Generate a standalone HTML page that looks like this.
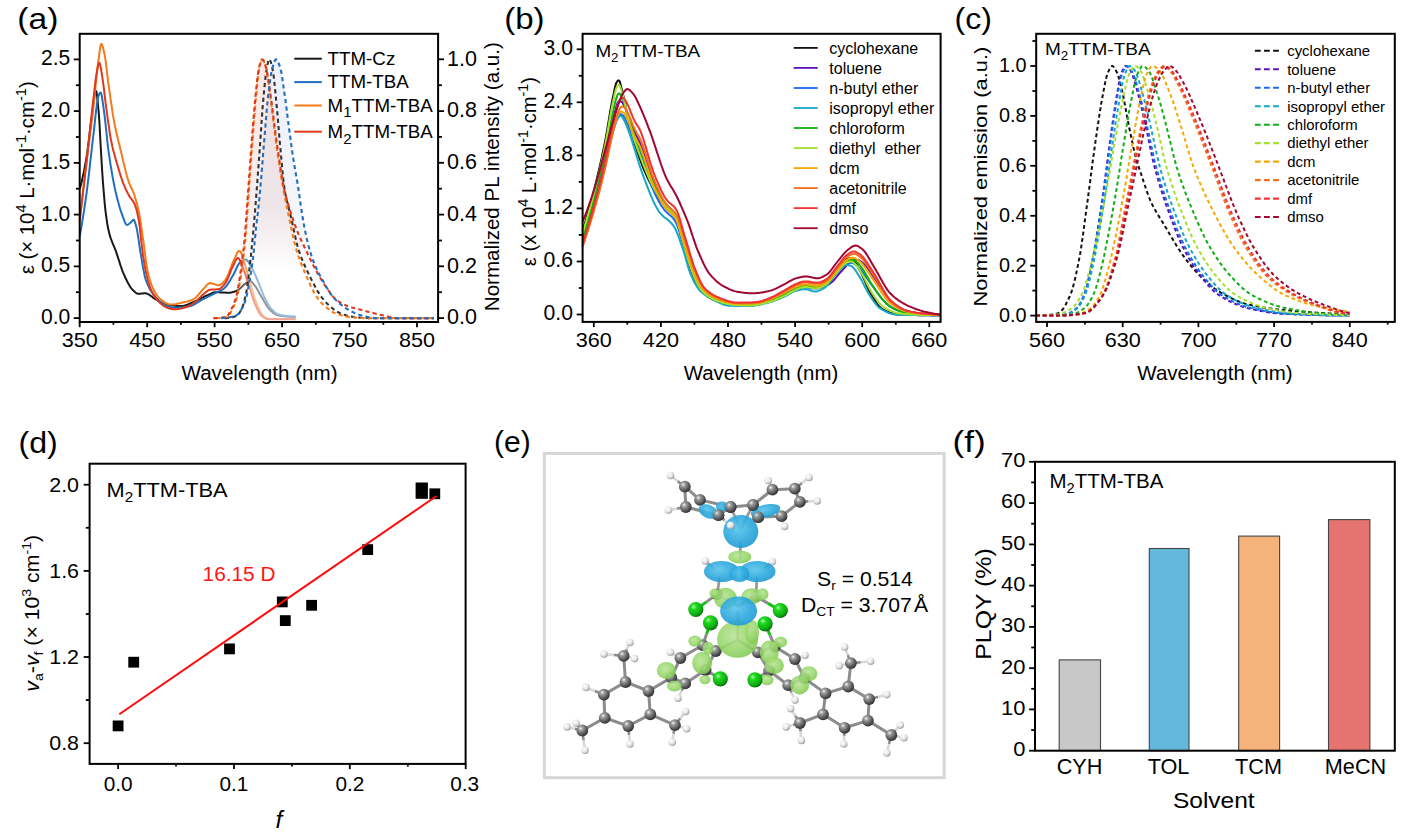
<!DOCTYPE html>
<html><head><meta charset="utf-8"><title>figure</title>
<style>
html,body{margin:0;padding:0;background:#fff;}
body{width:1414px;height:835px;overflow:hidden;font-family:"Liberation Sans",sans-serif;}
svg{display:block;font-family:"Liberation Sans",sans-serif;}
</style></head><body>
<svg width="1414" height="835" viewBox="0 0 1414 835">
<rect x="0" y="0" width="1414" height="835" fill="#fff"/>
<g id="panel_a">
<defs><linearGradient id="ga1" x1="0" y1="0" x2="0" y2="1"><stop offset="0" stop-color="#f0a090" stop-opacity="0.22"/><stop offset="0.55" stop-color="#e0b8b8" stop-opacity="0.26"/><stop offset="0.8" stop-color="#ffffff" stop-opacity="0.3"/><stop offset="1" stop-color="#ffffff" stop-opacity="0.32"/></linearGradient><linearGradient id="ga2" x1="0" y1="0" x2="0" y2="1"><stop offset="0" stop-color="#a8bce8" stop-opacity="0.22"/><stop offset="0.55" stop-color="#c8cce0" stop-opacity="0.2"/><stop offset="0.8" stop-color="#ffffff" stop-opacity="0.3"/><stop offset="1" stop-color="#ffffff" stop-opacity="0.32"/></linearGradient></defs>
<path d="M79.7 188.7L80.5 186.1L81.4 183L82.2 179.6L83 175.8L83.9 171.8L84.7 167.4L85.5 162.9L86.4 158.1L87.2 152.9L88 146.7L88.9 140L89.7 133.1L90.5 126.2L91.4 119.7L92.2 113.6L93 106.7L93.9 99.8L94.7 94.1L95.5 90.8L96.4 91.4L97.2 96.9L98 105.2L98.9 114.4L99.7 127.3L100.5 143L101.4 158.6L102.2 171.5L103 183.1L103.9 193.9L104.7 203.5L105.5 211.1L106.4 217.6L107.2 223.3L108 228.1L108.9 231.8L109.7 234.9L110.5 237.6L111.4 240L112.2 242.1L113 244.2L113.9 246.1L114.7 248.1L115.5 250.2L116.4 252.6L117.2 255.1L118 257.6L118.9 260.3L119.7 262.9L120.5 265.5L121.4 267.9L122.2 270.3L123 272.4L123.9 274.3L124.7 276.2L125.5 278L126.4 279.8L127.2 281.5L128 283.1L128.9 284.6L129.7 286L130.5 287.3L131.4 288.4L132.2 289.3L133 290.2L133.9 291L134.7 291.8L135.5 292.5L136.4 293.1L137.2 293.5L138 293.8L138.9 293.8L139.7 293.7L140.5 293.7L141.4 293.6L142.2 293.5L143 293.4L143.9 293.3L144.7 293.3L145.5 293.3L146.4 293.4L147.2 293.7L148 294.1L148.9 294.5L149.7 295.1L150.5 295.7L151.4 296.3L152.2 296.9L153 297.6L153.9 298.2L154.7 298.8L155.5 299.3L156.4 299.7L157.2 300.2L158 300.6L158.9 301.1L159.7 301.6L160.5 302.1L161.4 302.6L162.2 303L163 303.4L163.9 303.8L164.7 304.1L165.5 304.4L166.4 304.6L167.2 304.7L168 304.9L168.9 305L169.7 305.1L170.5 305.3L171.4 305.4L172.2 305.5L173.1 305.6L173.9 305.7L174.7 305.8L175.6 305.8L176.4 305.9L177.2 306L178.1 306L178.9 306.1L179.7 306.1L180.6 306.1L181.4 306.1L182.2 306L183.1 305.9L183.9 305.7L184.7 305.5L185.6 305.3L186.4 305L187.2 304.7L188.1 304.3L188.9 304L189.7 303.6L190.6 303.2L191.4 302.8L192.2 302.5L193.1 302.1L193.9 301.7L194.7 301.4L195.6 301L196.4 300.7L197.2 300.3L198.1 299.9L198.9 299.4L199.7 299L200.6 298.6L201.4 298.1L202.2 297.7L203.1 297.3L203.9 296.8L204.7 296.4L205.6 296L206.4 295.7L207.2 295.3L208.1 295L208.9 294.6L209.7 294.2L210.6 293.8L211.4 293.4L212.2 293.1L213.1 292.8L213.9 292.5L214.7 292.3L215.6 292.2L216.4 292.2L217.2 292.2L218.1 292.3L218.9 292.3L219.7 292.3L220.6 292.4L221.4 292.4L222.2 292.5L223.1 292.5L223.9 292.6L224.7 292.6L225.6 292.7L226.4 292.7L227.2 292.7L228.1 292.7L228.9 292.7L229.7 292.7L230.6 292.6L231.4 292.5L232.2 292.3L233.1 292L233.9 291.8L234.7 291.5L235.6 291.2L236.4 290.9L237.2 290.5L238.1 290.1L238.9 289.5L239.7 288.8L240.6 288L241.4 287.2L242.2 286.4L243.1 285.6L243.9 284.8L244.7 284.1L245.6 283.5L246.4 282.8L247.2 282.1L248.1 281.4L248.9 281L249.7 280.8L250.6 281.1L251.4 281.6L252.2 282.4L253.1 283.4L253.9 284.5L254.7 285.6L255.6 286.6L256.4 287.8L257.2 289.2L258.1 290.6L258.9 292.2L259.7 293.7L260.6 295.2L261.4 296.7L262.2 298L263.1 299.4L263.9 300.9L264.7 302.3L265.6 303.8L266.4 305.2L267.2 306.5L268.1 307.7L268.9 308.7L269.7 309.6L270.6 310.4L271.4 311.1L272.2 311.9L273.1 312.6L273.9 313.2L274.7 313.8L275.6 314.3L276.4 314.8L277.2 315.1L278.1 315.4L278.9 315.5L279.7 315.7L280.6 315.8L281.4 315.9L282.2 316L283.1 316.1L283.9 316.2L284.7 316.3L285.6 316.4L286.4 316.4L287.2 316.5L288.1 316.6L288.9 316.6L289.7 316.7L290.6 316.7L291.4 316.8L292.2 316.8L293.1 316.8L293.9 316.8L294.7 316.9L295.6 316.9" fill="none" stroke="#1a1a1a" stroke-width="2.0" stroke-linejoin="round" />
<path d="M79.7 236.3L80.5 231.9L81.4 227.1L82.2 222.2L83 217L83.9 211.7L84.7 206.1L85.5 200.4L86.4 194.5L87.2 188.2L88 181.5L88.9 174.5L89.7 167.2L90.5 159.8L91.4 152.4L92.2 145.2L93 138.2L93.9 131.2L94.7 123.5L95.5 115.6L96.4 108.3L97.2 102L98 97.4L98.9 94.9L99.7 93.3L100.5 92.5L101.4 94L102.2 98.3L103 104.2L103.9 110.3L104.7 116.5L105.5 123.9L106.4 131.9L107.2 139.9L108 147.4L108.9 153.6L109.7 159.2L110.5 164.6L111.4 169.7L112.2 174.6L113 179.1L113.9 183.5L114.7 187.6L115.5 191.4L116.4 194.9L117.2 198.3L118 201.5L118.9 204.5L119.7 207.4L120.5 210.1L121.4 212.6L122.2 214.9L123 217.1L123.9 219.4L124.7 221.6L125.5 223.5L126.4 224.7L127.2 224.9L128 224.6L128.9 224L129.7 223.3L130.5 222.7L131.4 221.8L132.2 220.8L133 220L133.9 219.8L134.7 221.3L135.5 224L136.4 227.1L137.2 230.9L138 236.1L138.9 241.8L139.7 247.5L140.5 252.6L141.4 257.5L142.2 262.5L143 267.4L143.9 271.9L144.7 275.9L145.5 279L146.4 281.3L147.2 283.4L148 285.3L148.9 287.1L149.7 288.7L150.5 290.2L151.4 291.5L152.2 292.8L153 294L153.9 295L154.7 296L155.5 297L156.4 297.9L157.2 298.7L158 299.6L158.9 300.4L159.7 301.1L160.5 301.8L161.4 302.5L162.2 303.1L163 303.7L163.9 304.2L164.7 304.7L165.5 305.2L166.4 305.5L167.2 305.9L168 306.2L168.9 306.5L169.7 306.8L170.5 307.1L171.4 307.4L172.2 307.6L173.1 307.7L173.9 307.7L174.7 307.7L175.6 307.7L176.4 307.7L177.2 307.7L178.1 307.6L178.9 307.6L179.7 307.5L180.6 307.4L181.4 307.4L182.2 307.3L183.1 307.2L183.9 307.1L184.7 307L185.6 306.8L186.4 306.7L187.2 306.6L188.1 306.5L188.9 306.3L189.7 306.2L190.6 306L191.4 305.7L192.2 305.4L193.1 305.1L193.9 304.6L194.7 304.2L195.6 303.7L196.4 303.2L197.2 302.7L198.1 302.1L198.9 301.6L199.7 301.1L200.6 300.5L201.4 300.1L202.2 299.6L203.1 299.2L203.9 298.8L204.7 298.3L205.6 297.9L206.4 297.5L207.2 297.1L208.1 296.7L208.9 296.3L209.7 295.9L210.6 295.5L211.4 295.1L212.2 294.6L213.1 294.2L213.9 293.8L214.7 293.4L215.6 293L216.4 292.5L217.2 292.1L218.1 291.7L218.9 291.4L219.7 291L220.6 290.6L221.4 290.1L222.2 289.7L223.1 289.1L223.9 288.5L224.7 287.8L225.6 287L226.4 285.9L227.2 284.8L228.1 283.6L228.9 282.2L229.7 280.9L230.6 279.5L231.4 278.1L232.2 276.7L233.1 275.3L233.9 273.8L234.7 272L235.6 270.3L236.4 268.4L237.2 266.7L238.1 265.1L238.9 263.7L239.7 262.7L240.6 262L241.4 261.4L242.2 260.8L243.1 260.4L243.9 260L244.7 259.7L245.6 259.6L246.4 259.8L247.2 260.5L248.1 261.5L248.9 262.8L249.7 264.2L250.6 265.6L251.4 266.9L252.2 268.4L253.1 270L253.9 271.8L254.7 273.7L255.6 275.6L256.4 277.6L257.2 279.5L258.1 281.5L258.9 283.5L259.7 285.6L260.6 287.8L261.4 290L262.2 292.1L263.1 294.1L263.9 296.1L264.7 297.8L265.6 299.4L266.4 301.1L267.2 302.7L268.1 304.2L268.9 305.6L269.7 306.8L270.6 308L271.4 308.9L272.2 309.8L273.1 310.6L273.9 311.4L274.7 312.2L275.6 312.9L276.4 313.4L277.2 313.9L278.1 314.3L278.9 314.5L279.7 314.7L280.6 314.9L281.4 315.1L282.2 315.2L283.1 315.4L283.9 315.5L284.7 315.7L285.6 315.8L286.4 315.9L287.2 316L288.1 316.1L288.9 316.2L289.7 316.3L290.6 316.4L291.4 316.4L292.2 316.5L293.1 316.5L293.9 316.5L294.7 316.5L295.6 316.5" fill="none" stroke="#1f6fc0" stroke-width="2.0" stroke-linejoin="round" />
<path d="M79.7 221.8L80.5 213.8L81.4 206L82.2 198.4L83 191L83.9 183.8L84.7 176.9L85.5 170.2L86.4 163.5L87.2 156.8L88 150.2L88.9 143.7L89.7 137.3L90.5 130.7L91.4 124.1L92.2 117.3L93 110.4L93.9 103L94.7 94.9L95.5 86.6L96.4 78.3L97.2 70.5L98 63.4L98.9 57.3L99.7 50.9L100.5 45.7L101.4 43.8L102.2 45L103 47.7L103.9 51.2L104.7 55L105.5 60.2L106.4 66.7L107.2 73.8L108 80.7L108.9 86.7L109.7 92.7L110.5 98.7L111.4 104.5L112.2 110.1L113 115.4L113.9 120.2L114.7 124.6L115.5 128.6L116.4 132.4L117.2 136L118 139.5L118.9 142.9L119.7 146.3L120.5 149.7L121.4 153.2L122.2 156.8L123 160.4L123.9 163.9L124.7 167.4L125.5 170.8L126.4 174L127.2 177L128 179.7L128.9 182.2L129.7 184.3L130.5 186.2L131.4 188L132.2 189.8L133 191.6L133.9 193.7L134.7 196.1L135.5 198.7L136.4 201.6L137.2 204.8L138 208.2L138.9 212L139.7 216.4L140.5 221.6L141.4 227.3L142.2 233.2L143 239.1L143.9 245L144.7 251.4L145.5 257.9L146.4 264L147.2 269.1L148 273L148.9 276.4L149.7 279.4L150.5 282.2L151.4 284.6L152.2 286.7L153 288.5L153.9 290.2L154.7 291.7L155.5 293.2L156.4 294.5L157.2 295.7L158 296.9L158.9 297.8L159.7 298.7L160.5 299.4L161.4 300L162.2 300.6L163 301.2L163.9 301.8L164.7 302.3L165.5 302.8L166.4 303.2L167.2 303.6L168 304L168.9 304.3L169.7 304.5L170.5 304.6L171.4 304.6L172.2 304.6L173.1 304.6L173.9 304.5L174.7 304.3L175.6 304.2L176.4 304L177.2 303.8L178.1 303.6L178.9 303.4L179.7 303.2L180.6 303L181.4 302.8L182.2 302.6L183.1 302.4L183.9 302.2L184.7 302L185.6 301.8L186.4 301.6L187.2 301.4L188.1 301.2L188.9 301L189.7 300.7L190.6 300.4L191.4 300.1L192.2 299.8L193.1 299.5L193.9 299L194.7 298.4L195.6 297.7L196.4 296.9L197.2 296L198.1 295.1L198.9 294.1L199.7 293.1L200.6 292.1L201.4 291.1L202.2 290.2L203.1 289.3L203.9 288.4L204.7 287.6L205.6 286.6L206.4 285.6L207.2 284.7L208.1 283.9L208.9 283.4L209.7 283.1L210.6 283.2L211.4 283.3L212.2 283.5L213.1 283.7L213.9 284L214.7 284.3L215.6 284.6L216.4 284.8L217.2 285L218.1 285.2L218.9 285.2L219.7 285L220.6 284.6L221.4 284L222.2 283.3L223.1 282.5L223.9 281.6L224.7 280.6L225.6 279.6L226.4 278.4L227.2 276.8L228.1 274.9L228.9 272.9L229.7 270.7L230.6 268.4L231.4 266.2L232.2 264L233.1 262L233.9 260.3L234.7 258.4L235.6 256.5L236.4 254.6L237.2 252.9L238.1 251.6L238.9 250.9L239.7 251L240.6 251.8L241.4 253.4L242.2 255.5L243.1 258L243.9 260.8L244.7 263.7L245.6 266.7L246.4 269.6L247.2 272.3L248.1 275.1L248.9 278.2L249.7 281.4L250.6 284.5L251.4 287.4L252.2 290.2L253.1 293L253.9 295.7L254.7 298.3L255.6 300.8L256.4 303.1L257.2 305.2L258.1 307.1L258.9 309L259.7 310.8L260.6 312.4L261.4 313.9L262.2 315.1L263.1 315.9L263.9 316.5L264.7 317.1L265.6 317.7L266.4 318.1L267.2 318.5L268.1 318.8L268.9 319L269.7 319.1L270.6 319.1L271.4 319.1L272.2 319.1L273.1 319.1L273.9 319.1L274.7 319.1L275.6 319.1L276.4 319.1L277.2 319.1L278.1 319.1L278.9 319.1L279.7 319.1L280.6 319.1L281.4 319.1L282.2 319.1L283.1 319.1L283.9 319.1L284.7 319.1L285.6 319.1L286.4 319.1L287.2 319.1L288.1 319.1L288.9 319.1L289.7 319.1L290.6 319.1L291.4 319.1L292.2 319.1L293.1 319.1L293.9 319.1L294.7 319.1L295.6 319.1" fill="none" stroke="#f57a1a" stroke-width="2.0" stroke-linejoin="round" />
<path d="M79.7 219.8L80.5 213L81.4 206.2L82.2 199.3L83 192.3L83.9 185.2L84.7 178.1L85.5 170.8L86.4 163.5L87.2 156.1L88 148.3L88.9 140.4L89.7 132.5L90.5 124.6L91.4 116.8L92.2 109.3L93 102.1L93.9 95L94.7 87.7L95.5 80.8L96.4 74.7L97.2 69.9L98 65.8L98.9 62.9L99.7 63L100.5 66.4L101.4 71.3L102.2 76.3L103 81.9L103.9 88.4L104.7 95.3L105.5 102.3L106.4 108.8L107.2 114.8L108 120.8L108.9 126.7L109.7 132.3L110.5 137.5L111.4 142L112.2 145.9L113 149.4L113.9 152.6L114.7 155.6L115.5 158.5L116.4 161.4L117.2 164.2L118 167.1L118.9 169.9L119.7 172.7L120.5 175.4L121.4 178L122.2 180.4L123 182.7L123.9 184.9L124.7 186.8L125.5 188.7L126.4 190.5L127.2 192.1L128 193.7L128.9 195.2L129.7 196.7L130.5 197.9L131.4 199L132.2 200.1L133 201.2L133.9 202.6L134.7 204.3L135.5 206.5L136.4 209.3L137.2 212.6L138 216.4L138.9 220.8L139.7 226.5L140.5 234.4L141.4 242.5L142.2 249L143 255L143.9 260.7L144.7 265.8L145.5 270.3L146.4 274.1L147.2 277.5L148 280.8L148.9 283.7L149.7 286.3L150.5 288.6L151.4 290.5L152.2 292.2L153 293.8L153.9 295.3L154.7 296.6L155.5 297.9L156.4 299L157.2 300L158 300.9L158.9 301.8L159.7 302.6L160.5 303.3L161.4 304.1L162.2 304.7L163 305.4L163.9 306L164.7 306.5L165.5 306.9L166.4 307.4L167.2 307.7L168 308L168.9 308.2L169.7 308.5L170.5 308.8L171.4 309L172.2 309.1L173.1 309.2L173.9 309.3L174.7 309.3L175.6 309.3L176.4 309.2L177.2 309.1L178.1 309L178.9 308.9L179.7 308.7L180.6 308.6L181.4 308.4L182.2 308.2L183.1 308L183.9 307.8L184.7 307.6L185.6 307.4L186.4 307.1L187.2 306.7L188.1 306.3L188.9 305.9L189.7 305.5L190.6 305L191.4 304.5L192.2 304L193.1 303.4L193.9 302.9L194.7 302.3L195.6 301.7L196.4 301L197.2 300.3L198.1 299.4L198.9 298.6L199.7 297.7L200.6 296.9L201.4 296L202.2 295.2L203.1 294.5L203.9 293.7L204.7 293.1L205.6 292.4L206.4 291.7L207.2 291.1L208.1 290.5L208.9 290L209.7 289.8L210.6 289.7L211.4 289.6L212.2 289.5L213.1 289.5L213.9 289.4L214.7 289.4L215.6 289.4L216.4 289.3L217.2 289.3L218.1 289.2L218.9 289.1L219.7 288.8L220.6 288.3L221.4 287.6L222.2 286.8L223.1 285.9L223.9 284.9L224.7 283.8L225.6 282.7L226.4 281.4L227.2 279.7L228.1 277.8L228.9 275.8L229.7 273.6L230.6 271.5L231.4 269.4L232.2 267.6L233.1 265.9L233.9 264.2L234.7 262.4L235.6 260.6L236.4 259.2L237.2 258.3L238.1 258.1L238.9 258.6L239.7 259.8L240.6 261.5L241.4 263.6L242.2 265.8L243.1 268.2L243.9 270.5L244.7 272.6L245.6 275L246.4 277.5L247.2 280.2L248.1 282.9L248.9 285.6L249.7 288.2L250.6 290.7L251.4 293.4L252.2 296.1L253.1 298.7L253.9 301.1L254.7 303.4L255.6 305.4L256.4 307.2L257.2 309L258.1 310.6L258.9 312.2L259.7 313.6L260.6 314.7L261.4 315.7L262.2 316.3L263.1 316.9L263.9 317.4L264.7 317.9L265.6 318.4L266.4 318.7L267.2 319L268.1 319.1L268.9 319.1L269.7 319.2L270.6 319.2L271.4 319.2L272.2 319.2L273.1 319.2L273.9 319.2L274.7 319.2L275.6 319.2L276.4 319.3L277.2 319.3L278.1 319.3L278.9 319.3L279.7 319.3L280.6 319.3L281.4 319.3L282.2 319.3L283.1 319.3L283.9 319.3L284.7 319.3L285.6 319.3L286.4 319.3L287.2 319.3L288.1 319.3L288.9 319.3L289.7 319.3L290.6 319.3L291.4 319.3L292.2 319.3L293.1 319.3L293.9 319.3L294.7 319.3L295.6 319.3" fill="none" stroke="#e0381c" stroke-width="2.0" stroke-linejoin="round" />
<path d="M238.2 313.8L239 312.9L239.7 312L240.4 310.9L241.1 309.8L241.9 308.6L242.6 307.3L243.3 305.8L244.1 304L244.8 302.1L245.5 299.9L246.2 297.5L247 294.5L247.7 291L248.4 287.2L249.2 283.1L249.9 279.1L250.6 274.8L251.4 270.2L252.1 265.3L252.8 259.8L253.5 253.4L254.3 246L255 238.4L255.7 231.1L256.5 224.4L257.2 218L257.9 211.7L258.6 205.3L259.4 198.4L260.1 190.9L260.8 182.6L261.6 173.6L262.3 164.4L263 155.2L263.7 146.2L264.5 137.4L265.2 128.4L265.9 119.4L266.7 110.9L267.4 103.1L268.1 96.4L268.8 90.1L269.6 84.2L270.3 78.8L271 74.1L271.8 70.5L272.5 67.7L273.2 65L273.9 62.7L274.7 60.8L275.4 59.6L276.1 59.3L276.9 59.8L277.6 60.8L278.3 62.4L279 64.2L279.8 66.3L280.5 68.6L281.2 71.9L282 76.1L282.7 80.8L283.4 86L284.1 91.2L284.9 96.2L285.6 101.4L286.3 106.9L287.1 112.7L287.8 118.5L288.5 124.3L289.2 129.9L290 135.3L290.7 140.6L291.4 145.8L292.2 151L292.9 156L293.6 160.7L294.4 165.2L295.1 169.4L295.8 173.5L296.5 177.6L297.3 181.8L298 186.2L298.7 191L299.5 196.1L300.2 201.3L300.9 206.5L301.6 211.4L302.4 215.9L303.1 220.1L303.8 224.1L304.6 228L305.3 231.8L306 235.3L306.7 238.7L307.5 241.8L308.2 244.7L308.9 247.4L309.7 250L310.4 252.4L311.1 254.8L311.8 257L312.6 259.1L313.3 261.1L314 263L314.8 264.8L315.5 266.5L316.2 268.1L316.9 269.6L317.7 271.1L318.4 272.5L319.1 273.9L319.9 275.3L320.6 276.6L321.3 277.9L322 279.2L322.8 280.5L323.5 281.8L324.2 283.1L325 284.4L325.7 285.7L326.4 287L327.1 288.3L327.9 289.5L328.6 290.7L329.3 291.8L330.1 292.9L330.8 294L331.5 295L332.3 295.9L333 296.8L333.7 297.6L334.4 298.4L335.2 299.2L335.9 300L336.6 300.7L337.4 301.4L338.1 302.1L338.8 302.8L339.5 303.4L340.3 304L341 304.6L341.7 305.2L342.5 305.7L343.2 306.3L343.9 306.8L344.6 307.3L345.4 307.8L346.1 308.3L346.8 308.8L347.6 309.2L348.3 309.7L349 310.1L349.7 310.5L350.5 310.9L351.2 311.3L351.9 311.7L352.7 312L353.4 312.4L354.1 312.7L354.8 313.1L355.6 313.4L356.3 313.7L357 314L357.8 314.3L358.5 314.5L359.2 314.8L359.9 315L360.7 315.2L361.4 315.4L362.1 315.6L362.9 315.8L363.6 316L364.3 316.2L365 316.3L365.8 316.5L366.5 316.7L367.2 316.9L368 317L368.7 317.2L369.4 317.3L370.2 317.5L370.9 317.6L371.6 317.7L372.3 317.8L373.1 317.9L373.8 318L374.5 318L375.3 318.1L376 318.1L376.7 318.1L377.4 318.1L378.2 318.1L378.9 318.1L379.6 318.1L380.4 318.1L381.1 318.1L381.8 318.1L382.5 318.1L383.3 318.1L383.3 321.7L238.2 321.7Z" fill="url(#ga2)" stroke="none"/>
<path d="M224.7 317.1L225.5 317L226.3 316.8L227.1 316.4L227.9 315.5L228.7 314.2L229.5 312.8L230.3 311.2L231.1 309.6L231.9 308.1L232.7 306.5L233.5 304.7L234.3 302.7L235.1 300.5L235.9 298L236.7 295L237.5 291.1L238.3 286.8L239.1 282.1L239.9 276.9L240.7 271.2L241.5 265.3L242.3 259.5L243.1 253.5L243.9 246.7L244.7 238.8L245.5 229.1L246.2 218.1L247 206.6L247.8 195.3L248.6 184.4L249.4 173.3L250.2 162.2L251 151.3L251.8 140.8L252.6 130.4L253.4 119.9L254.2 109.9L255 100.7L255.8 92.6L256.6 85.2L257.4 78.1L258.2 72.1L259 67.7L259.8 64.6L260.6 62L261.4 60L262.2 59.3L263 59.8L263.8 61.2L264.6 63.1L265.4 65.5L266.2 68L267 71.5L267.8 76L268.6 81.1L269.4 86.7L270.1 92.3L270.9 97.8L271.7 103.7L272.5 109.8L273.3 116.2L274.1 122.5L274.9 128.7L275.7 134.6L276.5 140.4L277.3 146.1L278.1 151.7L278.9 157.1L279.7 162.4L280.5 167.7L281.3 172.9L282.1 177.9L282.9 182.4L283.7 186.4L284.5 190.1L285.3 193.4L286.1 196.6L286.9 199.6L287.7 202.5L288.5 205.2L289.3 207.9L290.1 210.5L290.9 213L291.7 215.5L292.5 217.9L293.2 220.3L294 222.5L294.8 224.7L295.6 226.9L296.4 228.9L297.2 231L298 232.9L298.8 234.8L299.6 236.7L300.4 238.5L301.2 240.3L302 242L302.8 243.7L303.6 245.4L304.4 247L305.2 248.7L306 250.3L306.8 252L307.6 253.7L308.4 255.3L309.2 257L310 258.6L310.8 260.3L311.6 261.9L312.4 263.5L313.2 265L314 266.6L314.8 268L315.6 269.5L316.4 271L317.1 272.4L317.9 273.8L318.7 275.2L319.5 276.6L320.3 278L321.1 279.3L321.9 280.6L322.7 281.9L323.5 283.1L324.3 284.3L325.1 285.5L325.9 286.7L326.7 287.9L327.5 289.1L328.3 290.3L329.1 291.4L329.9 292.5L330.7 293.6L331.5 294.7L332.3 295.7L333.1 296.6L333.9 297.5L334.7 298.3L335.5 299L336.3 299.7L337.1 300.3L337.9 300.8L338.7 301.4L339.5 301.9L340.3 302.4L341 302.9L341.8 303.4L342.6 303.8L343.4 304.2L344.2 304.6L345 304.9L345.8 305.3L346.6 305.6L347.4 305.9L348.2 306.2L349 306.5L349.8 306.7L350.6 307L351.4 307.3L352.2 307.5L353 307.7L353.8 307.9L354.6 308.2L355.4 308.4L356.2 308.6L357 308.8L357.8 309L358.6 309.2L359.4 309.4L360.2 309.6L361 309.9L361.8 310.1L362.6 310.3L363.4 310.5L364.2 310.7L364.9 310.9L365.7 311.1L366.5 311.3L367.3 311.6L368.1 311.8L368.9 312L369.7 312.2L370.5 312.4L371.3 312.6L372.1 312.8L372.9 313L373.7 313.1L374.5 313.3L375.3 313.5L376.1 313.7L376.9 313.9L377.7 314.1L378.5 314.3L379.3 314.5L380.1 314.7L380.9 314.9L381.7 315.1L382.5 315.3L383.3 315.4L383.3 321.7L224.7 321.7Z" fill="url(#ga1)" stroke="none"/>
<path d="M224.7 318.1L225.5 318.1L226.4 318.1L227.2 318L228 317.9L228.8 317.8L229.6 317.7L230.4 317.6L231.2 317.4L232 317.2L232.8 317.1L233.6 316.8L234.4 316.6L235.2 316.4L236 316.1L236.9 315.7L237.7 315.1L238.5 314.2L239.3 313.1L240.1 311.8L240.9 310.4L241.7 308.9L242.5 307L243.3 304.7L244.1 301.9L244.9 298.7L245.7 295.1L246.5 291.1L247.3 286L248.2 279.9L249 273L249.8 265.8L250.6 258.6L251.4 251L252.2 242.8L253 234.3L253.8 225.5L254.6 216.3L255.4 206.6L256.2 196.6L257 186.1L257.8 175.1L258.7 163.7L259.5 152.3L260.3 141L261.1 129.1L261.9 117.4L262.7 106.6L263.5 97.3L264.3 88.6L265.1 80.6L265.9 73.8L266.7 68.8L267.5 64.5L268.3 61L269.1 59.3L270 59.9L270.8 62L271.6 65L272.4 68.5L273.2 72.7L274 78.8L274.8 86.3L275.6 94.7L276.4 103.1L277.2 111.6L278 120.8L278.8 130.5L279.6 140.2L280.5 149.5L281.3 158.2L282.1 167L282.9 175.6L283.7 183.1L284.5 189L285.3 193.6L286.1 197.6L286.9 201.1L287.7 204.3L288.5 207.3L289.3 210.3L290.1 213.5L290.9 216.8L291.8 220.4L292.6 224.2L293.4 228L294.2 231.9L295 235.6L295.8 239.3L296.6 242.7L297.4 245.8L298.2 248.6L299 251.1L299.8 253.4L300.6 255.7L301.4 257.8L302.3 259.9L303.1 261.8L303.9 263.7L304.7 265.5L305.5 267.3L306.3 269L307.1 270.7L307.9 272.4L308.7 274L309.5 275.7L310.3 277.3L311.1 278.9L311.9 280.6L312.7 282.2L313.6 283.7L314.4 285.3L315.2 286.8L316 288.3L316.8 289.7L317.6 291.1L318.4 292.4L319.2 293.7L320 294.9L320.8 296L321.6 297.1L322.4 298.1L323.2 299.1L324.1 300.1L324.9 301.1L325.7 302L326.5 302.9L327.3 303.7L328.1 304.5L328.9 305.2L329.7 306L330.5 306.6L331.3 307.3L332.1 308L332.9 308.6L333.7 309.3L334.6 309.9L335.4 310.4L336.2 311L337 311.5L337.8 312L338.6 312.4L339.4 312.9L340.2 313.2L341 313.5L341.8 313.8L342.6 314.1L343.4 314.4L344.2 314.7L345 314.9L345.9 315.2L346.7 315.4L347.5 315.7L348.3 315.9L349.1 316.1L349.9 316.3L350.7 316.5L351.5 316.6L352.3 316.8L353.1 316.9L353.9 317L354.7 317.2L355.5 317.3L356.4 317.3L357.2 317.4L358 317.5L358.8 317.5L359.6 317.6L360.4 317.7L361.2 317.7L362 317.8L362.8 317.8L363.6 317.9L364.4 317.9L365.2 318L366 318L366.8 318L367.7 318L368.5 318.1L369.3 318.1L370.1 318.1L370.9 318.1L371.7 318.1L372.5 318.1L373.3 318.1L374.1 318.1L374.9 318.1L375.7 318.1L376.5 318.1L377.3 318.1L378.2 318.1L379 318.1L379.8 318.1L380.6 318.1L381.4 318.1L382.2 318.1L383 318.1L383.8 318.1L384.6 318.1L385.4 318.1L386.2 318.1L387 318.1L387.8 318.1L388.6 318.1L389.5 318.1L390.3 318.1L391.1 318.1L391.9 318.1L392.7 318.1L393.5 318.1L394.3 318.1L395.1 318.1L395.9 318.1L396.7 318.1L397.5 318.1L398.3 318.1L399.1 318.1L400 318.1L400.8 318.1L401.6 318.1L402.4 318.1L403.2 318.1L404 318.1L404.8 318.1L405.6 318.1L406.4 318.1L407.2 318.1L408 318.1L408.8 318.1L409.6 318.1L410.4 318.1L411.3 318.1L412.1 318.1L412.9 318.1L413.7 318.1L414.5 318.1L415.3 318.1L416.1 318.1L416.9 318.1L417.7 318.1L418.5 318.1L419.3 318.1L420.1 318.1L420.9 318.1L421.8 318.1L422.6 318.1L423.4 318.1L424.2 318.1L425 318.1L425.8 318.1L426.6 318.1L427.4 318.1L428.2 318.1L429 318.1L429.8 318.1L430.6 318.1L431.4 318.1L432.3 318.1L433.1 318.1L433.9 318.1" fill="none" stroke="#333" stroke-width="2.1" stroke-dasharray="4.2 3.2" stroke-linejoin="round" />
<path d="M216 318.1L216.8 318.1L217.7 318.1L218.5 318L219.3 318L220.2 317.9L221 317.9L221.9 317.8L222.7 317.7L223.5 317.6L224.4 317.4L225.2 317.3L226.1 317.1L226.9 316.9L227.7 316.7L228.6 316L229.4 314.8L230.3 313.3L231.1 311.6L232 310L232.8 308.3L233.6 306.6L234.5 304.6L235.3 302.5L236.2 300L237 297.2L237.8 293.7L238.7 289.4L239.5 284.7L240.4 279.5L241.2 273.5L242 267.1L242.9 260.6L243.7 253.9L244.6 246.5L245.4 237.8L246.3 227.2L247.1 215.5L247.9 203.4L248.8 191.7L249.6 180.1L250.5 168.4L251.3 156.8L252.1 145.5L253 134.3L253.8 122.9L254.7 111.8L255.5 101.5L256.4 92.5L257.2 84.2L258 76.5L258.9 70.2L259.7 66.1L260.6 62.9L261.4 60.5L262.2 59.3L263.1 59.7L263.9 61.3L264.8 63.5L265.6 66.1L266.4 69.2L267.3 73.7L268.1 79.3L269 85.6L269.8 92.1L270.7 98.4L271.5 104.9L272.3 111.9L273.2 119.1L274 126.3L274.9 133.3L275.7 139.7L276.5 145.9L277.4 151.9L278.2 157.7L279.1 163.3L279.9 168.8L280.7 174.1L281.6 179.2L282.4 184L283.3 188.7L284.1 193.2L285 197.5L285.8 201.8L286.6 205.9L287.5 210L288.3 214L289.2 218L290 222L290.8 226.1L291.7 230.1L292.5 234.1L293.4 237.9L294.2 241.5L295.1 244.9L295.9 248L296.7 250.8L297.6 253.5L298.4 256L299.3 258.4L300.1 260.8L300.9 263L301.8 265.2L302.6 267.3L303.5 269.3L304.3 271.3L305.1 273.3L306 275.2L306.8 277.1L307.7 279.1L308.5 281L309.4 282.9L310.2 284.8L311 286.7L311.9 288.4L312.7 290.1L313.6 291.8L314.4 293.3L315.2 294.7L316.1 296L316.9 297.2L317.8 298.4L318.6 299.5L319.4 300.5L320.3 301.6L321.1 302.5L322 303.4L322.8 304.3L323.7 305.1L324.5 305.9L325.3 306.6L326.2 307.3L327 308L327.9 308.7L328.7 309.3L329.5 310L330.4 310.6L331.2 311.1L332.1 311.7L332.9 312.1L333.8 312.6L334.6 313L335.4 313.3L336.3 313.6L337.1 313.9L338 314.2L338.8 314.5L339.6 314.8L340.5 315L341.3 315.3L342.2 315.5L343 315.7L343.8 316L344.7 316.2L345.5 316.4L346.4 316.5L347.2 316.7L348.1 316.8L348.9 317L349.7 317.1L350.6 317.2L351.4 317.3L352.3 317.4L353.1 317.4L353.9 317.5L354.8 317.6L355.6 317.6L356.5 317.7L357.3 317.8L358.1 317.8L359 317.9L359.8 317.9L360.7 318L361.5 318L362.4 318L363.2 318.1L364 318.1L364.9 318.1L365.7 318.1L366.6 318.1L367.4 318.1L368.2 318.1L369.1 318.1L369.9 318.1L370.8 318.1L371.6 318.1L372.5 318.1L373.3 318.1L374.1 318.1L375 318.1L375.8 318.1L376.7 318.1L377.5 318.1L378.3 318.1L379.2 318.1L380 318.1L380.9 318.1L381.7 318.1L382.5 318.1L383.4 318.1L384.2 318.1L385.1 318.1L385.9 318.1L386.8 318.1L387.6 318.1L388.4 318.1L389.3 318.1L390.1 318.1L391 318.1L391.8 318.1L392.6 318.1L393.5 318.1L394.3 318.1L395.2 318.1L396 318.1L396.8 318.1L397.7 318.1L398.5 318.1L399.4 318.1L400.2 318.1L401.1 318.1L401.9 318.1L402.7 318.1L403.6 318.1L404.4 318.1L405.3 318.1L406.1 318.1L406.9 318.1L407.8 318.1L408.6 318.1L409.5 318.1L410.3 318.1L411.1 318.1L412 318.1L412.8 318.1L413.7 318.1L414.5 318.1L415.4 318.1L416.2 318.1L417 318.1L417.9 318.1L418.7 318.1L419.6 318.1L420.4 318.1L421.2 318.1L422.1 318.1L422.9 318.1L423.8 318.1L424.6 318.1L425.5 318.1L426.3 318.1L427.1 318.1L428 318.1L428.8 318.1L429.7 318.1L430.5 318.1L431.3 318.1L432.2 318.1L433 318.1L433.9 318.1" fill="none" stroke="#f57a1a" stroke-width="2.1" stroke-dasharray="4.2 3.2" stroke-linejoin="round" />
<path d="M213.3 318.1L214.1 318.1L215 318.1L215.8 318.1L216.7 318L217.5 318L218.4 317.9L219.2 317.9L220.1 317.8L220.9 317.7L221.8 317.6L222.6 317.5L223.5 317.3L224.3 317.2L225.2 317L226 316.9L226.9 316.6L227.7 315.7L228.6 314.4L229.5 312.9L230.3 311.2L231.2 309.5L232 307.9L232.9 306.1L233.7 304.2L234.6 302L235.4 299.6L236.3 296.7L237.1 293L238 288.5L238.8 283.6L239.7 278.3L240.5 272.3L241.4 266L242.2 259.8L243.1 253.3L243.9 246.1L244.8 237.3L245.6 226.6L246.5 214.6L247.3 202.3L248.2 190.5L249 178.8L249.9 166.9L250.7 155.1L251.6 143.7L252.4 132.6L253.3 121.5L254.2 110.7L255 100.7L255.9 92.1L256.7 84.2L257.6 76.8L258.4 70.7L259.3 66.6L260.1 63.5L261 60.9L261.8 59.5L262.7 59.5L263.5 60.7L264.4 62.6L265.2 65L266.1 67.7L266.9 71.3L267.8 76.1L268.6 81.7L269.5 87.6L270.3 93.6L271.2 99.6L272 105.9L272.9 112.7L273.7 119.5L274.6 126.2L275.4 132.6L276.3 138.8L277.1 144.9L278 150.9L278.9 156.7L279.7 162.4L280.6 168L281.4 173.6L282.3 178.8L283.1 183.6L284 187.7L284.8 191.5L285.7 195L286.5 198.3L287.4 201.4L288.2 204.4L289.1 207.2L289.9 210L290.8 212.8L291.6 215.4L292.5 218L293.3 220.5L294.2 222.9L295 225.2L295.9 227.5L296.7 229.7L297.6 231.9L298.4 233.9L299.3 235.9L300.1 237.9L301 239.8L301.8 241.6L302.7 243.5L303.6 245.3L304.4 247L305.3 248.8L306.1 250.6L307 252.3L307.8 254.1L308.7 255.9L309.5 257.7L310.4 259.4L311.2 261.2L312.1 262.9L312.9 264.6L313.8 266.2L314.6 267.8L315.5 269.4L316.3 270.9L317.2 272.5L318 274L318.9 275.5L319.7 276.9L320.6 278.4L321.4 279.8L322.3 281.2L323.1 282.5L324 283.8L324.8 285.1L325.7 286.4L326.5 287.7L327.4 288.9L328.3 290.2L329.1 291.4L330 292.6L330.8 293.8L331.7 294.9L332.5 296L333.4 296.9L334.2 297.8L335.1 298.7L335.9 299.4L336.8 300L337.6 300.7L338.5 301.3L339.3 301.8L340.2 302.4L341 302.9L341.9 303.4L342.7 303.8L343.6 304.3L344.4 304.7L345.3 305L346.1 305.4L347 305.7L347.8 306.1L348.7 306.4L349.5 306.7L350.4 306.9L351.2 307.2L352.1 307.5L353 307.7L353.8 307.9L354.7 308.2L355.5 308.4L356.4 308.6L357.2 308.9L358.1 309.1L358.9 309.3L359.8 309.5L360.6 309.8L361.5 310L362.3 310.2L363.2 310.5L364 310.7L364.9 310.9L365.7 311.1L366.6 311.4L367.4 311.6L368.3 311.8L369.1 312L370 312.2L370.8 312.4L371.7 312.7L372.5 312.9L373.4 313.1L374.2 313.3L375.1 313.5L375.9 313.7L376.8 313.9L377.7 314.1L378.5 314.3L379.4 314.5L380.2 314.7L381.1 314.9L381.9 315.1L382.8 315.3L383.6 315.5L384.5 315.7L385.3 315.9L386.2 316.1L387 316.3L387.9 316.5L388.7 316.7L389.6 316.9L390.4 317.1L391.3 317.4L392.1 317.6L393 317.7L393.8 317.9L394.7 318L395.5 318.1L396.4 318.1L397.2 318.1L398.1 318.1L398.9 318.1L399.8 318.1L400.6 318.1L401.5 318.1L402.4 318.1L403.2 318.1L404.1 318.1L404.9 318.1L405.8 318.1L406.6 318.1L407.5 318.1L408.3 318.1L409.2 318.1L410 318.1L410.9 318.1L411.7 318.1L412.6 318.1L413.4 318.1L414.3 318.1L415.1 318.1L416 318.1L416.8 318.1L417.7 318.1L418.5 318.1L419.4 318.1L420.2 318.1L421.1 318.1L421.9 318.1L422.8 318.1L423.6 318.1L424.5 318.1L425.3 318.1L426.2 318.1L427.1 318.1L427.9 318.1L428.8 318.1L429.6 318.1L430.5 318.1L431.3 318.1L432.2 318.1L433 318.1L433.9 318.1" fill="none" stroke="#e0381c" stroke-width="2.1" stroke-dasharray="4.2 3.2" stroke-linejoin="round" />
<path d="M221.4 318.1L222.2 318.1L223 318L223.8 318L224.6 317.9L225.5 317.8L226.3 317.7L227.1 317.6L227.9 317.5L228.8 317.4L229.6 317.3L230.4 317.1L231.2 317L232 316.8L232.9 316.6L233.7 316.3L234.5 316.1L235.3 315.8L236.1 315.5L237 315L237.8 314.3L238.6 313.4L239.4 312.4L240.2 311.2L241.1 310L241.9 308.6L242.7 307.2L243.5 305.4L244.3 303.3L245.2 301L246 298.4L246.8 295.3L247.6 291.5L248.4 287.1L249.3 282.6L250.1 278L250.9 273.1L251.7 267.7L252.5 261.9L253.4 255L254.2 246.9L255 238.3L255.8 230.1L256.6 222.7L257.5 215.6L258.3 208.4L259.1 200.9L259.9 192.7L260.7 183.5L261.6 173.5L262.4 163.1L263.2 152.7L264 142.8L264.9 132.7L265.7 122.5L266.5 112.7L267.3 103.8L268.1 96.2L269 89.2L269.8 82.6L270.6 76.8L271.4 72L272.2 68.6L273.1 65.6L273.9 62.9L274.7 60.8L275.5 59.5L276.3 59.4L277.2 60.2L278 61.6L278.8 63.6L279.6 65.8L280.4 68.3L281.3 72L282.1 76.8L282.9 82.3L283.7 88.1L284.5 93.9L285.4 99.6L286.2 105.8L287 112.2L287.8 118.8L288.6 125.3L289.5 131.5L290.3 137.5L291.1 143.5L291.9 149.3L292.7 155L293.6 160.3L294.4 165.4L295.2 170.1L296 174.7L296.8 179.4L297.7 184.2L298.5 189.5L299.3 195.1L300.1 201L301 206.7L301.8 212.2L302.6 217.2L303.4 221.8L304.2 226.3L305.1 230.6L305.9 234.7L306.7 238.5L307.5 242L308.3 245.2L309.2 248.2L310 251.1L310.8 253.8L311.6 256.3L312.4 258.7L313.3 261L314.1 263.1L314.9 265.1L315.7 267L316.5 268.8L317.4 270.5L318.2 272.1L319 273.7L319.8 275.2L320.6 276.7L321.5 278.2L322.3 279.6L323.1 281.1L323.9 282.6L324.7 284L325.6 285.5L326.4 287L327.2 288.4L328 289.7L328.8 291.1L329.7 292.4L330.5 293.6L331.3 294.7L332.1 295.7L332.9 296.7L333.8 297.7L334.6 298.6L335.4 299.5L336.2 300.3L337.1 301.1L337.9 301.9L338.7 302.7L339.5 303.4L340.3 304.1L341.2 304.7L342 305.4L342.8 306L343.6 306.6L344.4 307.2L345.3 307.8L346.1 308.3L346.9 308.8L347.7 309.3L348.5 309.8L349.4 310.3L350.2 310.8L351 311.2L351.8 311.6L352.6 312L353.5 312.4L354.3 312.8L355.1 313.2L355.9 313.5L356.7 313.9L357.6 314.2L358.4 314.5L359.2 314.8L360 315L360.8 315.3L361.7 315.5L362.5 315.7L363.3 315.9L364.1 316.1L364.9 316.3L365.8 316.5L366.6 316.7L367.4 316.9L368.2 317.1L369 317.3L369.9 317.4L370.7 317.6L371.5 317.7L372.3 317.8L373.2 317.9L374 318L374.8 318L375.6 318.1L376.4 318.1L377.3 318.1L378.1 318.1L378.9 318.1L379.7 318.1L380.5 318.1L381.4 318.1L382.2 318.1L383 318.1L383.8 318.1L384.6 318.1L385.5 318.1L386.3 318.1L387.1 318.1L387.9 318.1L388.7 318.1L389.6 318.1L390.4 318.1L391.2 318.1L392 318.1L392.8 318.1L393.7 318.1L394.5 318.1L395.3 318.1L396.1 318.1L396.9 318.1L397.8 318.1L398.6 318.1L399.4 318.1L400.2 318.1L401 318.1L401.9 318.1L402.7 318.1L403.5 318.1L404.3 318.1L405.1 318.1L406 318.1L406.8 318.1L407.6 318.1L408.4 318.1L409.3 318.1L410.1 318.1L410.9 318.1L411.7 318.1L412.5 318.1L413.4 318.1L414.2 318.1L415 318.1L415.8 318.1L416.6 318.1L417.5 318.1L418.3 318.1L419.1 318.1L419.9 318.1L420.7 318.1L421.6 318.1L422.4 318.1L423.2 318.1L424 318.1L424.8 318.1L425.7 318.1L426.5 318.1L427.3 318.1L428.1 318.1L428.9 318.1L429.8 318.1L430.6 318.1L431.4 318.1L432.2 318.1L433 318.1L433.9 318.1" fill="none" stroke="#1f6fc0" stroke-width="2.1" stroke-dasharray="4.2 3.2" stroke-linejoin="round" />
<rect x="79.7" y="33.8" width="358.4" height="288.2" fill="none" stroke="#000" stroke-width="2"/>
<line x1="73.8" y1="318.1" x2="79.7" y2="318.1" stroke="#000" stroke-width="1.8" />
<line x1="75.9" y1="292.2" x2="79.7" y2="292.2" stroke="#000" stroke-width="1.8" />
<line x1="73.8" y1="266.4" x2="79.7" y2="266.4" stroke="#000" stroke-width="1.8" />
<line x1="75.9" y1="240.5" x2="79.7" y2="240.5" stroke="#000" stroke-width="1.8" />
<line x1="73.8" y1="214.6" x2="79.7" y2="214.6" stroke="#000" stroke-width="1.8" />
<line x1="75.9" y1="188.7" x2="79.7" y2="188.7" stroke="#000" stroke-width="1.8" />
<line x1="73.8" y1="162.9" x2="79.7" y2="162.9" stroke="#000" stroke-width="1.8" />
<line x1="75.9" y1="137" x2="79.7" y2="137" stroke="#000" stroke-width="1.8" />
<line x1="73.8" y1="111.1" x2="79.7" y2="111.1" stroke="#000" stroke-width="1.8" />
<line x1="75.9" y1="85.2" x2="79.7" y2="85.2" stroke="#000" stroke-width="1.8" />
<line x1="73.8" y1="59.4" x2="79.7" y2="59.4" stroke="#000" stroke-width="1.8" />
<text transform="translate(70.3 324.1) scale(0.98 1)" font-size="21.5" text-anchor="end" fill="#000" >0.0</text>
<text transform="translate(70.3 272.35) scale(0.98 1)" font-size="21.5" text-anchor="end" fill="#000" >0.5</text>
<text transform="translate(70.3 220.6) scale(0.98 1)" font-size="21.5" text-anchor="end" fill="#000" >1.0</text>
<text transform="translate(70.3 168.85) scale(0.98 1)" font-size="21.5" text-anchor="end" fill="#000" >1.5</text>
<text transform="translate(70.3 117.1) scale(0.98 1)" font-size="21.5" text-anchor="end" fill="#000" >2.0</text>
<text transform="translate(70.3 65.35) scale(0.98 1)" font-size="21.5" text-anchor="end" fill="#000" >2.5</text>
<line x1="438.1" y1="318.1" x2="444" y2="318.1" stroke="#000" stroke-width="1.8" />
<line x1="438.1" y1="292.2" x2="441.9" y2="292.2" stroke="#000" stroke-width="1.8" />
<line x1="438.1" y1="266.3" x2="444" y2="266.3" stroke="#000" stroke-width="1.8" />
<line x1="438.1" y1="240.5" x2="441.9" y2="240.5" stroke="#000" stroke-width="1.8" />
<line x1="438.1" y1="214.6" x2="444" y2="214.6" stroke="#000" stroke-width="1.8" />
<line x1="438.1" y1="188.7" x2="441.9" y2="188.7" stroke="#000" stroke-width="1.8" />
<line x1="438.1" y1="162.8" x2="444" y2="162.8" stroke="#000" stroke-width="1.8" />
<line x1="438.1" y1="136.9" x2="441.9" y2="136.9" stroke="#000" stroke-width="1.8" />
<line x1="438.1" y1="111.1" x2="444" y2="111.1" stroke="#000" stroke-width="1.8" />
<line x1="438.1" y1="85.2" x2="441.9" y2="85.2" stroke="#000" stroke-width="1.8" />
<line x1="438.1" y1="59.3" x2="444" y2="59.3" stroke="#000" stroke-width="1.8" />
<text transform="translate(447 324.3)" font-size="21.5" text-anchor="start" fill="#000" >0.0</text>
<text transform="translate(447 272.54)" font-size="21.5" text-anchor="start" fill="#000" >0.2</text>
<text transform="translate(447 220.78)" font-size="21.5" text-anchor="start" fill="#000" >0.4</text>
<text transform="translate(447 169.02)" font-size="21.5" text-anchor="start" fill="#000" >0.6</text>
<text transform="translate(447 117.26)" font-size="21.5" text-anchor="start" fill="#000" >0.8</text>
<text transform="translate(447 65.5)" font-size="21.5" text-anchor="start" fill="#000" >1.0</text>
<line x1="79.7" y1="322" x2="79.7" y2="327.2" stroke="#000" stroke-width="1.8" />
<line x1="113.4" y1="322" x2="113.4" y2="324.7" stroke="#000" stroke-width="1.8" />
<line x1="147.2" y1="322" x2="147.2" y2="327.2" stroke="#000" stroke-width="1.8" />
<line x1="180.9" y1="322" x2="180.9" y2="324.7" stroke="#000" stroke-width="1.8" />
<line x1="214.6" y1="322" x2="214.6" y2="327.2" stroke="#000" stroke-width="1.8" />
<line x1="248.4" y1="322" x2="248.4" y2="324.7" stroke="#000" stroke-width="1.8" />
<line x1="282.1" y1="322" x2="282.1" y2="327.2" stroke="#000" stroke-width="1.8" />
<line x1="315.8" y1="322" x2="315.8" y2="324.7" stroke="#000" stroke-width="1.8" />
<line x1="349.5" y1="322" x2="349.5" y2="327.2" stroke="#000" stroke-width="1.8" />
<line x1="383.3" y1="322" x2="383.3" y2="324.7" stroke="#000" stroke-width="1.8" />
<line x1="417" y1="322" x2="417" y2="327.2" stroke="#000" stroke-width="1.8" />
<text transform="translate(79.7 347) scale(1.08 1)" font-size="20" text-anchor="middle" fill="#000" >350</text>
<text transform="translate(147.16 347) scale(1.08 1)" font-size="20" text-anchor="middle" fill="#000" >450</text>
<text transform="translate(214.62 347) scale(1.08 1)" font-size="20" text-anchor="middle" fill="#000" >550</text>
<text transform="translate(282.08 347) scale(1.08 1)" font-size="20" text-anchor="middle" fill="#000" >650</text>
<text transform="translate(349.54 347) scale(1.08 1)" font-size="20" text-anchor="middle" fill="#000" >750</text>
<text transform="translate(417 347) scale(1.08 1)" font-size="20" text-anchor="middle" fill="#000" >850</text>
<text transform="translate(259.5 379.8) scale(1.03 1)" font-size="20" text-anchor="middle" fill="#000" >Wavelength (nm)</text>
<text transform="translate(34.2 177.8) rotate(-90) scale(0.97 1)" font-size="21" text-anchor="middle" fill="#000" >ε (× 10<tspan font-size="15" dy="-8.5">4</tspan><tspan dy="8.5"> L·mol</tspan><tspan font-size="15" dy="-8.5">-1</tspan><tspan dy="8.5">·cm</tspan><tspan font-size="15" dy="-8.5">-1</tspan><tspan dy="8.5">)</tspan></text>
<text transform="translate(498.8 176.7) rotate(-90) scale(0.98 1)" font-size="21" text-anchor="middle" fill="#000" >Normalized PL intensity (a.u.)</text>
<text transform="translate(17.3 28.9) scale(1.12 1)" font-size="30" text-anchor="start" fill="#000" >(a)</text>
<line x1="294.3" y1="58.7" x2="321.8" y2="58.7" stroke="#1a1a1a" stroke-width="2.0" />
<text transform="translate(327.6 65) scale(1.03 1)" font-size="18.2" text-anchor="start" fill="#000" >TTM-Cz</text>
<line x1="294.3" y1="82.1" x2="321.8" y2="82.1" stroke="#1f6fc0" stroke-width="2.0" />
<text transform="translate(327.6 88.4) scale(1.03 1)" font-size="18.2" text-anchor="start" fill="#000" >TTM-TBA</text>
<line x1="294.3" y1="105.5" x2="321.8" y2="105.5" stroke="#f57a1a" stroke-width="2.0" />
<text transform="translate(327.6 111.8) scale(1.03 1)" font-size="18.2" text-anchor="start" fill="#000" >M<tspan font-size="14.5" dy="5.5">1</tspan><tspan dy="-5.5">TTM-TBA</tspan></text>
<line x1="294.3" y1="131.7" x2="321.8" y2="131.7" stroke="#e0381c" stroke-width="2.0" />
<text transform="translate(327.6 138) scale(1.03 1)" font-size="18.2" text-anchor="start" fill="#000" >M<tspan font-size="14.5" dy="5.5">2</tspan><tspan dy="-5.5">TTM-TBA</tspan></text>
</g>
<g id="panel_b">
<path d="M582.6 230.5L583.8 226.7L585 222.7L586.2 218.7L587.4 214.5L588.6 210.3L589.8 205.9L591 201.5L592.2 197L593.4 192.3L594.6 187.7L595.8 182.9L597 178L598.2 173L599.4 168L600.6 162.7L601.8 157.4L602.9 151.8L604.1 146.1L605.3 140.2L606.5 133.7L607.7 126.7L608.9 119.4L610.1 112.2L611.3 105.4L612.5 99.2L613.7 93.4L614.9 87.6L616.1 83.2L617.3 81.3L618.5 80.3L619.7 81.3L620.9 85.7L622.1 90.4L623.3 95.5L624.5 101.2L625.7 107.2L626.9 113.1L628.1 118.5L629.3 123.3L630.5 128L631.7 132.6L632.9 137L634.1 141.3L635.3 145.4L636.5 149.2L637.7 152.9L638.9 156.3L640.1 159.6L641.3 162.8L642.4 165.8L643.6 168.8L644.8 171.6L646 174.3L647.2 177L648.4 179.5L649.6 181.9L650.8 184.2L652 186.5L653.2 188.6L654.4 190.7L655.6 192.7L656.8 194.7L658 196.6L659.2 198.4L660.4 200.2L661.6 201.8L662.8 203.5L664 205L665.2 206.4L666.4 207.8L667.6 208.9L668.8 209.9L670 210.8L671.2 211.8L672.4 213L673.6 214.4L674.8 216.3L676 218.9L677.2 222.2L678.4 226.2L679.6 230.4L680.7 234.9L681.9 239.3L683.1 243.4L684.3 247.5L685.5 251.8L686.7 256.2L687.9 260.5L689.1 264.5L690.3 268.2L691.5 271.4L692.7 274.4L693.9 277.3L695.1 280.1L696.3 282.7L697.5 285.1L698.7 287.2L699.9 289.1L701.1 290.6L702.3 291.8L703.5 293L704.7 294.1L705.9 295.1L707.1 296.1L708.3 296.9L709.5 297.7L710.7 298.4L711.9 299.1L713.1 299.7L714.3 300.2L715.5 300.7L716.7 301.2L717.9 301.7L719.1 302.1L720.2 302.5L721.4 302.9L722.6 303.3L723.8 303.6L725 303.9L726.2 304.2L727.4 304.4L728.6 304.6L729.8 304.7L731 304.8L732.2 304.9L733.4 305L734.6 305.1L735.8 305.2L737 305.3L738.2 305.4L739.4 305.4L740.6 305.5L741.8 305.5L743 305.6L744.2 305.6L745.4 305.6L746.6 305.7L747.8 305.7L749 305.6L750.2 305.6L751.4 305.5L752.6 305.4L753.8 305.2L755 305L756.2 304.8L757.4 304.6L758.6 304.3L759.7 304L760.9 303.7L762.1 303.4L763.3 303.1L764.5 302.8L765.7 302.5L766.9 302.2L768.1 301.9L769.3 301.5L770.5 301.1L771.7 300.6L772.9 300.2L774.1 299.7L775.3 299.2L776.5 298.6L777.7 298.1L778.9 297.5L780.1 296.9L781.3 296.3L782.5 295.8L783.7 295.2L784.9 294.5L786.1 293.9L787.3 293.1L788.5 292.4L789.7 291.6L790.9 290.8L792.1 290.1L793.3 289.4L794.5 288.8L795.7 288.2L796.9 287.7L798.1 287.2L799.2 286.8L800.4 286.3L801.6 285.9L802.8 285.6L804 285.4L805.2 285.3L806.4 285.4L807.6 285.6L808.8 285.9L810 286.2L811.2 286.5L812.4 286.8L813.6 287L814.8 287.1L816 287.1L817.2 286.9L818.4 286.5L819.6 286L820.8 285.5L822 284.8L823.2 284.1L824.4 283.4L825.6 282.5L826.8 281.4L828 280L829.2 278.5L830.4 276.9L831.6 275.2L832.8 273.5L834 272L835.2 270.5L836.4 269.2L837.6 267.7L838.7 266.2L839.9 264.7L841.1 263.3L842.3 262L843.5 260.9L844.7 260.1L845.9 259.4L847.1 258.9L848.3 258.4L849.5 258.2L850.7 258.4L851.9 259.1L853.1 260.2L854.3 261.4L855.5 262.8L856.7 264.6L857.9 266.7L859.1 269L860.3 271.3L861.5 273.6L862.7 276.1L863.9 278.8L865.1 281.6L866.3 284.5L867.5 287.3L868.7 289.9L869.9 292.3L871.1 294.4L872.3 296.3L873.5 298.3L874.7 300.1L875.9 301.9L877 303.6L878.2 305.2L879.4 306.6L880.6 307.7L881.8 308.7L883 309.4L884.2 310L885.4 310.6L886.6 311.2L887.8 311.7L889 312.2L890.2 312.6L891.4 313L892.6 313.4L893.8 313.7L895 314L896.2 314.2L897.4 314.4L898.6 314.5L899.8 314.5L901 314.6L902.2 314.6L903.4 314.7L904.6 314.7L905.8 314.8L907 314.8L908.2 314.9L909.4 314.9L910.6 314.9L911.8 315L913 315L914.2 315L915.4 315.1L916.5 315.1L917.7 315.1L918.9 315.2L920.1 315.2L921.3 315.2L922.5 315.2L923.7 315.3L924.9 315.3L926.1 315.3L927.3 315.3L928.5 315.3L929.7 315.3L930.9 315.3L932.1 315.4L933.3 315.4L934.5 315.4L935.7 315.4L936.9 315.4L938.1 315.4L939.3 315.4L940.5 315.4" fill="none" stroke="#111111" stroke-width="2.0" stroke-linejoin="round" />
<path d="M582.6 242.3L583.8 238.4L585 234.4L586.2 230.2L587.4 226L588.6 221.8L589.8 217.6L591 213.4L592.2 209.2L593.4 204.9L594.6 200.6L595.8 196.2L597 191.6L598.2 187L599.4 182.3L600.6 177.5L601.8 172.6L602.9 167.6L604.1 162.5L605.3 157L606.5 151.2L607.7 145.2L608.9 138.9L610.1 132.9L611.3 127.2L612.5 121.7L613.7 116.4L614.9 111.4L616.1 107.2L617.3 103.3L618.5 101.6L619.7 101.5L620.9 101.5L622.1 102L623.3 103.9L624.5 106.1L625.7 109.1L626.9 112.3L628.1 115.5L629.3 118.7L630.5 122L631.7 125.4L632.9 128.5L634.1 131.3L635.3 133.8L636.5 136.1L637.7 138.3L638.9 140.8L640.1 143.4L641.3 146.2L642.4 149.5L643.6 152.9L644.8 156.4L646 160.1L647.2 163.7L648.4 167.4L649.6 171L650.8 174.4L652 177.6L653.2 180.5L654.4 183.2L655.6 185.9L656.8 188.4L658 190.9L659.2 193.4L660.4 195.7L661.6 197.9L662.8 199.9L664 201.8L665.2 203.5L666.4 205L667.6 206.2L668.8 207.3L670 208.3L671.2 209.3L672.4 210.4L673.6 211.6L674.8 213.2L676 215.4L677.2 218.1L678.4 221.5L679.6 225.4L680.7 229.4L681.9 233.6L683.1 237.6L684.3 241.6L685.5 245.5L686.7 249.5L687.9 253.5L689.1 257.4L690.3 261.2L691.5 264.8L692.7 268.2L693.9 271.4L695.1 274.3L696.3 277L697.5 279.6L698.7 282.2L699.9 284.4L701.1 286.4L702.3 288.2L703.5 289.6L704.7 290.8L705.9 291.9L707.1 292.9L708.3 293.8L709.5 294.7L710.7 295.4L711.9 296.2L713.1 296.8L714.3 297.4L715.5 298L716.7 298.5L717.9 299L719.1 299.4L720.2 299.8L721.4 300.3L722.6 300.7L723.8 301.1L725 301.4L726.2 301.8L727.4 302.1L728.6 302.4L729.8 302.7L731 302.9L732.2 303.1L733.4 303.3L734.6 303.5L735.8 303.6L737 303.7L738.2 303.8L739.4 303.8L740.6 303.9L741.8 303.9L743 303.9L744.2 303.9L745.4 303.9L746.6 303.9L747.8 303.9L749 303.9L750.2 303.9L751.4 303.9L752.6 303.9L753.8 303.9L755 303.8L756.2 303.8L757.4 303.7L758.6 303.6L759.7 303.5L760.9 303.4L762.1 303.2L763.3 302.9L764.5 302.7L765.7 302.4L766.9 302.1L768.1 301.8L769.3 301.5L770.5 301.1L771.7 300.8L772.9 300.5L774.1 300.1L775.3 299.8L776.5 299.4L777.7 298.9L778.9 298.3L780.1 297.8L781.3 297.2L782.5 296.6L783.7 296L784.9 295.4L786.1 294.9L787.3 294.3L788.5 293.7L789.7 293.1L790.9 292.4L792.1 291.8L793.3 291.1L794.5 290.5L795.7 289.8L796.9 289.3L798.1 288.7L799.2 288.3L800.4 287.8L801.6 287.4L802.8 286.9L804 286.5L805.2 286.2L806.4 285.8L807.6 285.7L808.8 285.6L810 285.6L811.2 285.7L812.4 285.8L813.6 286L814.8 286.2L816 286.4L817.2 286.6L818.4 286.7L819.6 286.8L820.8 286.8L822 286.7L823.2 286.5L824.4 286.2L825.6 285.7L826.8 285.2L828 284.6L829.2 284L830.4 283.2L831.6 282.3L832.8 281.3L834 280L835.2 278.6L836.4 277.2L837.6 275.7L838.7 274.3L839.9 272.9L841.1 271.5L842.3 270.2L843.5 268.9L844.7 267.5L845.9 266.2L847.1 264.9L848.3 263.7L849.5 262.7L850.7 261.9L851.9 261.2L853.1 260.5L854.3 260L855.5 259.9L856.7 259.9L857.9 259.9L859.1 260.3L860.3 261.1L861.5 261.9L862.7 263L863.9 264.1L865.1 265.2L866.3 266.5L867.5 268L868.7 269.7L869.9 271.5L871.1 273.3L872.3 275.2L873.5 277L874.7 278.8L875.9 280.5L877 282.2L878.2 283.9L879.4 285.6L880.6 287.3L881.8 289L883 290.8L884.2 292.6L885.4 294.3L886.6 295.9L887.8 297.5L889 299L890.2 300.5L891.4 301.8L892.6 303L893.8 304L895 304.9L896.2 305.7L897.4 306.4L898.6 307.2L899.8 307.8L901 308.5L902.2 309L903.4 309.6L904.6 310.1L905.8 310.5L907 311L908.2 311.3L909.4 311.7L910.6 312L911.8 312.2L913 312.4L914.2 312.6L915.4 312.8L916.5 312.9L917.7 313.1L918.9 313.2L920.1 313.4L921.3 313.5L922.5 313.6L923.7 313.7L924.9 313.8L926.1 313.9L927.3 314L928.5 314.1L929.7 314.1L930.9 314.2L932.1 314.3L933.3 314.3L934.5 314.4L935.7 314.5L936.9 314.5L938.1 314.6L939.3 314.7L940.5 314.7" fill="none" stroke="#5a12b8" stroke-width="2.0" stroke-linejoin="round" />
<path d="M582.6 246.4L583.8 242.5L585 238.6L586.2 234.5L587.4 230.3L588.6 226.3L589.8 222.3L591 218.4L592.2 214.5L593.4 210.5L594.6 206.3L595.8 202.1L597 197.8L598.2 193.4L599.4 188.9L600.6 184.3L601.8 179.7L602.9 175L604.1 170.2L605.3 165.1L606.5 159.8L607.7 154.3L608.9 148.7L610.1 143.4L611.3 138.3L612.5 133.5L613.7 128.9L614.9 124.7L616.1 120.9L617.3 117.5L618.5 115.6L619.7 114.5L620.9 114.1L622.1 114.6L623.3 115.8L624.5 117.4L625.7 119.8L626.9 122.4L628.1 125.1L629.3 128L630.5 131.1L631.7 134.3L632.9 137.2L634.1 140L635.3 142.6L636.5 145L637.7 147.5L638.9 150.2L640.1 153L641.3 156L642.4 159.2L643.6 162.6L644.8 166.2L646 169.8L647.2 173.4L648.4 177L649.6 180.5L650.8 183.8L652 186.9L653.2 189.8L654.4 192.5L655.6 195L656.8 197.5L658 199.8L659.2 202L660.4 204.1L661.6 206L662.8 207.7L664 209.3L665.2 210.8L666.4 212L667.6 213.1L668.8 214.2L670 215.2L671.2 216.2L672.4 217.4L673.6 218.8L674.8 220.6L676 222.8L677.2 225.4L678.4 228.7L679.6 232.2L680.7 235.9L681.9 239.7L683.1 243.5L684.3 247.3L685.5 251.2L686.7 255.1L687.9 259L689.1 262.7L690.3 266.1L691.5 269.4L692.7 272.5L693.9 275.3L695.1 277.9L696.3 280.3L697.5 282.7L698.7 284.8L699.9 286.7L701.1 288.5L702.3 290L703.5 291.2L704.7 292.3L705.9 293.3L707.1 294.2L708.3 295L709.5 295.8L710.7 296.5L711.9 297.2L713.1 297.8L714.3 298.4L715.5 298.9L716.7 299.5L717.9 300L719.1 300.4L720.2 300.9L721.4 301.4L722.6 301.8L723.8 302.2L725 302.6L726.2 302.9L727.4 303.2L728.6 303.4L729.8 303.7L731 303.9L732.2 304L733.4 304.2L734.6 304.3L735.8 304.4L737 304.4L738.2 304.5L739.4 304.5L740.6 304.5L741.8 304.5L743 304.5L744.2 304.5L745.4 304.5L746.6 304.5L747.8 304.5L749 304.5L750.2 304.4L751.4 304.4L752.6 304.3L753.8 304.2L755 304.2L756.2 304L757.4 303.9L758.6 303.7L759.7 303.4L760.9 303.1L762.1 302.8L763.3 302.5L764.5 302.2L765.7 301.8L766.9 301.5L768.1 301.1L769.3 300.7L770.5 300.4L771.7 299.9L772.9 299.5L774.1 299L775.3 298.4L776.5 297.9L777.7 297.3L778.9 296.8L780.1 296.2L781.3 295.7L782.5 295.1L783.7 294.5L784.9 293.9L786.1 293.3L787.3 292.7L788.5 292L789.7 291.4L790.9 290.8L792.1 290.3L793.3 289.8L794.5 289.3L795.7 288.9L796.9 288.6L798.1 288.2L799.2 287.8L800.4 287.5L801.6 287.3L802.8 287.2L804 287.2L805.2 287.2L806.4 287.3L807.6 287.5L808.8 287.7L810 288L811.2 288.2L812.4 288.4L813.6 288.5L814.8 288.5L816 288.5L817.2 288.5L818.4 288.2L819.6 287.8L820.8 287.3L822 286.7L823.2 286.1L824.4 285.5L825.6 284.7L826.8 283.7L828 282.6L829.2 281.3L830.4 279.8L831.6 278.4L832.8 276.9L834 275.5L835.2 274.2L836.4 272.8L837.6 271.6L838.7 270.3L839.9 269L841.1 267.8L842.3 266.6L843.5 265.5L844.7 264.7L845.9 264.1L847.1 263.6L848.3 263.1L849.5 262.8L850.7 262.8L851.9 262.9L853.1 263.1L854.3 263.8L855.5 264.8L856.7 265.7L857.9 266.8L859.1 267.9L860.3 269.2L861.5 270.5L862.7 272.1L863.9 273.8L865.1 275.5L866.3 277.3L867.5 279L868.7 280.7L869.9 282.4L871.1 284.1L872.3 285.7L873.5 287.3L874.7 288.9L875.9 290.5L877 292.1L878.2 293.7L879.4 295.3L880.6 296.8L881.8 298.3L883 299.7L884.2 301.1L885.4 302.4L886.6 303.6L887.8 304.7L889 305.6L890.2 306.4L891.4 307.1L892.6 307.7L893.8 308.3L895 308.9L896.2 309.4L897.4 309.9L898.6 310.4L899.8 310.8L901 311.2L902.2 311.6L903.4 311.9L904.6 312.2L905.8 312.4L907 312.6L908.2 312.8L909.4 313L910.6 313.1L911.8 313.3L913 313.4L914.2 313.5L915.4 313.6L916.5 313.8L917.7 313.9L918.9 313.9L920.1 314L921.3 314.1L922.5 314.2L923.7 314.2L924.9 314.3L926.1 314.4L927.3 314.4L928.5 314.5L929.7 314.5L930.9 314.6L932.1 314.6L933.3 314.7L934.5 314.7L935.7 314.7L936.9 314.7L938.1 314.8L939.3 314.8L940.5 314.8" fill="none" stroke="#1a6af0" stroke-width="2.0" stroke-linejoin="round" />
<path d="M582.6 242L583.8 238.8L585 235.5L586.2 232.2L587.4 228.7L588.6 225.1L589.8 221.4L591 217.6L592.2 213.7L593.4 209.8L594.6 205.7L595.8 201.5L597 197.2L598.2 192.7L599.4 188.1L600.6 183.5L601.8 178.8L602.9 174L604.1 169.3L605.3 164.5L606.5 159.4L607.7 154.1L608.9 148.7L610.1 143.4L611.3 138.3L612.5 133.6L613.7 129.5L614.9 125.7L616.1 122.1L617.3 119.1L618.5 117.2L619.7 116L620.9 115.7L622.1 116.8L623.3 118.8L624.5 120.9L625.7 123.5L626.9 126.5L628.1 129.7L629.3 132.9L630.5 136.3L631.7 139.9L632.9 143.7L634.1 147.6L635.3 151.5L636.5 155.5L637.7 159.4L638.9 163.2L640.1 166.9L641.3 170.4L642.4 173.7L643.6 176.8L644.8 180L646 183.2L647.2 186.3L648.4 189.4L649.6 192.4L650.8 195.3L652 198.2L653.2 200.9L654.4 203.4L655.6 205.8L656.8 208L658 210L659.2 211.8L660.4 213.3L661.6 214.7L662.8 215.8L664 216.9L665.2 217.9L666.4 218.8L667.6 219.7L668.8 220.7L670 221.8L671.2 223L672.4 224.4L673.6 226L674.8 228L676 230.3L677.2 233.1L678.4 236.1L679.6 239.4L680.7 242.8L681.9 246.2L683.1 249.6L684.3 253.3L685.5 257.5L686.7 261.8L687.9 266.1L689.1 270L690.3 273.4L691.5 276.1L692.7 278.7L693.9 281.2L695.1 283.5L696.3 285.6L697.5 287.5L698.7 289.1L699.9 290.5L701.1 291.7L702.3 292.7L703.5 293.7L704.7 294.7L705.9 295.5L707.1 296.3L708.3 297L709.5 297.7L710.7 298.4L711.9 299L713.1 299.6L714.3 300.2L715.5 300.8L716.7 301.4L717.9 302L719.1 302.6L720.2 303.1L721.4 303.7L722.6 304.2L723.8 304.6L725 305L726.2 305.3L727.4 305.5L728.6 305.7L729.8 305.7L731 305.8L732.2 305.8L733.4 305.8L734.6 305.9L735.8 305.9L737 306L738.2 306L739.4 306L740.6 306L741.8 306.1L743 306.1L744.2 306.1L745.4 306.1L746.6 306.1L747.8 306.1L749 306.1L750.2 306L751.4 306L752.6 305.9L753.8 305.7L755 305.5L756.2 305.4L757.4 305.1L758.6 304.9L759.7 304.7L760.9 304.4L762.1 304.2L763.3 303.9L764.5 303.6L765.7 303.3L766.9 303.1L768.1 302.8L769.3 302.4L770.5 302.1L771.7 301.7L772.9 301.3L774.1 300.9L775.3 300.4L776.5 299.9L777.7 299.5L778.9 299L780.1 298.5L781.3 297.9L782.5 297.4L783.7 296.9L784.9 296.4L786.1 295.8L787.3 295.1L788.5 294.4L789.7 293.7L790.9 293L792.1 292.3L793.3 291.7L794.5 291.2L795.7 290.8L796.9 290.5L798.1 290.2L799.2 289.9L800.4 289.7L801.6 289.4L802.8 289.3L804 289.2L805.2 289.1L806.4 289.2L807.6 289.5L808.8 289.8L810 290.3L811.2 290.7L812.4 291.1L813.6 291.4L814.8 291.5L816 291.5L817.2 291.3L818.4 290.9L819.6 290.4L820.8 289.9L822 289.2L823.2 288.6L824.4 287.9L825.6 286.9L826.8 285.8L828 284.4L829.2 282.9L830.4 281.2L831.6 279.6L832.8 277.9L834 276.4L835.2 274.9L836.4 273.6L837.6 272.3L838.7 270.9L839.9 269.6L841.1 268.4L842.3 267.4L843.5 266.5L844.7 265.7L845.9 265.1L847.1 265L848.3 265.2L849.5 265.4L850.7 265.8L851.9 266.3L853.1 267.4L854.3 268.8L855.5 270.4L856.7 272.3L857.9 274.2L859.1 276L860.3 277.9L861.5 280.1L862.7 282.4L863.9 284.9L865.1 287.3L866.3 289.6L867.5 291.8L868.7 293.8L869.9 295.6L871.1 297.4L872.3 299.3L873.5 301L874.7 302.7L875.9 304.2L877 305.6L878.2 306.9L879.4 307.9L880.6 308.6L881.8 309.4L883 310.1L884.2 310.7L885.4 311.4L886.6 312L887.8 312.5L889 313L890.2 313.4L891.4 313.8L892.6 314.1L893.8 314.3L895 314.5L896.2 314.5L897.4 314.6L898.6 314.6L899.8 314.7L901 314.7L902.2 314.8L903.4 314.8L904.6 314.8L905.8 314.9L907 314.9L908.2 315L909.4 315L910.6 315L911.8 315L913 315.1L914.2 315.1L915.4 315.1L916.5 315.2L917.7 315.2L918.9 315.2L920.1 315.2L921.3 315.2L922.5 315.3L923.7 315.3L924.9 315.3L926.1 315.3L927.3 315.3L928.5 315.3L929.7 315.3L930.9 315.4L932.1 315.4L933.3 315.4L934.5 315.4L935.7 315.4L936.9 315.4L938.1 315.4L939.3 315.4L940.5 315.4" fill="none" stroke="#16a6c8" stroke-width="2.0" stroke-linejoin="round" />
<path d="M582.6 237.7L583.8 234L585 230.2L586.2 226.3L587.4 222.3L588.6 218.3L589.8 214.1L591 209.9L592.2 205.6L593.4 201.2L594.6 196.7L595.8 192.2L597 187.5L598.2 182.8L599.4 178L600.6 173L601.8 168L602.9 162.8L604.1 157.5L605.3 151.9L606.5 145.9L607.7 139.6L608.9 133L610.1 126.4L611.3 120.2L612.5 114.4L613.7 108.8L614.9 103.3L616.1 98.9L617.3 95.6L618.5 93.4L619.7 93.5L620.9 95.1L622.1 97.2L623.3 100.1L624.5 103.5L625.7 107.4L626.9 111.7L628.1 115.7L629.3 119.6L630.5 123.4L631.7 127.3L632.9 131L634.1 134.4L635.3 137.6L636.5 140.6L637.7 143.4L638.9 146.2L640.1 149L641.3 151.9L642.4 154.9L643.6 158.1L644.8 161.4L646 164.6L647.2 167.9L648.4 171.1L649.6 174.3L650.8 177.3L652 180.2L653.2 182.9L654.4 185.4L655.6 187.8L656.8 190.2L658 192.4L659.2 194.7L660.4 196.8L661.6 198.8L662.8 200.7L664 202.5L665.2 204.2L666.4 205.7L667.6 206.9L668.8 208L670 209L671.2 210L672.4 211.1L673.6 212.3L674.8 213.9L676 216.1L677.2 218.9L678.4 222.3L679.6 226.2L680.7 230.3L681.9 234.5L683.1 238.8L684.3 242.8L685.5 246.9L686.7 251L687.9 255.1L689.1 259.1L690.3 262.8L691.5 266.4L692.7 269.7L693.9 272.9L695.1 275.8L696.3 278.5L697.5 281L698.7 283.5L699.9 285.6L701.1 287.5L702.3 289.1L703.5 290.6L704.7 291.8L705.9 292.9L707.1 293.9L708.3 294.8L709.5 295.6L710.7 296.4L711.9 297.1L713.1 297.8L714.3 298.4L715.5 298.9L716.7 299.4L717.9 299.9L719.1 300.3L720.2 300.8L721.4 301.2L722.6 301.6L723.8 302L725 302.3L726.2 302.6L727.4 302.9L728.6 303.2L729.8 303.4L731 303.6L732.2 303.8L733.4 304L734.6 304.1L735.8 304.3L737 304.3L738.2 304.4L739.4 304.5L740.6 304.5L741.8 304.5L743 304.6L744.2 304.6L745.4 304.6L746.6 304.6L747.8 304.6L749 304.6L750.2 304.6L751.4 304.6L752.6 304.5L753.8 304.4L755 304.3L756.2 304.2L757.4 304.1L758.6 303.9L759.7 303.7L760.9 303.5L762.1 303.2L763.3 302.9L764.5 302.6L765.7 302.3L766.9 301.9L768.1 301.6L769.3 301.3L770.5 300.9L771.7 300.5L772.9 300.1L774.1 299.7L775.3 299.2L776.5 298.7L777.7 298.1L778.9 297.5L780.1 297L781.3 296.4L782.5 295.8L783.7 295.2L784.9 294.6L786.1 294L787.3 293.4L788.5 292.7L789.7 292L790.9 291.3L792.1 290.6L793.3 290L794.5 289.4L795.7 288.8L796.9 288.3L798.1 287.9L799.2 287.4L800.4 287L801.6 286.6L802.8 286.2L804 285.9L805.2 285.8L806.4 285.8L807.6 285.8L808.8 285.9L810 286.1L811.2 286.3L812.4 286.6L813.6 286.8L814.8 287L816 287.1L817.2 287.1L818.4 287L819.6 286.8L820.8 286.5L822 286L823.2 285.5L824.4 284.9L825.6 284.2L826.8 283.5L828 282.6L829.2 281.5L830.4 280.2L831.6 278.8L832.8 277.3L834 275.8L835.2 274.3L836.4 272.9L837.6 271.5L838.7 270.1L839.9 268.7L841.1 267.4L842.3 266L843.5 264.7L844.7 263.6L845.9 262.5L847.1 261.7L848.3 261L849.5 260.5L850.7 260.1L851.9 259.8L853.1 260L854.3 260.4L855.5 261L856.7 261.9L857.9 263L859.1 264.4L860.3 265.9L861.5 267.4L862.7 269L863.9 270.8L865.1 272.8L866.3 274.9L867.5 277.1L868.7 279.3L869.9 281.4L871.1 283.4L872.3 285.3L873.5 287.1L874.7 288.9L875.9 290.6L877 292.3L878.2 294L879.4 295.6L880.6 297.2L881.8 298.8L883 300.2L884.2 301.4L885.4 302.6L886.6 303.8L887.8 304.8L889 305.8L890.2 306.7L891.4 307.5L892.6 308.2L893.8 308.8L895 309.4L896.2 309.9L897.4 310.4L898.6 310.8L899.8 311.2L901 311.6L902.2 311.9L903.4 312.2L904.6 312.5L905.8 312.7L907 312.9L908.2 313.1L909.4 313.3L910.6 313.4L911.8 313.5L913 313.6L914.2 313.8L915.4 313.9L916.5 314L917.7 314.1L918.9 314.1L920.1 314.2L921.3 314.3L922.5 314.4L923.7 314.4L924.9 314.5L926.1 314.5L927.3 314.6L928.5 314.6L929.7 314.7L930.9 314.7L932.1 314.8L933.3 314.8L934.5 314.8L935.7 314.9L936.9 314.9L938.1 314.9L939.3 314.9L940.5 315" fill="none" stroke="#10b010" stroke-width="2.0" stroke-linejoin="round" />
<path d="M582.6 232.9L583.8 229.1L585 225.2L586.2 221.2L587.4 217.1L588.6 213L589.8 208.7L591 204.3L592.2 199.9L593.4 195.3L594.6 190.7L595.8 186L597 181.2L598.2 176.3L599.4 171.3L600.6 166.2L601.8 160.9L602.9 155.6L604.1 150L605.3 144.1L606.5 137.7L607.7 131L608.9 124L610.1 116.9L611.3 110.5L612.5 104.3L613.7 98.6L614.9 92.7L616.1 88.4L617.3 86.1L618.5 84.7L619.7 85.4L620.9 88.8L622.1 92.7L623.3 97.1L624.5 102L625.7 107.2L626.9 112.6L628.1 117.5L629.3 122L630.5 126.5L631.7 130.8L632.9 135L634.1 139L635.3 142.8L636.5 146.3L637.7 149.7L638.9 152.9L640.1 156L641.3 159.1L642.4 162.2L643.6 165.2L644.8 168.1L646 171.1L647.2 173.9L648.4 176.7L649.6 179.3L650.8 181.9L652 184.3L653.2 186.7L654.4 188.9L655.6 191.1L656.8 193.2L658 195.2L659.2 197.1L660.4 199L661.6 200.8L662.8 202.5L664 204.1L665.2 205.7L666.4 207.1L667.6 208.2L668.8 209.2L670 210.2L671.2 211.2L672.4 212.4L673.6 213.7L674.8 215.5L676 217.9L677.2 221.2L678.4 224.8L679.6 229L680.7 233.3L681.9 237.6L683.1 241.8L684.3 246L685.5 250.2L686.7 254.4L687.9 258.7L689.1 262.7L690.3 266.3L691.5 269.7L692.7 272.9L693.9 275.8L695.1 278.6L696.3 281.3L697.5 283.7L698.7 286L699.9 287.9L701.1 289.5L702.3 290.9L703.5 292.2L704.7 293.3L705.9 294.4L707.1 295.3L708.3 296.2L709.5 297L710.7 297.8L711.9 298.4L713.1 299L714.3 299.6L715.5 300.1L716.7 300.6L717.9 301.1L719.1 301.5L720.2 301.9L721.4 302.3L722.6 302.7L723.8 303.1L725 303.4L726.2 303.7L727.4 303.9L728.6 304.1L729.8 304.3L731 304.5L732.2 304.6L733.4 304.7L734.6 304.9L735.8 305L737 305.1L738.2 305.1L739.4 305.2L740.6 305.3L741.8 305.3L743 305.4L744.2 305.4L745.4 305.4L746.6 305.5L747.8 305.5L749 305.5L750.2 305.5L751.4 305.4L752.6 305.3L753.8 305.2L755 305.1L756.2 304.9L757.4 304.7L758.6 304.5L759.7 304.3L760.9 304L762.1 303.8L763.3 303.5L764.5 303.2L765.7 302.9L766.9 302.6L768.1 302.3L769.3 302L770.5 301.7L771.7 301.3L772.9 300.9L774.1 300.4L775.3 300L776.5 299.5L777.7 298.9L778.9 298.4L780.1 297.8L781.3 297.3L782.5 296.7L783.7 296.2L784.9 295.6L786.1 295L787.3 294.3L788.5 293.6L789.7 292.9L790.9 292.2L792.1 291.5L793.3 290.9L794.5 290.3L795.7 289.7L796.9 289.2L798.1 288.8L799.2 288.3L800.4 287.9L801.6 287.5L802.8 287.2L804 287L805.2 286.9L806.4 286.9L807.6 286.9L808.8 287.2L810 287.4L811.2 287.7L812.4 288L813.6 288.2L814.8 288.3L816 288.3L817.2 288.2L818.4 288.1L819.6 287.7L820.8 287.3L822 286.7L823.2 286.1L824.4 285.5L825.6 284.7L826.8 283.9L828 282.7L829.2 281.4L830.4 280L831.6 278.5L832.8 277L834 275.5L835.2 274L836.4 272.7L837.6 271.4L838.7 270L839.9 268.6L841.1 267.3L842.3 266L843.5 264.8L844.7 263.9L845.9 263.1L847.1 262.4L848.3 261.9L849.5 261.7L850.7 261.6L851.9 261.6L853.1 262.3L854.3 263.3L855.5 264.4L856.7 265.7L857.9 267.3L859.1 269.1L860.3 271.1L861.5 273L862.7 275L863.9 277.3L865.1 279.7L866.3 282.2L867.5 284.7L868.7 287.1L869.9 289.3L871.1 291.4L872.3 293.3L873.5 295L874.7 296.8L875.9 298.5L877 300.1L878.2 301.7L879.4 303.2L880.6 304.5L881.8 305.6L883 306.6L884.2 307.4L885.4 308.1L886.6 308.9L887.8 309.5L889 310.2L890.2 310.7L891.4 311.2L892.6 311.7L893.8 312.1L895 312.5L896.2 312.8L897.4 313.1L898.6 313.3L899.8 313.5L901 313.6L902.2 313.7L903.4 313.9L904.6 314L905.8 314.1L907 314.2L908.2 314.3L909.4 314.3L910.6 314.4L911.8 314.5L913 314.5L914.2 314.6L915.4 314.7L916.5 314.7L917.7 314.8L918.9 314.8L920.1 314.8L921.3 314.9L922.5 314.9L923.7 314.9L924.9 315L926.1 315L927.3 315L928.5 315.1L929.7 315.1L930.9 315.1L932.1 315.1L933.3 315.1L934.5 315.2L935.7 315.2L936.9 315.2L938.1 315.2L939.3 315.2L940.5 315.2" fill="none" stroke="#a4e02c" stroke-width="2.0" stroke-linejoin="round" />
<path d="M582.6 246.6L583.8 242.9L585 239.1L586.2 235.2L587.4 231.2L588.6 227.2L589.8 223.3L591 219.3L592.2 215.4L593.4 211.3L594.6 207.2L595.8 203L597 198.7L598.2 194.3L599.4 189.8L600.6 185.2L601.8 180.6L602.9 175.9L604.1 171.1L605.3 166L606.5 160.6L607.7 155.2L608.9 149.5L610.1 143.9L611.3 138.7L612.5 133.7L613.7 128.9L614.9 124.3L616.1 120.2L617.3 116.3L618.5 113.8L619.7 112.3L620.9 111.5L622.1 111.7L623.3 112.5L624.5 113.6L625.7 115.8L626.9 118.3L628.1 120.9L629.3 123.6L630.5 126.6L631.7 129.7L632.9 132.6L634.1 135.2L635.3 137.6L636.5 139.7L637.7 141.9L638.9 144.3L640.1 146.9L641.3 149.7L642.4 153L643.6 156.4L644.8 160L646 163.7L647.2 167.5L648.4 171.3L649.6 175L650.8 178.5L652 181.8L653.2 184.8L654.4 187.6L655.6 190.3L656.8 192.9L658 195.4L659.2 197.8L660.4 200.1L661.6 202.2L662.8 204.1L664 205.9L665.2 207.5L666.4 208.9L667.6 210.1L668.8 211.2L670 212.2L671.2 213.2L672.4 214.3L673.6 215.5L674.8 217.1L676 219.1L677.2 221.5L678.4 224.6L679.6 228.2L680.7 231.9L681.9 235.9L683.1 239.8L684.3 243.6L685.5 247.4L686.7 251.3L687.9 255.1L689.1 258.9L690.3 262.6L691.5 266.1L692.7 269.4L693.9 272.4L695.1 275.2L696.3 277.8L697.5 280.3L698.7 282.7L699.9 284.9L701.1 286.8L702.3 288.5L703.5 289.9L704.7 291.1L705.9 292.2L707.1 293.1L708.3 294L709.5 294.8L710.7 295.6L711.9 296.3L713.1 296.9L714.3 297.5L715.5 298.1L716.7 298.6L717.9 299.1L719.1 299.6L720.2 300.1L721.4 300.5L722.6 300.9L723.8 301.4L725 301.7L726.2 302.1L727.4 302.4L728.6 302.7L729.8 303L731 303.2L732.2 303.4L733.4 303.5L734.6 303.7L735.8 303.8L737 303.8L738.2 303.8L739.4 303.8L740.6 303.8L741.8 303.8L743 303.8L744.2 303.8L745.4 303.8L746.6 303.8L747.8 303.7L749 303.7L750.2 303.7L751.4 303.6L752.6 303.5L753.8 303.5L755 303.4L756.2 303.3L757.4 303.2L758.6 303L759.7 302.7L760.9 302.4L762.1 302.1L763.3 301.8L764.5 301.4L765.7 301L766.9 300.6L768.1 300.2L769.3 299.8L770.5 299.3L771.7 298.9L772.9 298.4L774.1 297.9L775.3 297.4L776.5 296.8L777.7 296.2L778.9 295.6L780.1 294.9L781.3 294.3L782.5 293.7L783.7 293.1L784.9 292.5L786.1 291.9L787.3 291.2L788.5 290.5L789.7 289.8L790.9 289.2L792.1 288.5L793.3 288L794.5 287.4L795.7 287L796.9 286.5L798.1 286.1L799.2 285.7L800.4 285.3L801.6 285L802.8 284.7L804 284.6L805.2 284.5L806.4 284.5L807.6 284.6L808.8 284.8L810 285L811.2 285.3L812.4 285.5L813.6 285.7L814.8 285.8L816 285.9L817.2 285.9L818.4 285.8L819.6 285.5L820.8 285.2L822 284.7L823.2 284.1L824.4 283.5L825.6 282.8L826.8 281.9L828 281L829.2 279.9L830.4 278.5L831.6 277L832.8 275.5L834 273.9L835.2 272.4L836.4 271L837.6 269.5L838.7 268.2L839.9 266.8L841.1 265.4L842.3 264L843.5 262.7L844.7 261.5L845.9 260.5L847.1 259.8L848.3 259.1L849.5 258.5L850.7 258L851.9 257.9L853.1 257.8L854.3 257.9L855.5 258.4L856.7 259.2L857.9 260.1L859.1 261L860.3 262.1L861.5 263.2L862.7 264.6L863.9 266.1L865.1 267.7L866.3 269.5L867.5 271.3L868.7 273.1L869.9 274.9L871.1 276.7L872.3 278.5L873.5 280.2L874.7 281.9L875.9 283.6L877 285.4L878.2 287.3L879.4 289.1L880.6 290.9L881.8 292.7L883 294.5L884.2 296.3L885.4 297.9L886.6 299.5L887.8 300.9L889 302.2L890.2 303.3L891.4 304.2L892.6 305L893.8 305.8L895 306.6L896.2 307.3L897.4 307.9L898.6 308.6L899.8 309.1L901 309.7L902.2 310.2L903.4 310.7L904.6 311.1L905.8 311.4L907 311.7L908.2 312L909.4 312.2L910.6 312.4L911.8 312.6L913 312.8L914.2 312.9L915.4 313.1L916.5 313.3L917.7 313.4L918.9 313.5L920.1 313.6L921.3 313.7L922.5 313.8L923.7 313.9L924.9 314L926.1 314.1L927.3 314.2L928.5 314.2L929.7 314.3L930.9 314.4L932.1 314.4L933.3 314.5L934.5 314.5L935.7 314.6L936.9 314.6L938.1 314.6L939.3 314.7L940.5 314.7" fill="none" stroke="#f5a800" stroke-width="2.0" stroke-linejoin="round" />
<path d="M582.6 245.7L583.8 242.4L585 239L586.2 235.6L587.4 232L588.6 228.4L589.8 224.6L591 220.7L592.2 216.7L593.4 212.7L594.6 208.5L595.8 204.2L597 199.9L598.2 195.5L599.4 191L600.6 186.4L601.8 181.8L602.9 177L604.1 172.2L605.3 167.2L606.5 161.9L607.7 156.4L608.9 150.7L610.1 144.9L611.3 139.3L612.5 133.9L613.7 128.8L614.9 123.8L616.1 119.2L617.3 114.9L618.5 111L619.7 108.7L620.9 107.2L622.1 106.5L623.3 106.8L624.5 107.5L625.7 108.7L626.9 111.1L628.1 113.5L629.3 116.1L630.5 118.9L631.7 122L632.9 125.1L634.1 127.8L635.3 130.2L636.5 132.4L637.7 134.4L638.9 136.4L640.1 138.8L641.3 141.4L642.4 144.3L643.6 147.7L644.8 151.2L646 155.1L647.2 159L648.4 162.9L649.6 166.9L650.8 170.6L652 174.3L653.2 177.7L654.4 180.7L655.6 183.6L656.8 186.4L658 189L659.2 191.6L660.4 194.2L661.6 196.5L662.8 198.7L664 200.8L665.2 202.7L666.4 204.4L667.6 205.8L668.8 207L670 208.1L671.2 209L672.4 210L673.6 211.1L674.8 212.4L676 214L677.2 216.1L678.4 218.7L679.6 222L680.7 225.7L681.9 229.7L683.1 233.8L684.3 237.7L685.5 241.6L686.7 245.5L687.9 249.4L689.1 253.3L690.3 257.2L691.5 261L692.7 264.6L693.9 268L695.1 271.1L696.3 273.9L697.5 276.6L698.7 279.3L699.9 281.8L701.1 284L702.3 286.1L703.5 287.8L704.7 289.2L705.9 290.4L707.1 291.5L708.3 292.5L709.5 293.4L710.7 294.2L711.9 295L713.1 295.7L714.3 296.4L715.5 297L716.7 297.5L717.9 298.1L719.1 298.5L720.2 299L721.4 299.5L722.6 299.9L723.8 300.3L725 300.8L726.2 301.2L727.4 301.5L728.6 301.9L729.8 302.2L731 302.4L732.2 302.7L733.4 302.9L734.6 303L735.8 303.2L737 303.2L738.2 303.3L739.4 303.3L740.6 303.3L741.8 303.3L743 303.2L744.2 303.2L745.4 303.2L746.6 303.1L747.8 303.1L749 303.1L750.2 303L751.4 303L752.6 302.9L753.8 302.8L755 302.8L756.2 302.7L757.4 302.6L758.6 302.4L759.7 302.2L760.9 301.9L762.1 301.6L763.3 301.2L764.5 300.8L765.7 300.3L766.9 299.9L768.1 299.4L769.3 299L770.5 298.5L771.7 298L772.9 297.5L774.1 297L775.3 296.4L776.5 295.8L777.7 295.2L778.9 294.5L780.1 293.9L781.3 293.2L782.5 292.6L783.7 291.9L784.9 291.3L786.1 290.6L787.3 289.9L788.5 289.2L789.7 288.5L790.9 287.8L792.1 287.1L793.3 286.5L794.5 285.9L795.7 285.4L796.9 284.9L798.1 284.4L799.2 284L800.4 283.5L801.6 283.1L802.8 282.8L804 282.6L805.2 282.5L806.4 282.5L807.6 282.5L808.8 282.7L810 282.9L811.2 283.1L812.4 283.3L813.6 283.5L814.8 283.7L816 283.8L817.2 283.8L818.4 283.8L819.6 283.6L820.8 283.3L822 282.9L823.2 282.3L824.4 281.7L825.6 281.1L826.8 280.3L828 279.4L829.2 278.4L830.4 277.1L831.6 275.6L832.8 274L834 272.4L835.2 270.8L836.4 269.2L837.6 267.7L838.7 266.2L839.9 264.8L841.1 263.3L842.3 261.8L843.5 260.4L844.7 259L845.9 257.8L847.1 256.8L848.3 256L849.5 255.3L850.7 254.6L851.9 254.2L853.1 253.9L854.3 253.8L855.5 254L856.7 254.6L857.9 255.3L859.1 256.2L860.3 257.1L861.5 258.1L862.7 259.3L863.9 260.7L865.1 262.3L866.3 264L867.5 265.8L868.7 267.6L869.9 269.5L871.1 271.4L872.3 273.3L873.5 275.1L874.7 277L875.9 278.7L877 280.6L878.2 282.6L879.4 284.6L880.6 286.6L881.8 288.7L883 290.7L884.2 292.7L885.4 294.6L886.6 296.4L887.8 298.1L889 299.6L890.2 300.9L891.4 302L892.6 303L893.8 303.9L895 304.8L896.2 305.6L897.4 306.4L898.6 307.2L899.8 307.9L901 308.5L902.2 309.2L903.4 309.7L904.6 310.2L905.8 310.6L907 311L908.2 311.3L909.4 311.6L910.6 311.9L911.8 312.1L913 312.3L914.2 312.5L915.4 312.7L916.5 312.9L917.7 313L918.9 313.2L920.1 313.3L921.3 313.5L922.5 313.6L923.7 313.7L924.9 313.8L926.1 313.9L927.3 313.9L928.5 314L929.7 314.1L930.9 314.2L932.1 314.3L933.3 314.3L934.5 314.4L935.7 314.5L936.9 314.5L938.1 314.5L939.3 314.6L940.5 314.6" fill="none" stroke="#f5701c" stroke-width="2.0" stroke-linejoin="round" />
<path d="M582.6 243.8L583.8 240.1L585 236.4L586.2 232.6L587.4 228.7L588.6 224.8L589.8 220.7L591 216.6L592.2 212.4L593.4 208.1L594.6 203.8L595.8 199.4L597 194.9L598.2 190.3L599.4 185.6L600.6 180.9L601.8 176L602.9 171L604.1 166L605.3 160.8L606.5 155.3L607.7 149.4L608.9 143.4L610.1 137.4L611.3 131.5L612.5 125.9L613.7 120.8L614.9 115.9L616.1 110.8L617.3 106.1L618.5 102.5L619.7 100.3L620.9 99L622.1 98.1L623.3 98L624.5 99.1L625.7 101.1L626.9 103.3L628.1 105.5L629.3 108.2L630.5 111.3L631.7 114.4L632.9 117.4L634.1 120.1L635.3 122.3L636.5 124.2L637.7 126.1L638.9 128L640.1 130.3L641.3 133.1L642.4 136.3L643.6 139.8L644.8 143.7L646 147.7L647.2 151.9L648.4 156L649.6 160.2L650.8 164.2L652 167.9L653.2 171.4L654.4 174.5L655.6 177.5L656.8 180.4L658 183.2L659.2 186L660.4 188.7L661.6 191.2L662.8 193.5L664 195.7L665.2 197.7L666.4 199.5L667.6 200.9L668.8 202.2L670 203.2L671.2 204.2L672.4 205.2L673.6 206.3L674.8 207.6L676 209.3L677.2 211.5L678.4 214.5L679.6 218.1L680.7 222L681.9 226.2L683.1 230.5L684.3 234.7L685.5 238.6L686.7 242.5L687.9 246.5L689.1 250.6L690.3 254.7L691.5 258.6L692.7 262.4L693.9 266L695.1 269.1L696.3 272.1L697.5 275L698.7 277.8L699.9 280.4L701.1 282.8L702.3 285L703.5 286.8L704.7 288.2L705.9 289.4L707.1 290.5L708.3 291.5L709.5 292.4L710.7 293.3L711.9 294.1L713.1 294.8L714.3 295.5L715.5 296.1L716.7 296.7L717.9 297.2L719.1 297.7L720.2 298.2L721.4 298.6L722.6 299.1L723.8 299.5L725 299.9L726.2 300.4L727.4 300.7L728.6 301.1L729.8 301.4L731 301.7L732.2 302L733.4 302.2L734.6 302.4L735.8 302.6L737 302.6L738.2 302.7L739.4 302.7L740.6 302.6L741.8 302.6L743 302.6L744.2 302.6L745.4 302.6L746.6 302.5L747.8 302.5L749 302.4L750.2 302.4L751.4 302.4L752.6 302.3L753.8 302.2L755 302.2L756.2 302.1L757.4 302L758.6 301.8L759.7 301.5L760.9 301.2L762.1 300.9L763.3 300.5L764.5 300L765.7 299.6L766.9 299.1L768.1 298.6L769.3 298.2L770.5 297.7L771.7 297.2L772.9 296.7L774.1 296.1L775.3 295.5L776.5 294.8L777.7 294.1L778.9 293.5L780.1 292.8L781.3 292.1L782.5 291.4L783.7 290.8L784.9 290.1L786.1 289.4L787.3 288.7L788.5 288L789.7 287.2L790.9 286.5L792.1 285.9L793.3 285.3L794.5 284.7L795.7 284.2L796.9 283.7L798.1 283.2L799.2 282.7L800.4 282.3L801.6 281.9L802.8 281.6L804 281.4L805.2 281.4L806.4 281.4L807.6 281.5L808.8 281.6L810 281.8L811.2 282L812.4 282.2L813.6 282.4L814.8 282.5L816 282.6L817.2 282.7L818.4 282.6L819.6 282.4L820.8 282L822 281.5L823.2 281L824.4 280.3L825.6 279.6L826.8 278.9L828 278L829.2 276.8L830.4 275.4L831.6 273.9L832.8 272.3L834 270.6L835.2 269L836.4 267.4L837.6 265.9L838.7 264.5L839.9 263L841.1 261.4L842.3 259.9L843.5 258.4L844.7 257L845.9 255.8L847.1 254.8L848.3 254L849.5 253.2L850.7 252.4L851.9 251.9L853.1 251.5L854.3 251.5L855.5 251.8L856.7 252.3L857.9 253L859.1 253.8L860.3 254.6L861.5 255.6L862.7 256.8L863.9 258.2L865.1 259.8L866.3 261.5L867.5 263.3L868.7 265.2L869.9 267.1L871.1 269L872.3 270.9L873.5 272.8L874.7 274.6L875.9 276.5L877 278.5L878.2 280.6L879.4 282.7L880.6 284.9L881.8 287.1L883 289.3L884.2 291.4L885.4 293.4L886.6 295.3L887.8 297.1L889 298.6L890.2 300L891.4 301.1L892.6 302.1L893.8 303.1L895 304.1L896.2 305L897.4 305.8L898.6 306.7L899.8 307.4L901 308.1L902.2 308.8L903.4 309.4L904.6 309.9L905.8 310.3L907 310.7L908.2 311L909.4 311.3L910.6 311.6L911.8 311.9L913 312.1L914.2 312.3L915.4 312.5L916.5 312.7L917.7 312.9L918.9 313L920.1 313.2L921.3 313.3L922.5 313.4L923.7 313.5L924.9 313.6L926.1 313.7L927.3 313.8L928.5 313.9L929.7 314L930.9 314.1L932.1 314.2L933.3 314.3L934.5 314.3L935.7 314.4L936.9 314.4L938.1 314.5L939.3 314.5L940.5 314.5" fill="none" stroke="#f03434" stroke-width="2.0" stroke-linejoin="round" />
<path d="M582.6 221.7L583.8 218.8L585 215.8L586.2 212.7L587.4 209.5L588.6 206.1L589.8 202.7L591 199.3L592.2 195.7L593.4 192L594.6 188.2L595.8 184.3L597 180.2L598.2 175.9L599.4 171.5L600.6 167.1L601.8 162.7L602.9 158.3L604.1 153.9L605.3 149.6L606.5 145.3L607.7 140.8L608.9 136.3L610.1 131.9L611.3 127.5L612.5 123.1L613.7 119L614.9 115L616.1 111.3L617.3 107.6L618.5 104L619.7 100.4L620.9 97.3L622.1 94.7L623.3 92.9L624.5 91.2L625.7 89.9L626.9 89.1L628.1 89.2L629.3 89.8L630.5 90.9L631.7 92.1L632.9 93.4L634.1 95L635.3 96.9L636.5 99.2L637.7 101.7L638.9 104.3L640.1 107L641.3 109.6L642.4 112.3L643.6 115.1L644.8 118.1L646 121.1L647.2 124.2L648.4 127.3L649.6 130.4L650.8 133.7L652 137L653.2 140.6L654.4 144.2L655.6 147.9L656.8 151.6L658 155.3L659.2 158.9L660.4 162.5L661.6 166L662.8 169.3L664 172.5L665.2 175.5L666.4 178.2L667.6 180.6L668.8 182.8L670 184.9L671.2 186.9L672.4 188.8L673.6 190.8L674.8 192.9L676 195.1L677.2 197.5L678.4 200L679.6 202.5L680.7 205.1L681.9 207.8L683.1 210.5L684.3 213.3L685.5 216.2L686.7 219.2L687.9 222.2L689.1 225.4L690.3 228.9L691.5 232.6L692.7 236.2L693.9 239.9L695.1 243.4L696.3 246.8L697.5 249.8L698.7 252.6L699.9 255.5L701.1 258.2L702.3 260.9L703.5 263.5L704.7 265.9L705.9 268.2L707.1 270.3L708.3 272.1L709.5 273.8L710.7 275.2L711.9 276.6L713.1 277.9L714.3 279.1L715.5 280.3L716.7 281.4L717.9 282.4L719.1 283.3L720.2 284.2L721.4 285L722.6 285.7L723.8 286.4L725 287L726.2 287.6L727.4 288.2L728.6 288.8L729.8 289.3L731 289.8L732.2 290.3L733.4 290.7L734.6 291.1L735.8 291.4L737 291.7L738.2 291.9L739.4 292.1L740.6 292.3L741.8 292.4L743 292.6L744.2 292.7L745.4 292.9L746.6 293L747.8 293.1L749 293.2L750.2 293.2L751.4 293.3L752.6 293.3L753.8 293.3L755 293.2L756.2 293.1L757.4 293L758.6 292.9L759.7 292.7L760.9 292.6L762.1 292.4L763.3 292.2L764.5 291.9L765.7 291.7L766.9 291.4L768.1 291.2L769.3 290.9L770.5 290.6L771.7 290.3L772.9 289.9L774.1 289.4L775.3 288.9L776.5 288.3L777.7 287.7L778.9 287.1L780.1 286.4L781.3 285.8L782.5 285.2L783.7 284.6L784.9 284L786.1 283.3L787.3 282.6L788.5 281.9L789.7 281.2L790.9 280.6L792.1 279.9L793.3 279.3L794.5 278.8L795.7 278.4L796.9 278.1L798.1 277.8L799.2 277.5L800.4 277.2L801.6 276.9L802.8 276.7L804 276.6L805.2 276.5L806.4 276.5L807.6 276.6L808.8 276.8L810 277L811.2 277.3L812.4 277.5L813.6 277.8L814.8 278L816 278.2L817.2 278.3L818.4 278.2L819.6 278L820.8 277.6L822 277.1L823.2 276.5L824.4 275.9L825.6 275.2L826.8 274.5L828 273.6L829.2 272.4L830.4 271L831.6 269.5L832.8 267.8L834 266.2L835.2 264.5L836.4 263L837.6 261.5L838.7 260.1L839.9 258.6L841.1 257.2L842.3 255.7L843.5 254.2L844.7 252.8L845.9 251.6L847.1 250.4L848.3 249.4L849.5 248.6L850.7 247.7L851.9 246.9L853.1 246.2L854.3 245.7L855.5 245.5L856.7 245.7L857.9 246.2L859.1 246.8L860.3 247.7L861.5 248.5L862.7 249.5L863.9 250.7L865.1 252.1L866.3 253.9L867.5 255.7L868.7 257.8L869.9 259.8L871.1 262L872.3 264.1L873.5 266.1L874.7 268L875.9 269.9L877 272L878.2 274.1L879.4 276.2L880.6 278.4L881.8 280.5L883 282.7L884.2 284.7L885.4 286.7L886.6 288.6L887.8 290.3L889 291.9L890.2 293.3L891.4 294.5L892.6 295.6L893.8 296.7L895 297.7L896.2 298.6L897.4 299.5L898.6 300.4L899.8 301.2L901 302L902.2 302.7L903.4 303.4L904.6 304L905.8 304.7L907 305.3L908.2 305.8L909.4 306.4L910.6 306.9L911.8 307.4L913 307.9L914.2 308.3L915.4 308.8L916.5 309.2L917.7 309.6L918.9 310L920.1 310.4L921.3 310.7L922.5 311.1L923.7 311.4L924.9 311.7L926.1 311.9L927.3 312.2L928.5 312.5L929.7 312.7L930.9 313L932.1 313.2L933.3 313.5L934.5 313.7L935.7 313.9L936.9 314.1L938.1 314.2L939.3 314.4L940.5 314.5" fill="none" stroke="#a00832" stroke-width="2.0" stroke-linejoin="round" />
<rect x="582.6" y="33.8" width="358" height="288.1" fill="none" stroke="#000" stroke-width="2"/>
<line x1="576.7" y1="314.5" x2="582.6" y2="314.5" stroke="#000" stroke-width="1.8" />
<line x1="578.8" y1="288" x2="582.6" y2="288" stroke="#000" stroke-width="1.8" />
<line x1="576.7" y1="261.5" x2="582.6" y2="261.5" stroke="#000" stroke-width="1.8" />
<line x1="578.8" y1="234.9" x2="582.6" y2="234.9" stroke="#000" stroke-width="1.8" />
<line x1="576.7" y1="208.4" x2="582.6" y2="208.4" stroke="#000" stroke-width="1.8" />
<line x1="578.8" y1="181.9" x2="582.6" y2="181.9" stroke="#000" stroke-width="1.8" />
<line x1="576.7" y1="155.4" x2="582.6" y2="155.4" stroke="#000" stroke-width="1.8" />
<line x1="578.8" y1="128.9" x2="582.6" y2="128.9" stroke="#000" stroke-width="1.8" />
<line x1="576.7" y1="102.3" x2="582.6" y2="102.3" stroke="#000" stroke-width="1.8" />
<line x1="578.8" y1="75.8" x2="582.6" y2="75.8" stroke="#000" stroke-width="1.8" />
<line x1="576.7" y1="49.3" x2="582.6" y2="49.3" stroke="#000" stroke-width="1.8" />
<text transform="translate(573 320.1) scale(0.985 1)" font-size="21.5" text-anchor="end" fill="#000" >0.0</text>
<text transform="translate(573 267.06) scale(0.985 1)" font-size="21.5" text-anchor="end" fill="#000" >0.6</text>
<text transform="translate(573 214.02) scale(0.985 1)" font-size="21.5" text-anchor="end" fill="#000" >1.2</text>
<text transform="translate(573 160.98) scale(0.985 1)" font-size="21.5" text-anchor="end" fill="#000" >1.8</text>
<text transform="translate(573 107.94) scale(0.985 1)" font-size="21.5" text-anchor="end" fill="#000" >2.4</text>
<text transform="translate(573 54.9) scale(0.985 1)" font-size="21.5" text-anchor="end" fill="#000" >3.0</text>
<line x1="593.8" y1="321.9" x2="593.8" y2="327.1" stroke="#000" stroke-width="1.8" />
<line x1="627.3" y1="321.9" x2="627.3" y2="324.6" stroke="#000" stroke-width="1.8" />
<line x1="660.9" y1="321.9" x2="660.9" y2="327.1" stroke="#000" stroke-width="1.8" />
<line x1="694.4" y1="321.9" x2="694.4" y2="324.6" stroke="#000" stroke-width="1.8" />
<line x1="728" y1="321.9" x2="728" y2="327.1" stroke="#000" stroke-width="1.8" />
<line x1="761.5" y1="321.9" x2="761.5" y2="324.6" stroke="#000" stroke-width="1.8" />
<line x1="795.1" y1="321.9" x2="795.1" y2="327.1" stroke="#000" stroke-width="1.8" />
<line x1="828.6" y1="321.9" x2="828.6" y2="324.6" stroke="#000" stroke-width="1.8" />
<line x1="862.2" y1="321.9" x2="862.2" y2="327.1" stroke="#000" stroke-width="1.8" />
<line x1="895.8" y1="321.9" x2="895.8" y2="324.6" stroke="#000" stroke-width="1.8" />
<line x1="929.3" y1="321.9" x2="929.3" y2="327.1" stroke="#000" stroke-width="1.8" />
<text transform="translate(593.78 347.2) scale(1.03 1)" font-size="21" text-anchor="middle" fill="#000" >360</text>
<text transform="translate(660.89 347.2) scale(1.03 1)" font-size="21" text-anchor="middle" fill="#000" >420</text>
<text transform="translate(727.99 347.2) scale(1.03 1)" font-size="21" text-anchor="middle" fill="#000" >480</text>
<text transform="translate(795.1 347.2) scale(1.03 1)" font-size="21" text-anchor="middle" fill="#000" >540</text>
<text transform="translate(862.2 347.2) scale(1.03 1)" font-size="21" text-anchor="middle" fill="#000" >600</text>
<text transform="translate(929.3 347.2) scale(1.03 1)" font-size="21" text-anchor="middle" fill="#000" >660</text>
<text transform="translate(761 379.8) scale(1.02 1)" font-size="20" text-anchor="middle" fill="#000" >Wavelength (nm)</text>
<text transform="translate(536 171.6) rotate(-90) scale(0.985 1)" font-size="20.5" text-anchor="middle" fill="#000" >ε (x 10<tspan font-size="14.5" dy="-8.5">4</tspan><tspan dy="8.5"> L·mol</tspan><tspan font-size="14.5" dy="-8.5">-1</tspan><tspan dy="8.5">·cm</tspan><tspan font-size="14.5" dy="-8.5">-1</tspan><tspan dy="8.5">)</tspan></text>
<text transform="translate(504.2 29) scale(1.1 1)" font-size="30" text-anchor="start" fill="#000" >(b)</text>
<text transform="translate(595.4 57) scale(1.11 1)" font-size="17" text-anchor="start" fill="#000" >M<tspan font-size="12" dy="4.5">2</tspan><tspan dy="-4.5">TTM-TBA</tspan></text>
<line x1="793.7" y1="47.9" x2="817.7" y2="47.9" stroke="#111111" stroke-width="1.8" />
<text transform="translate(829.3 53.5)" font-size="16" text-anchor="start" fill="#000" >cyclohexane</text>
<line x1="793.7" y1="67.9" x2="817.7" y2="67.9" stroke="#5a12b8" stroke-width="1.8" />
<text transform="translate(829.3 73.53)" font-size="16" text-anchor="start" fill="#000" >toluene</text>
<line x1="793.7" y1="88" x2="817.7" y2="88" stroke="#1a6af0" stroke-width="1.8" />
<text transform="translate(829.3 93.56)" font-size="16" text-anchor="start" fill="#000" >n-butyl ether</text>
<line x1="793.7" y1="108" x2="817.7" y2="108" stroke="#16a6c8" stroke-width="1.8" />
<text transform="translate(829.3 113.59)" font-size="16" text-anchor="start" fill="#000" >isopropyl ether</text>
<line x1="793.7" y1="128" x2="817.7" y2="128" stroke="#10b010" stroke-width="1.8" />
<text transform="translate(829.3 133.62)" font-size="16" text-anchor="start" fill="#000" >chloroform</text>
<line x1="793.7" y1="148.1" x2="817.7" y2="148.1" stroke="#a4e02c" stroke-width="1.8" />
<text transform="translate(829.3 153.65)" font-size="16" text-anchor="start" fill="#000" >diethyl&#160; ether</text>
<line x1="793.7" y1="168.1" x2="817.7" y2="168.1" stroke="#f5a800" stroke-width="1.8" />
<text transform="translate(829.3 173.68)" font-size="16" text-anchor="start" fill="#000" >dcm</text>
<line x1="793.7" y1="188.1" x2="817.7" y2="188.1" stroke="#f5701c" stroke-width="1.8" />
<text transform="translate(829.3 193.71)" font-size="16" text-anchor="start" fill="#000" >acetonitrile</text>
<line x1="793.7" y1="208.1" x2="817.7" y2="208.1" stroke="#f03434" stroke-width="1.8" />
<text transform="translate(829.3 213.74)" font-size="16" text-anchor="start" fill="#000" >dmf</text>
<line x1="793.7" y1="228.2" x2="817.7" y2="228.2" stroke="#a00832" stroke-width="1.8" />
<text transform="translate(829.3 233.77)" font-size="16" text-anchor="start" fill="#000" >dmso</text>
</g>
<g id="panel_c">
<path d="M1036.2 315.6L1037.2 315.6L1038.3 315.6L1039.3 315.5L1040.4 315.5L1041.4 315.5L1042.5 315.4L1043.5 315.3L1044.6 315.3L1045.6 315.2L1046.7 315.1L1047.7 315L1048.8 315L1049.8 314.8L1050.9 314.7L1051.9 314.6L1053 314.4L1054 314.2L1055.1 314L1056.1 313.7L1057.2 313.5L1058.2 313.1L1059.3 312.7L1060.3 312L1061.4 311L1062.4 309.7L1063.5 308.3L1064.5 306.6L1065.6 304.8L1066.6 302.8L1067.7 300.7L1068.7 298.5L1069.8 296.3L1070.8 293.8L1071.9 290.7L1072.9 287.2L1074 283.2L1075 278.9L1076.1 274.2L1077.1 269.2L1078.2 264.1L1079.2 258.7L1080.3 253.1L1081.3 246.6L1082.3 239.5L1083.4 232L1084.4 224.1L1085.5 216.2L1086.5 208.3L1087.6 200.7L1088.6 192.8L1089.7 184.8L1090.7 176.7L1091.8 168.7L1092.8 160.7L1093.9 152.9L1094.9 145.5L1096 138.2L1097 130.9L1098.1 123.8L1099.1 116.8L1100.2 110.1L1101.2 103.7L1102.3 97.8L1103.3 92.2L1104.4 86.6L1105.4 81.3L1106.5 76.9L1107.5 73.6L1108.6 71.1L1109.6 68.9L1110.7 67.1L1111.7 66.1L1112.8 66.1L1113.8 67.1L1114.9 68.6L1115.9 70.6L1117 72.6L1118 75.4L1119.1 78.8L1120.1 82.8L1121.2 87L1122.2 91.4L1123.3 96.3L1124.3 101.6L1125.4 107.2L1126.4 112.9L1127.4 118.6L1128.5 124L1129.5 129L1130.6 134.1L1131.6 139.1L1132.7 144L1133.7 148.8L1134.8 153.4L1135.8 157.6L1136.9 161.5L1137.9 164.9L1139 167.9L1140 170.9L1141.1 174L1142.1 177.2L1143.2 180.4L1144.2 183.6L1145.3 186.7L1146.3 189.8L1147.4 192.8L1148.4 195.7L1149.5 198.4L1150.5 200.9L1151.6 203.1L1152.6 205.3L1153.7 207.3L1154.7 209.3L1155.8 211.1L1156.8 213L1157.9 214.7L1158.9 216.4L1160 218.1L1161 219.8L1162.1 221.5L1163.1 223.1L1164.2 224.8L1165.2 226.6L1166.3 228.3L1167.3 230.1L1168.4 231.9L1169.4 233.7L1170.5 235.4L1171.5 237.2L1172.6 239L1173.6 240.8L1174.6 242.5L1175.7 244.2L1176.7 245.9L1177.8 247.6L1178.8 249.2L1179.9 250.8L1180.9 252.4L1182 253.9L1183 255.4L1184.1 256.8L1185.1 258.2L1186.2 259.6L1187.2 261L1188.3 262.3L1189.3 263.7L1190.4 265L1191.4 266.3L1192.5 267.5L1193.5 268.8L1194.6 270L1195.6 271.2L1196.7 272.3L1197.7 273.5L1198.8 274.6L1199.8 275.6L1200.9 276.7L1201.9 277.7L1203 278.7L1204 279.7L1205.1 280.6L1206.1 281.6L1207.2 282.5L1208.2 283.4L1209.3 284.3L1210.3 285.2L1211.4 286.1L1212.4 286.9L1213.5 287.7L1214.5 288.5L1215.6 289.2L1216.6 289.9L1217.7 290.6L1218.7 291.2L1219.7 291.9L1220.8 292.5L1221.8 293.1L1222.9 293.7L1223.9 294.3L1225 294.8L1226 295.4L1227.1 296L1228.1 296.5L1229.2 297.1L1230.2 297.6L1231.3 298.1L1232.3 298.6L1233.4 299.1L1234.4 299.6L1235.5 300.1L1236.5 300.6L1237.6 301L1238.6 301.4L1239.7 301.8L1240.7 302.2L1241.8 302.6L1242.8 302.9L1243.9 303.3L1244.9 303.6L1246 303.9L1247 304.2L1248.1 304.4L1249.1 304.7L1250.2 304.9L1251.2 305.1L1252.3 305.4L1253.3 305.6L1254.4 305.8L1255.4 306L1256.5 306.2L1257.5 306.4L1258.6 306.6L1259.6 306.8L1260.7 307L1261.7 307.2L1262.8 307.4L1263.8 307.5L1264.8 307.7L1265.9 307.9L1266.9 308L1268 308.2L1269 308.3L1270.1 308.5L1271.1 308.6L1272.2 308.8L1273.2 308.9L1274.3 309L1275.3 309.2L1276.4 309.3L1277.4 309.4L1278.5 309.5L1279.5 309.6L1280.6 309.8L1281.6 309.9L1282.7 310L1283.7 310.1L1284.8 310.2L1285.8 310.3L1286.9 310.4L1287.9 310.5L1289 310.6L1290 310.7L1291.1 310.8L1292.1 310.9L1293.2 311L1294.2 311.1L1295.3 311.2L1296.3 311.3L1297.4 311.3L1298.4 311.4L1299.5 311.5L1300.5 311.6L1301.6 311.7L1302.6 311.7L1303.7 311.8L1304.7 311.9L1305.8 312L1306.8 312L1307.9 312.1L1308.9 312.2L1309.9 312.3L1311 312.3L1312 312.4L1313.1 312.5L1314.1 312.5L1315.2 312.6L1316.2 312.7L1317.3 312.7L1318.3 312.8L1319.4 312.8L1320.4 312.9L1321.5 313L1322.5 313L1323.6 313.1L1324.6 313.2L1325.7 313.2L1326.7 313.3L1327.8 313.3L1328.8 313.4L1329.9 313.4L1330.9 313.5L1332 313.6L1333 313.6L1334.1 313.7L1335.1 313.7L1336.2 313.8L1337.2 313.8L1338.3 313.9L1339.3 313.9L1340.4 314L1341.4 314L1342.5 314.1L1343.5 314.1L1344.6 314.1L1345.6 314.2L1346.7 314.2L1347.7 314.3L1348.8 314.3L1349.8 314.4" fill="none" stroke="#111111" stroke-width="2.0" stroke-dasharray="3.8 2.8" stroke-linejoin="round" />
<path d="M1036.2 315.6L1037.2 315.6L1038.3 315.6L1039.3 315.6L1040.4 315.6L1041.4 315.6L1042.5 315.6L1043.5 315.6L1044.6 315.6L1045.6 315.6L1046.7 315.6L1047.7 315.6L1048.8 315.6L1049.8 315.5L1050.9 315.5L1051.9 315.5L1053 315.4L1054 315.4L1055.1 315.3L1056.1 315.2L1057.2 315.2L1058.2 315.1L1059.3 315L1060.3 314.9L1061.4 314.8L1062.4 314.7L1063.5 314.6L1064.5 314.5L1065.6 314.4L1066.6 314.3L1067.7 314.1L1068.7 313.7L1069.8 313.3L1070.8 312.7L1071.9 312.1L1072.9 311.4L1074 310.6L1075 309.8L1076.1 308.9L1077.1 308L1078.2 306.8L1079.2 305.4L1080.3 303.7L1081.3 301.7L1082.3 299.6L1083.4 297.2L1084.4 294.6L1085.5 291.7L1086.5 288L1087.6 283.9L1088.6 279.3L1089.7 274.5L1090.7 269.5L1091.8 264.4L1092.8 258.8L1093.9 252.9L1094.9 246.7L1096 240.2L1097 233.7L1098.1 227.2L1099.1 220.4L1100.2 213.5L1101.2 206.4L1102.3 199.2L1103.3 191.8L1104.4 184.2L1105.4 176.2L1106.5 168.1L1107.5 160L1108.6 152.1L1109.6 144.4L1110.7 136.7L1111.7 129L1112.8 121.5L1113.8 114.2L1114.9 107.3L1115.9 100.9L1117 94.6L1118 88.4L1119.1 82.5L1120.1 77.6L1121.2 73.9L1122.2 71.2L1123.3 68.8L1124.3 67L1125.4 66L1126.4 66.2L1127.4 66.9L1128.5 67.9L1129.5 69.2L1130.6 70.7L1131.6 72.8L1132.7 75.5L1133.7 78.6L1134.8 82.1L1135.8 85.8L1136.9 89.7L1137.9 93.5L1139 97.3L1140 101.4L1141.1 105.7L1142.1 110.2L1143.2 114.9L1144.2 119.6L1145.3 124.4L1146.3 129.1L1147.4 133.9L1148.4 138.9L1149.5 144L1150.5 149.1L1151.6 154.1L1152.6 158.9L1153.7 163.4L1154.7 167.5L1155.8 171.4L1156.8 175.2L1157.9 178.9L1158.9 182.5L1160 185.9L1161 189.3L1162.1 192.6L1163.1 195.8L1164.2 199L1165.2 202.1L1166.3 205.1L1167.3 208.1L1168.4 211L1169.4 213.9L1170.5 216.8L1171.5 219.7L1172.6 222.5L1173.6 225.2L1174.6 228L1175.7 230.6L1176.7 233.2L1177.8 235.8L1178.8 238.2L1179.9 240.6L1180.9 243L1182 245.2L1183 247.3L1184.1 249.4L1185.1 251.4L1186.2 253.3L1187.2 255.3L1188.3 257.1L1189.3 259L1190.4 260.8L1191.4 262.5L1192.5 264.2L1193.5 265.9L1194.6 267.5L1195.6 269.1L1196.7 270.6L1197.7 272.1L1198.8 273.6L1199.8 275L1200.9 276.3L1201.9 277.7L1203 279L1204 280.3L1205.1 281.5L1206.1 282.8L1207.2 284L1208.2 285.3L1209.3 286.4L1210.3 287.6L1211.4 288.7L1212.4 289.7L1213.5 290.7L1214.5 291.7L1215.6 292.6L1216.6 293.4L1217.7 294.2L1218.7 294.9L1219.7 295.6L1220.8 296.3L1221.8 296.9L1222.9 297.5L1223.9 298.2L1225 298.8L1226 299.4L1227.1 299.9L1228.1 300.5L1229.2 301L1230.2 301.6L1231.3 302.1L1232.3 302.6L1233.4 303.1L1234.4 303.5L1235.5 304L1236.5 304.4L1237.6 304.8L1238.6 305.3L1239.7 305.6L1240.7 306L1241.8 306.4L1242.8 306.7L1243.9 307L1244.9 307.3L1246 307.6L1247 307.9L1248.1 308.2L1249.1 308.4L1250.2 308.7L1251.2 308.9L1252.3 309.2L1253.3 309.4L1254.4 309.6L1255.4 309.9L1256.5 310.1L1257.5 310.3L1258.6 310.5L1259.6 310.7L1260.7 310.9L1261.7 311.1L1262.8 311.3L1263.8 311.5L1264.8 311.7L1265.9 311.9L1266.9 312.1L1268 312.2L1269 312.4L1270.1 312.5L1271.1 312.7L1272.2 312.8L1273.2 313L1274.3 313.1L1275.3 313.2L1276.4 313.3L1277.4 313.4L1278.5 313.5L1279.5 313.6L1280.6 313.7L1281.6 313.7L1282.7 313.8L1283.7 313.9L1284.8 313.9L1285.8 314L1286.9 314L1287.9 314.1L1289 314.1L1290 314.2L1291.1 314.2L1292.1 314.3L1293.2 314.3L1294.2 314.3L1295.3 314.4L1296.3 314.4L1297.4 314.5L1298.4 314.5L1299.5 314.6L1300.5 314.6L1301.6 314.6L1302.6 314.7L1303.7 314.7L1304.7 314.8L1305.8 314.8L1306.8 314.8L1307.9 314.9L1308.9 314.9L1309.9 314.9L1311 315L1312 315L1313.1 315L1314.1 315.1L1315.2 315.1L1316.2 315.1L1317.3 315.2L1318.3 315.2L1319.4 315.2L1320.4 315.2L1321.5 315.3L1322.5 315.3L1323.6 315.3L1324.6 315.3L1325.7 315.4L1326.7 315.4L1327.8 315.4L1328.8 315.4L1329.9 315.4L1330.9 315.4L1332 315.5L1333 315.5L1334.1 315.5L1335.1 315.5L1336.2 315.5L1337.2 315.5L1338.3 315.5L1339.3 315.6L1340.4 315.6L1341.4 315.6L1342.5 315.6L1343.5 315.6L1344.6 315.6L1345.6 315.6L1346.7 315.6L1347.7 315.6L1348.8 315.6L1349.8 315.6" fill="none" stroke="#5a12b8" stroke-width="2.0" stroke-dasharray="3.8 2.8" stroke-linejoin="round" />
<path d="M1036.2 315.6L1037.2 315.6L1038.3 315.6L1039.3 315.6L1040.4 315.6L1041.4 315.6L1042.5 315.6L1043.5 315.6L1044.6 315.6L1045.6 315.6L1046.7 315.6L1047.7 315.5L1048.8 315.5L1049.8 315.5L1050.9 315.4L1051.9 315.4L1053 315.4L1054 315.3L1055.1 315.2L1056.1 315.2L1057.2 315.1L1058.2 315L1059.3 314.9L1060.3 314.9L1061.4 314.8L1062.4 314.7L1063.5 314.6L1064.5 314.4L1065.6 314.3L1066.6 314.1L1067.7 313.8L1068.7 313.4L1069.8 312.9L1070.8 312.4L1071.9 311.7L1072.9 311L1074 310.2L1075 309.4L1076.1 308.5L1077.1 307.5L1078.2 306.3L1079.2 304.8L1080.3 303L1081.3 301L1082.3 298.9L1083.4 296.5L1084.4 294L1085.5 290.9L1086.5 287.3L1087.6 283.2L1088.6 278.7L1089.7 274L1090.7 269.2L1091.8 264.2L1092.8 258.8L1093.9 253L1094.9 247L1096 240.7L1097 234.4L1098.1 228.1L1099.1 221.6L1100.2 214.9L1101.2 208L1102.3 201L1103.3 193.9L1104.4 186.6L1105.4 179L1106.5 171.1L1107.5 163.3L1108.6 155.4L1109.6 147.8L1110.7 140.4L1111.7 133L1112.8 125.6L1113.8 118.3L1114.9 111.4L1115.9 104.8L1117 98.8L1118 92.6L1119.1 86.7L1120.1 81.2L1121.2 76.6L1122.2 73.4L1123.3 70.8L1124.3 68.5L1125.4 66.8L1126.4 66L1127.4 66.2L1128.5 66.9L1129.5 68L1130.6 69.2L1131.6 70.7L1132.7 72.7L1133.7 75.3L1134.8 78.3L1135.8 81.7L1136.9 85.4L1137.9 89.1L1139 92.9L1140 96.6L1141.1 100.5L1142.1 104.7L1143.2 109.1L1144.2 113.7L1145.3 118.3L1146.3 123L1147.4 127.6L1148.4 132.3L1149.5 137.1L1150.5 142.1L1151.6 147.1L1152.6 152.1L1153.7 156.9L1154.7 161.4L1155.8 165.6L1156.8 169.5L1157.9 173.3L1158.9 176.9L1160 180.5L1161 184L1162.1 187.3L1163.1 190.6L1164.2 193.8L1165.2 197L1166.3 200L1167.3 203L1168.4 206L1169.4 208.9L1170.5 211.8L1171.5 214.6L1172.6 217.4L1173.6 220.2L1174.6 223L1175.7 225.7L1176.7 228.3L1177.8 230.9L1178.8 233.5L1179.9 236L1180.9 238.4L1182 240.7L1183 243L1184.1 245.2L1185.1 247.3L1186.2 249.3L1187.2 251.3L1188.3 253.2L1189.3 255.1L1190.4 256.9L1191.4 258.7L1192.5 260.5L1193.5 262.2L1194.6 263.9L1195.6 265.5L1196.7 267.1L1197.7 268.7L1198.8 270.2L1199.8 271.7L1200.9 273.1L1201.9 274.5L1203 275.8L1204 277.2L1205.1 278.4L1206.1 279.7L1207.2 281L1208.2 282.2L1209.3 283.5L1210.3 284.7L1211.4 285.8L1212.4 287L1213.5 288.1L1214.5 289.1L1215.6 290.1L1216.6 291.1L1217.7 292L1218.7 292.9L1219.7 293.7L1220.8 294.4L1221.8 295.1L1222.9 295.8L1223.9 296.4L1225 297.1L1226 297.7L1227.1 298.3L1228.1 298.9L1229.2 299.5L1230.2 300L1231.3 300.6L1232.3 301.1L1233.4 301.6L1234.4 302.1L1235.5 302.6L1236.5 303.1L1237.6 303.5L1238.6 304L1239.7 304.4L1240.7 304.8L1241.8 305.2L1242.8 305.6L1243.9 306L1244.9 306.3L1246 306.7L1247 307L1248.1 307.3L1249.1 307.6L1250.2 307.8L1251.2 308.1L1252.3 308.4L1253.3 308.6L1254.4 308.8L1255.4 309.1L1256.5 309.3L1257.5 309.5L1258.6 309.8L1259.6 310L1260.7 310.2L1261.7 310.4L1262.8 310.6L1263.8 310.8L1264.8 311L1265.9 311.2L1266.9 311.4L1268 311.6L1269 311.8L1270.1 311.9L1271.1 312.1L1272.2 312.3L1273.2 312.4L1274.3 312.6L1275.3 312.7L1276.4 312.9L1277.4 313L1278.5 313.1L1279.5 313.2L1280.6 313.3L1281.6 313.4L1282.7 313.5L1283.7 313.6L1284.8 313.7L1285.8 313.8L1286.9 313.8L1287.9 313.9L1289 313.9L1290 314L1291.1 314L1292.1 314.1L1293.2 314.1L1294.2 314.2L1295.3 314.2L1296.3 314.2L1297.4 314.3L1298.4 314.3L1299.5 314.4L1300.5 314.4L1301.6 314.5L1302.6 314.5L1303.7 314.5L1304.7 314.6L1305.8 314.6L1306.8 314.7L1307.9 314.7L1308.9 314.7L1309.9 314.8L1311 314.8L1312 314.9L1313.1 314.9L1314.1 314.9L1315.2 315L1316.2 315L1317.3 315L1318.3 315L1319.4 315.1L1320.4 315.1L1321.5 315.1L1322.5 315.2L1323.6 315.2L1324.6 315.2L1325.7 315.2L1326.7 315.3L1327.8 315.3L1328.8 315.3L1329.9 315.3L1330.9 315.4L1332 315.4L1333 315.4L1334.1 315.4L1335.1 315.4L1336.2 315.4L1337.2 315.5L1338.3 315.5L1339.3 315.5L1340.4 315.5L1341.4 315.5L1342.5 315.5L1343.5 315.5L1344.6 315.6L1345.6 315.6L1346.7 315.6L1347.7 315.6L1348.8 315.6L1349.8 315.6" fill="none" stroke="#1a6af0" stroke-width="2.0" stroke-dasharray="3.8 2.8" stroke-linejoin="round" />
<path d="M1036.2 315.6L1037.2 315.6L1038.3 315.6L1039.3 315.6L1040.4 315.6L1041.4 315.6L1042.5 315.6L1043.5 315.6L1044.6 315.6L1045.6 315.6L1046.7 315.6L1047.7 315.5L1048.8 315.5L1049.8 315.5L1050.9 315.4L1051.9 315.4L1053 315.3L1054 315.3L1055.1 315.2L1056.1 315.2L1057.2 315.1L1058.2 315L1059.3 314.9L1060.3 314.8L1061.4 314.8L1062.4 314.7L1063.5 314.6L1064.5 314.5L1065.6 314.3L1066.6 314.2L1067.7 313.9L1068.7 313.6L1069.8 313.1L1070.8 312.6L1071.9 312L1072.9 311.3L1074 310.6L1075 309.9L1076.1 309L1077.1 308.2L1078.2 307.2L1079.2 305.9L1080.3 304.4L1081.3 302.7L1082.3 300.8L1083.4 298.7L1084.4 296.5L1085.5 294.1L1086.5 291.2L1087.6 287.8L1088.6 283.9L1089.7 279.7L1090.7 275.3L1091.8 270.7L1092.8 266.1L1093.9 261L1094.9 255.7L1096 250L1097 244.2L1098.1 238.2L1099.1 232.1L1100.2 226.1L1101.2 219.8L1102.3 213.4L1103.3 206.8L1104.4 200.1L1105.4 193.3L1106.5 186.3L1107.5 179L1108.6 171.6L1109.6 164.1L1110.7 156.6L1111.7 149.3L1112.8 142.2L1113.8 135.1L1114.9 128L1115.9 121L1117 114.3L1118 107.9L1119.1 101.9L1120.1 96.1L1121.2 90.3L1122.2 84.7L1123.3 79.7L1124.3 75.7L1125.4 72.8L1126.4 70.4L1127.4 68.3L1128.5 66.7L1129.5 66L1130.6 66.2L1131.6 66.9L1132.7 67.9L1133.7 69.1L1134.8 70.5L1135.8 72.5L1136.9 74.9L1137.9 77.9L1139 81.2L1140 84.7L1141.1 88.4L1142.1 92.1L1143.2 95.8L1144.2 99.5L1145.3 103.5L1146.3 107.8L1147.4 112.2L1148.4 116.7L1149.5 121.3L1150.5 125.9L1151.6 130.4L1152.6 135.1L1153.7 140L1154.7 144.9L1155.8 149.8L1156.8 154.6L1157.9 159.1L1158.9 163.4L1160 167.4L1161 171.2L1162.1 174.8L1163.1 178.4L1164.2 181.8L1165.2 185.2L1166.3 188.5L1167.3 191.6L1168.4 194.8L1169.4 197.8L1170.5 200.8L1171.5 203.8L1172.6 206.6L1173.6 209.5L1174.6 212.3L1175.7 215.1L1176.7 217.8L1177.8 220.6L1178.8 223.3L1179.9 225.9L1180.9 228.5L1182 231.1L1183 233.6L1184.1 236L1185.1 238.4L1186.2 240.7L1187.2 242.9L1188.3 245L1189.3 247.1L1190.4 249.1L1191.4 251L1192.5 252.9L1193.5 254.8L1194.6 256.6L1195.6 258.4L1196.7 260.1L1197.7 261.8L1198.8 263.5L1199.8 265.1L1200.9 266.7L1201.9 268.2L1203 269.7L1204 271.2L1205.1 272.6L1206.1 274L1207.2 275.3L1208.2 276.6L1209.3 277.9L1210.3 279.1L1211.4 280.4L1212.4 281.6L1213.5 282.8L1214.5 284L1215.6 285.2L1216.6 286.3L1217.7 287.4L1218.7 288.5L1219.7 289.5L1220.8 290.5L1221.8 291.4L1222.9 292.3L1223.9 293.1L1225 293.9L1226 294.6L1227.1 295.3L1228.1 295.9L1229.2 296.6L1230.2 297.2L1231.3 297.8L1232.3 298.4L1233.4 298.9L1234.4 299.5L1235.5 300.1L1236.5 300.6L1237.6 301.1L1238.6 301.6L1239.7 302.1L1240.7 302.6L1241.8 303.1L1242.8 303.5L1243.9 303.9L1244.9 304.4L1246 304.8L1247 305.2L1248.1 305.5L1249.1 305.9L1250.2 306.3L1251.2 306.6L1252.3 306.9L1253.3 307.2L1254.4 307.5L1255.4 307.8L1256.5 308L1257.5 308.3L1258.6 308.5L1259.6 308.7L1260.7 309L1261.7 309.2L1262.8 309.4L1263.8 309.7L1264.8 309.9L1265.9 310.1L1266.9 310.3L1268 310.5L1269 310.7L1270.1 310.9L1271.1 311.1L1272.2 311.3L1273.2 311.5L1274.3 311.7L1275.3 311.8L1276.4 312L1277.4 312.2L1278.5 312.3L1279.5 312.5L1280.6 312.6L1281.6 312.8L1282.7 312.9L1283.7 313L1284.8 313.1L1285.8 313.2L1286.9 313.3L1287.9 313.4L1289 313.5L1290 313.6L1291.1 313.7L1292.1 313.8L1293.2 313.8L1294.2 313.9L1295.3 313.9L1296.3 314L1297.4 314L1298.4 314.1L1299.5 314.1L1300.5 314.2L1301.6 314.2L1302.6 314.2L1303.7 314.3L1304.7 314.3L1305.8 314.4L1306.8 314.4L1307.9 314.5L1308.9 314.5L1309.9 314.5L1311 314.6L1312 314.6L1313.1 314.7L1314.1 314.7L1315.2 314.7L1316.2 314.8L1317.3 314.8L1318.3 314.8L1319.4 314.9L1320.4 314.9L1321.5 314.9L1322.5 315L1323.6 315L1324.6 315L1325.7 315.1L1326.7 315.1L1327.8 315.1L1328.8 315.1L1329.9 315.2L1330.9 315.2L1332 315.2L1333 315.2L1334.1 315.3L1335.1 315.3L1336.2 315.3L1337.2 315.3L1338.3 315.4L1339.3 315.4L1340.4 315.4L1341.4 315.4L1342.5 315.4L1343.5 315.5L1344.6 315.5L1345.6 315.5L1346.7 315.5L1347.7 315.5L1348.8 315.5L1349.8 315.5" fill="none" stroke="#16a6c8" stroke-width="2.0" stroke-dasharray="3.8 2.8" stroke-linejoin="round" />
<path d="M1036.2 315.6L1037.2 315.6L1038.3 315.6L1039.3 315.6L1040.4 315.6L1041.4 315.6L1042.5 315.6L1043.5 315.6L1044.6 315.6L1045.6 315.6L1046.7 315.6L1047.7 315.6L1048.8 315.6L1049.8 315.6L1050.9 315.5L1051.9 315.5L1053 315.5L1054 315.5L1055.1 315.4L1056.1 315.4L1057.2 315.3L1058.2 315.3L1059.3 315.2L1060.3 315.2L1061.4 315.1L1062.4 315.1L1063.5 315L1064.5 314.9L1065.6 314.9L1066.6 314.8L1067.7 314.7L1068.7 314.6L1069.8 314.5L1070.8 314.4L1071.9 314.3L1072.9 314.1L1074 313.9L1075 313.6L1076.1 313.2L1077.1 312.7L1078.2 312.2L1079.2 311.6L1080.3 311L1081.3 310.3L1082.3 309.6L1083.4 308.9L1084.4 308.1L1085.5 307.2L1086.5 306.1L1087.6 304.8L1088.6 303.3L1089.7 301.6L1090.7 299.8L1091.8 297.9L1092.8 295.8L1093.9 293.6L1094.9 290.9L1096 287.8L1097 284.4L1098.1 280.6L1099.1 276.7L1100.2 272.6L1101.2 268.5L1102.3 264.2L1103.3 259.5L1104.4 254.6L1105.4 249.5L1106.5 244.2L1107.5 238.8L1108.6 233.4L1109.6 228L1110.7 222.4L1111.7 216.7L1112.8 210.8L1113.8 204.9L1114.9 198.8L1115.9 192.6L1117 186.4L1118 179.8L1119.1 173.1L1120.1 166.4L1121.2 159.6L1122.2 153L1123.3 146.5L1124.3 140.2L1125.4 133.8L1126.4 127.4L1127.4 121.1L1128.5 115L1129.5 109.2L1130.6 103.7L1131.6 98.5L1132.7 93.2L1133.7 88.1L1134.8 83.2L1135.8 78.9L1136.9 75.4L1137.9 72.8L1139 70.7L1140 68.7L1141.1 67.1L1142.1 66.2L1143.2 66L1144.2 66.4L1145.3 67.1L1146.3 68.1L1147.4 69.2L1148.4 70.4L1149.5 72.1L1150.5 74.2L1151.6 76.7L1152.6 79.4L1153.7 82.5L1154.7 85.7L1155.8 89L1156.8 92.3L1157.9 95.5L1158.9 98.8L1160 102.3L1161 106.1L1162.1 109.9L1163.1 113.9L1164.2 118L1165.2 122L1166.3 126.1L1167.3 130.1L1168.4 134.3L1169.4 138.5L1170.5 142.9L1171.5 147.3L1172.6 151.6L1173.6 155.8L1174.6 159.8L1175.7 163.6L1176.7 167.1L1177.8 170.5L1178.8 173.8L1179.9 176.9L1180.9 180.1L1182 183.1L1183 186.1L1184.1 189L1185.1 191.8L1186.2 194.6L1187.2 197.3L1188.3 200L1189.3 202.6L1190.4 205.2L1191.4 207.7L1192.5 210.2L1193.5 212.7L1194.6 215.2L1195.6 217.7L1196.7 220.1L1197.7 222.5L1198.8 224.8L1199.8 227.2L1200.9 229.5L1201.9 231.7L1203 233.9L1204 236.1L1205.1 238.2L1206.1 240.3L1207.2 242.3L1208.2 244.2L1209.3 246.1L1210.3 247.9L1211.4 249.6L1212.4 251.3L1213.5 253L1214.5 254.6L1215.6 256.3L1216.6 257.9L1217.7 259.4L1218.7 260.9L1219.7 262.4L1220.8 263.9L1221.8 265.3L1222.9 266.7L1223.9 268.1L1225 269.4L1226 270.7L1227.1 272L1228.1 273.3L1229.2 274.5L1230.2 275.6L1231.3 276.8L1232.3 277.9L1233.4 279L1234.4 280.2L1235.5 281.3L1236.5 282.3L1237.6 283.4L1238.6 284.5L1239.7 285.5L1240.7 286.5L1241.8 287.5L1242.8 288.4L1243.9 289.3L1244.9 290.2L1246 291L1247 291.8L1248.1 292.6L1249.1 293.3L1250.2 294L1251.2 294.6L1252.3 295.2L1253.3 295.8L1254.4 296.4L1255.4 296.9L1256.5 297.5L1257.5 298L1258.6 298.5L1259.6 299L1260.7 299.5L1261.7 300L1262.8 300.5L1263.8 301L1264.8 301.4L1265.9 301.9L1266.9 302.3L1268 302.7L1269 303.1L1270.1 303.5L1271.1 303.9L1272.2 304.3L1273.2 304.7L1274.3 305L1275.3 305.4L1276.4 305.7L1277.4 306L1278.5 306.3L1279.5 306.6L1280.6 306.9L1281.6 307.2L1282.7 307.4L1283.7 307.7L1284.8 307.9L1285.8 308.1L1286.9 308.3L1287.9 308.5L1289 308.8L1290 309L1291.1 309.2L1292.1 309.4L1293.2 309.6L1294.2 309.8L1295.3 310L1296.3 310.2L1297.4 310.3L1298.4 310.5L1299.5 310.7L1300.5 310.9L1301.6 311.1L1302.6 311.2L1303.7 311.4L1304.7 311.5L1305.8 311.7L1306.8 311.9L1307.9 312L1308.9 312.2L1309.9 312.3L1311 312.4L1312 312.6L1313.1 312.7L1314.1 312.8L1315.2 312.9L1316.2 313L1317.3 313.1L1318.3 313.2L1319.4 313.3L1320.4 313.4L1321.5 313.5L1322.5 313.6L1323.6 313.6L1324.6 313.7L1325.7 313.8L1326.7 313.8L1327.8 313.9L1328.8 313.9L1329.9 313.9L1330.9 314L1332 314L1333 314.1L1334.1 314.1L1335.1 314.2L1336.2 314.2L1337.2 314.2L1338.3 314.3L1339.3 314.3L1340.4 314.4L1341.4 314.4L1342.5 314.4L1343.5 314.5L1344.6 314.5L1345.6 314.5L1346.7 314.6L1347.7 314.6L1348.8 314.6L1349.8 314.7" fill="none" stroke="#10b010" stroke-width="2.0" stroke-dasharray="3.8 2.8" stroke-linejoin="round" />
<path d="M1036.2 315.6L1037.2 315.6L1038.3 315.6L1039.3 315.6L1040.4 315.5L1041.4 315.5L1042.5 315.5L1043.5 315.4L1044.6 315.4L1045.6 315.3L1046.7 315.3L1047.7 315.2L1048.8 315.2L1049.8 315.1L1050.9 315L1051.9 314.9L1053 314.8L1054 314.7L1055.1 314.6L1056.1 314.5L1057.2 314.4L1058.2 314.3L1059.3 314.1L1060.3 313.9L1061.4 313.6L1062.4 313.3L1063.5 312.9L1064.5 312.4L1065.6 311.9L1066.6 311.4L1067.7 310.8L1068.7 310.2L1069.8 309.5L1070.8 308.8L1071.9 308.1L1072.9 307.3L1074 306.3L1075 305.1L1076.1 303.8L1077.1 302.4L1078.2 300.7L1079.2 299L1080.3 297.2L1081.3 295.2L1082.3 293.1L1083.4 290.6L1084.4 287.7L1085.5 284.5L1086.5 281.1L1087.6 277.5L1088.6 273.7L1089.7 269.9L1090.7 266L1091.8 261.9L1092.8 257.5L1093.9 252.9L1094.9 248.1L1096 243.2L1097 238.2L1098.1 233.2L1099.1 228.2L1100.2 223L1101.2 217.8L1102.3 212.4L1103.3 206.9L1104.4 201.4L1105.4 195.7L1106.5 190L1107.5 184.1L1108.6 178L1109.6 171.8L1110.7 165.6L1111.7 159.4L1112.8 153.2L1113.8 147.2L1114.9 141.4L1115.9 135.5L1117 129.6L1118 123.7L1119.1 118L1120.1 112.5L1121.2 107.2L1122.2 102.3L1123.3 97.5L1124.3 92.6L1125.4 87.9L1126.4 83.4L1127.4 79.3L1128.5 76L1129.5 73.4L1130.6 71.4L1131.6 69.5L1132.7 67.9L1133.7 66.7L1134.8 66L1135.8 66.1L1136.9 66.7L1137.9 67.6L1139 68.8L1140 70L1141.1 71.7L1142.1 73.9L1143.2 76.5L1144.2 79.6L1145.3 82.9L1146.3 86.3L1147.4 89.9L1148.4 93.5L1149.5 97L1150.5 100.7L1151.6 104.6L1152.6 108.8L1153.7 113.1L1154.7 117.5L1155.8 121.9L1156.8 126.2L1157.9 130.6L1158.9 135.1L1160 139.8L1161 144.5L1162.1 149.3L1163.1 153.9L1164.2 158.3L1165.2 162.5L1166.3 166.4L1167.3 170.1L1168.4 173.6L1169.4 177.1L1170.5 180.4L1171.5 183.7L1172.6 186.9L1173.6 190L1174.6 193.1L1175.7 196L1176.7 199L1177.8 201.8L1178.8 204.6L1179.9 207.4L1180.9 210.1L1182 212.8L1183 215.5L1184.1 218.2L1185.1 220.8L1186.2 223.4L1187.2 225.9L1188.3 228.4L1189.3 230.9L1190.4 233.3L1191.4 235.7L1192.5 237.9L1193.5 240.2L1194.6 242.3L1195.6 244.4L1196.7 246.4L1197.7 248.4L1198.8 250.2L1199.8 252.1L1200.9 253.9L1201.9 255.7L1203 257.4L1204 259.1L1205.1 260.7L1206.1 262.4L1207.2 264L1208.2 265.5L1209.3 267L1210.3 268.5L1211.4 269.9L1212.4 271.3L1213.5 272.7L1214.5 274L1215.6 275.3L1216.6 276.6L1217.7 277.8L1218.7 279L1219.7 280.2L1220.8 281.4L1221.8 282.6L1222.9 283.7L1223.9 284.8L1225 285.9L1226 287L1227.1 288L1228.1 289L1229.2 290L1230.2 290.9L1231.3 291.8L1232.3 292.6L1233.4 293.4L1234.4 294.1L1235.5 294.8L1236.5 295.4L1237.6 296.1L1238.6 296.7L1239.7 297.3L1240.7 297.8L1241.8 298.4L1242.8 299L1243.9 299.5L1244.9 300L1246 300.6L1247 301.1L1248.1 301.5L1249.1 302L1250.2 302.5L1251.2 302.9L1252.3 303.4L1253.3 303.8L1254.4 304.2L1255.4 304.6L1256.5 305L1257.5 305.4L1258.6 305.7L1259.6 306.1L1260.7 306.4L1261.7 306.7L1262.8 307L1263.8 307.3L1264.8 307.6L1265.9 307.8L1266.9 308.1L1268 308.3L1269 308.5L1270.1 308.8L1271.1 309L1272.2 309.2L1273.2 309.4L1274.3 309.6L1275.3 309.9L1276.4 310.1L1277.4 310.3L1278.5 310.5L1279.5 310.7L1280.6 310.9L1281.6 311L1282.7 311.2L1283.7 311.4L1284.8 311.6L1285.8 311.8L1286.9 311.9L1287.9 312.1L1289 312.2L1290 312.4L1291.1 312.5L1292.1 312.7L1293.2 312.8L1294.2 312.9L1295.3 313L1296.3 313.1L1297.4 313.3L1298.4 313.4L1299.5 313.4L1300.5 313.5L1301.6 313.6L1302.6 313.7L1303.7 313.7L1304.7 313.8L1305.8 313.9L1306.8 313.9L1307.9 314L1308.9 314L1309.9 314L1311 314.1L1312 314.1L1313.1 314.2L1314.1 314.2L1315.2 314.3L1316.2 314.3L1317.3 314.3L1318.3 314.4L1319.4 314.4L1320.4 314.5L1321.5 314.5L1322.5 314.5L1323.6 314.6L1324.6 314.6L1325.7 314.7L1326.7 314.7L1327.8 314.7L1328.8 314.8L1329.9 314.8L1330.9 314.8L1332 314.9L1333 314.9L1334.1 314.9L1335.1 315L1336.2 315L1337.2 315L1338.3 315.1L1339.3 315.1L1340.4 315.1L1341.4 315.1L1342.5 315.2L1343.5 315.2L1344.6 315.2L1345.6 315.2L1346.7 315.3L1347.7 315.3L1348.8 315.3L1349.8 315.3" fill="none" stroke="#a4e02c" stroke-width="2.0" stroke-dasharray="3.8 2.8" stroke-linejoin="round" />
<path d="M1036.2 315.6L1037.2 315.6L1038.3 315.6L1039.3 315.6L1040.4 315.6L1041.4 315.6L1042.5 315.6L1043.5 315.6L1044.6 315.6L1045.6 315.6L1046.7 315.6L1047.7 315.6L1048.8 315.6L1049.8 315.6L1050.9 315.6L1051.9 315.6L1053 315.6L1054 315.6L1055.1 315.5L1056.1 315.5L1057.2 315.5L1058.2 315.5L1059.3 315.4L1060.3 315.4L1061.4 315.4L1062.4 315.3L1063.5 315.3L1064.5 315.2L1065.6 315.2L1066.6 315.1L1067.7 315.1L1068.7 315L1069.8 314.9L1070.8 314.8L1071.9 314.8L1072.9 314.7L1074 314.6L1075 314.5L1076.1 314.4L1077.1 314.3L1078.2 314.2L1079.2 314L1080.3 313.7L1081.3 313.3L1082.3 312.9L1083.4 312.5L1084.4 312L1085.5 311.4L1086.5 310.8L1087.6 310.2L1088.6 309.5L1089.7 308.8L1090.7 308L1091.8 307.2L1092.8 306.1L1093.9 304.9L1094.9 303.5L1096 302L1097 300.3L1098.1 298.5L1099.1 296.6L1100.2 294.5L1101.2 292.3L1102.3 289.6L1103.3 286.5L1104.4 283.1L1105.4 279.5L1106.5 275.7L1107.5 271.8L1108.6 267.9L1109.6 263.8L1110.7 259.4L1111.7 254.8L1112.8 250L1113.8 245L1114.9 239.9L1115.9 234.8L1117 229.7L1118 224.4L1119.1 219.1L1120.1 213.6L1121.2 208L1122.2 202.4L1123.3 196.6L1124.3 190.8L1125.4 184.8L1126.4 178.6L1127.4 172.2L1128.5 165.8L1129.5 159.5L1130.6 153.2L1131.6 147L1132.7 141L1133.7 135L1134.8 129L1135.8 123L1136.9 117.2L1137.9 111.6L1139 106.2L1140 101.2L1141.1 96.3L1142.1 91.3L1143.2 86.5L1144.2 82L1145.3 78.1L1146.3 74.9L1147.4 72.6L1148.4 70.6L1149.5 68.7L1150.5 67.2L1151.6 66.3L1152.6 66L1153.7 66.2L1154.7 66.7L1155.8 67.4L1156.8 68.2L1157.9 69.1L1158.9 70L1160 71.3L1161 72.8L1162.1 74.7L1163.1 76.7L1164.2 79L1165.2 81.5L1166.3 84.1L1167.3 86.7L1168.4 89.5L1169.4 92.2L1170.5 94.9L1171.5 97.6L1172.6 100.4L1173.6 103.3L1174.6 106.4L1175.7 109.6L1176.7 112.9L1177.8 116.2L1178.8 119.6L1179.9 122.9L1180.9 126.2L1182 129.5L1183 132.9L1184.1 136.4L1185.1 140L1186.2 143.6L1187.2 147.2L1188.3 150.8L1189.3 154.3L1190.4 157.7L1191.4 160.9L1192.5 164L1193.5 166.9L1194.6 169.7L1195.6 172.4L1196.7 175L1197.7 177.7L1198.8 180.2L1199.8 182.7L1200.9 185.2L1201.9 187.6L1203 189.9L1204 192.3L1205.1 194.5L1206.1 196.8L1207.2 199L1208.2 201.2L1209.3 203.3L1210.3 205.5L1211.4 207.6L1212.4 209.6L1213.5 211.7L1214.5 213.7L1215.6 215.8L1216.6 217.8L1217.7 219.8L1218.7 221.8L1219.7 223.7L1220.8 225.7L1221.8 227.6L1222.9 229.5L1223.9 231.3L1225 233.2L1226 235L1227.1 236.7L1228.1 238.5L1229.2 240.1L1230.2 241.8L1231.3 243.4L1232.3 245L1233.4 246.5L1234.4 248L1235.5 249.4L1236.5 250.8L1237.6 252.2L1238.6 253.6L1239.7 254.9L1240.7 256.3L1241.8 257.6L1242.8 258.9L1243.9 260.1L1244.9 261.4L1246 262.6L1247 263.8L1248.1 265L1249.1 266.2L1250.2 267.3L1251.2 268.4L1252.3 269.5L1253.3 270.6L1254.4 271.7L1255.4 272.7L1256.5 273.7L1257.5 274.7L1258.6 275.7L1259.6 276.6L1260.7 277.5L1261.7 278.5L1262.8 279.4L1263.8 280.3L1264.8 281.2L1265.9 282.1L1266.9 283L1268 283.9L1269 284.7L1270.1 285.6L1271.1 286.4L1272.2 287.2L1273.2 288L1274.3 288.7L1275.3 289.5L1276.4 290.2L1277.4 290.9L1278.5 291.6L1279.5 292.2L1280.6 292.8L1281.6 293.4L1282.7 294L1283.7 294.5L1284.8 295L1285.8 295.5L1286.9 296L1287.9 296.4L1289 296.9L1290 297.3L1291.1 297.8L1292.1 298.2L1293.2 298.6L1294.2 299L1295.3 299.5L1296.3 299.9L1297.4 300.3L1298.4 300.6L1299.5 301L1300.5 301.4L1301.6 301.8L1302.6 302.1L1303.7 302.5L1304.7 302.8L1305.8 303.2L1306.8 303.5L1307.9 303.8L1308.9 304.1L1309.9 304.4L1311 304.7L1312 305L1313.1 305.3L1314.1 305.6L1315.2 305.8L1316.2 306.1L1317.3 306.4L1318.3 306.6L1319.4 306.8L1320.4 307.1L1321.5 307.3L1322.5 307.5L1323.6 307.7L1324.6 307.9L1325.7 308.1L1326.7 308.2L1327.8 308.4L1328.8 308.6L1329.9 308.8L1330.9 308.9L1332 309.1L1333 309.3L1334.1 309.4L1335.1 309.6L1336.2 309.8L1337.2 309.9L1338.3 310.1L1339.3 310.2L1340.4 310.4L1341.4 310.5L1342.5 310.7L1343.5 310.8L1344.6 311L1345.6 311.1L1346.7 311.3L1347.7 311.4L1348.8 311.5L1349.8 311.7" fill="none" stroke="#f5a800" stroke-width="2.0" stroke-dasharray="3.8 2.8" stroke-linejoin="round" />
<path d="M1036.2 315.6L1037.2 315.6L1038.3 315.6L1039.3 315.6L1040.4 315.6L1041.4 315.6L1042.5 315.6L1043.5 315.6L1044.6 315.6L1045.6 315.6L1046.7 315.6L1047.7 315.6L1048.8 315.6L1049.8 315.6L1050.9 315.6L1051.9 315.6L1053 315.6L1054 315.6L1055.1 315.6L1056.1 315.6L1057.2 315.6L1058.2 315.6L1059.3 315.6L1060.3 315.6L1061.4 315.6L1062.4 315.6L1063.5 315.6L1064.5 315.5L1065.6 315.5L1066.6 315.5L1067.7 315.4L1068.7 315.3L1069.8 315.3L1070.8 315.2L1071.9 315.1L1072.9 315L1074 314.9L1075 314.8L1076.1 314.6L1077.1 314.5L1078.2 314.3L1079.2 314.2L1080.3 314L1081.3 313.9L1082.3 313.7L1083.4 313.5L1084.4 313.3L1085.5 313.1L1086.5 312.8L1087.6 312.4L1088.6 311.8L1089.7 311.1L1090.7 310.3L1091.8 309.4L1092.8 308.4L1093.9 307.2L1094.9 306L1096 304.7L1097 303.3L1098.1 301.8L1099.1 300.3L1100.2 298.8L1101.2 297.2L1102.3 295.6L1103.3 293.7L1104.4 291.6L1105.4 289.2L1106.5 286.6L1107.5 283.8L1108.6 280.7L1109.6 277.5L1110.7 274.1L1111.7 270.6L1112.8 266.9L1113.8 263.1L1114.9 259.3L1115.9 255.3L1117 250.8L1118 245.9L1119.1 240.6L1120.1 235.1L1121.2 229.5L1122.2 223.8L1123.3 218.1L1124.3 212.6L1125.4 207.3L1126.4 202L1127.4 196.6L1128.5 191.3L1129.5 185.9L1130.6 180.5L1131.6 175.2L1132.7 169.8L1133.7 164.3L1134.8 158.8L1135.8 153.2L1136.9 147.7L1137.9 142.2L1139 136.9L1140 131.7L1141.1 126.7L1142.1 122.1L1143.2 117.4L1144.2 112.8L1145.3 108.3L1146.3 103.8L1147.4 99.6L1148.4 95.6L1149.5 91.9L1150.5 88.4L1151.6 85.4L1152.6 82.7L1153.7 80L1154.7 77.5L1155.8 75.2L1156.8 73.2L1157.9 71.4L1158.9 70L1160 68.8L1161 67.7L1162.1 66.7L1163.1 66.1L1164.2 66L1165.2 66.4L1166.3 67.1L1167.3 68L1168.4 69L1169.4 70L1170.5 71.3L1171.5 72.7L1172.6 74.3L1173.6 76.1L1174.6 78L1175.7 79.9L1176.7 81.9L1177.8 83.9L1178.8 85.9L1179.9 88L1180.9 90.2L1182 92.5L1183 94.8L1184.1 97.2L1185.1 99.7L1186.2 102.1L1187.2 104.6L1188.3 107.1L1189.3 109.6L1190.4 112.1L1191.4 114.6L1192.5 117.2L1193.5 119.7L1194.6 122.3L1195.6 124.9L1196.7 127.5L1197.7 130.2L1198.8 132.8L1199.8 135.5L1200.9 138.2L1201.9 140.9L1203 143.6L1204 146.4L1205.1 149.1L1206.1 151.8L1207.2 154.6L1208.2 157.3L1209.3 160L1210.3 162.8L1211.4 165.5L1212.4 168.2L1213.5 171L1214.5 173.8L1215.6 176.7L1216.6 179.5L1217.7 182.4L1218.7 185.3L1219.7 188.2L1220.8 191L1221.8 193.9L1222.9 196.7L1223.9 199.5L1225 202.2L1226 204.9L1227.1 207.5L1228.1 210L1229.2 212.5L1230.2 214.9L1231.3 217.3L1232.3 219.7L1233.4 222.1L1234.4 224.4L1235.5 226.8L1236.5 229L1237.6 231.3L1238.6 233.5L1239.7 235.6L1240.7 237.7L1241.8 239.8L1242.8 241.8L1243.9 243.7L1244.9 245.6L1246 247.4L1247 249.1L1248.1 250.8L1249.1 252.5L1250.2 254.2L1251.2 255.8L1252.3 257.4L1253.3 259L1254.4 260.6L1255.4 262.1L1256.5 263.6L1257.5 265L1258.6 266.4L1259.6 267.8L1260.7 269.1L1261.7 270.4L1262.8 271.7L1263.8 272.9L1264.8 274.1L1265.9 275.2L1266.9 276.2L1268 277.2L1269 278.2L1270.1 279.2L1271.1 280.1L1272.2 281L1273.2 281.9L1274.3 282.7L1275.3 283.6L1276.4 284.4L1277.4 285.2L1278.5 286L1279.5 286.7L1280.6 287.5L1281.6 288.2L1282.7 288.9L1283.7 289.6L1284.8 290.3L1285.8 291L1286.9 291.6L1287.9 292.2L1289 292.9L1290 293.5L1291.1 294.1L1292.1 294.6L1293.2 295.2L1294.2 295.8L1295.3 296.3L1296.3 296.8L1297.4 297.4L1298.4 297.9L1299.5 298.4L1300.5 298.9L1301.6 299.3L1302.6 299.8L1303.7 300.3L1304.7 300.7L1305.8 301.2L1306.8 301.6L1307.9 302L1308.9 302.5L1309.9 302.9L1311 303.3L1312 303.7L1313.1 304.1L1314.1 304.5L1315.2 304.9L1316.2 305.3L1317.3 305.7L1318.3 306.1L1319.4 306.5L1320.4 306.8L1321.5 307.2L1322.5 307.6L1323.6 308L1324.6 308.4L1325.7 308.8L1326.7 309.2L1327.8 309.6L1328.8 310L1329.9 310.3L1330.9 310.6L1332 311L1333 311.3L1334.1 311.6L1335.1 311.9L1336.2 312.1L1337.2 312.4L1338.3 312.6L1339.3 312.8L1340.4 313L1341.4 313.1L1342.5 313.3L1343.5 313.5L1344.6 313.6L1345.6 313.8L1346.7 314L1347.7 314.1L1348.8 314.3L1349.8 314.4" fill="none" stroke="#f5701c" stroke-width="2.0" stroke-dasharray="3.8 2.8" stroke-linejoin="round" />
<path d="M1036.2 315.6L1037.2 315.6L1038.3 315.6L1039.3 315.6L1040.4 315.6L1041.4 315.6L1042.5 315.6L1043.5 315.6L1044.6 315.6L1045.6 315.6L1046.7 315.6L1047.7 315.6L1048.8 315.6L1049.8 315.6L1050.9 315.6L1051.9 315.6L1053 315.6L1054 315.6L1055.1 315.6L1056.1 315.6L1057.2 315.6L1058.2 315.6L1059.3 315.6L1060.3 315.6L1061.4 315.6L1062.4 315.6L1063.5 315.6L1064.5 315.5L1065.6 315.5L1066.6 315.4L1067.7 315.4L1068.7 315.3L1069.8 315.3L1070.8 315.2L1071.9 315.1L1072.9 315L1074 314.9L1075 314.8L1076.1 314.6L1077.1 314.5L1078.2 314.4L1079.2 314.2L1080.3 314L1081.3 313.9L1082.3 313.7L1083.4 313.5L1084.4 313.3L1085.5 313.1L1086.5 312.9L1087.6 312.5L1088.6 312L1089.7 311.3L1090.7 310.5L1091.8 309.6L1092.8 308.6L1093.9 307.6L1094.9 306.4L1096 305.1L1097 303.8L1098.1 302.4L1099.1 300.9L1100.2 299.4L1101.2 297.9L1102.3 296.3L1103.3 294.6L1104.4 292.6L1105.4 290.4L1106.5 288L1107.5 285.3L1108.6 282.4L1109.6 279.3L1110.7 276.1L1111.7 272.7L1112.8 269.2L1113.8 265.6L1114.9 261.8L1115.9 258L1117 254L1118 249.5L1119.1 244.5L1120.1 239.3L1121.2 233.8L1122.2 228.2L1123.3 222.7L1124.3 217.1L1125.4 211.8L1126.4 206.6L1127.4 201.3L1128.5 196.1L1129.5 190.8L1130.6 185.5L1131.6 180.3L1132.7 175L1133.7 169.7L1134.8 164.4L1135.8 158.9L1136.9 153.5L1137.9 148L1139 142.6L1140 137.4L1141.1 132.3L1142.1 127.4L1143.2 122.8L1144.2 118.2L1145.3 113.7L1146.3 109.2L1147.4 104.8L1148.4 100.6L1149.5 96.6L1150.5 92.9L1151.6 89.4L1152.6 86.3L1153.7 83.6L1154.7 80.9L1155.8 78.4L1156.8 76.1L1157.9 74L1158.9 72.1L1160 70.6L1161 69.4L1162.1 68.2L1163.1 67.2L1164.2 66.4L1165.2 66L1166.3 66.1L1167.3 66.7L1168.4 67.5L1169.4 68.4L1170.5 69.4L1171.5 70.5L1172.6 71.8L1173.6 73.3L1174.6 75L1175.7 76.8L1176.7 78.7L1177.8 80.7L1178.8 82.6L1179.9 84.6L1180.9 86.6L1182 88.8L1183 91L1184.1 93.3L1185.1 95.6L1186.2 98L1187.2 100.4L1188.3 102.9L1189.3 105.4L1190.4 107.9L1191.4 110.3L1192.5 112.8L1193.5 115.3L1194.6 117.8L1195.6 120.4L1196.7 122.9L1197.7 125.5L1198.8 128.2L1199.8 130.8L1200.9 133.4L1201.9 136.1L1203 138.8L1204 141.5L1205.1 144.2L1206.1 146.9L1207.2 149.6L1208.2 152.3L1209.3 155L1210.3 157.8L1211.4 160.5L1212.4 163.2L1213.5 165.9L1214.5 168.6L1215.6 171.4L1216.6 174.2L1217.7 177L1218.7 179.8L1219.7 182.7L1220.8 185.6L1221.8 188.4L1222.9 191.3L1223.9 194.1L1225 196.9L1226 199.6L1227.1 202.3L1228.1 205L1229.2 207.6L1230.2 210.1L1231.3 212.6L1232.3 215L1233.4 217.4L1234.4 219.7L1235.5 222.1L1236.5 224.4L1237.6 226.7L1238.6 229L1239.7 231.2L1240.7 233.4L1241.8 235.5L1242.8 237.6L1243.9 239.7L1244.9 241.7L1246 243.6L1247 245.4L1248.1 247.2L1249.1 249L1250.2 250.7L1251.2 252.3L1252.3 254L1253.3 255.6L1254.4 257.2L1255.4 258.8L1256.5 260.4L1257.5 261.9L1258.6 263.4L1259.6 264.8L1260.7 266.2L1261.7 267.6L1262.8 268.9L1263.8 270.2L1264.8 271.5L1265.9 272.7L1266.9 273.8L1268 274.9L1269 276L1270.1 277L1271.1 278L1272.2 278.9L1273.2 279.9L1274.3 280.8L1275.3 281.7L1276.4 282.5L1277.4 283.4L1278.5 284.2L1279.5 285L1280.6 285.8L1281.6 286.5L1282.7 287.3L1283.7 288L1284.8 288.7L1285.8 289.4L1286.9 290.1L1287.9 290.7L1289 291.4L1290 292L1291.1 292.6L1292.1 293.2L1293.2 293.8L1294.2 294.4L1295.3 295L1296.3 295.5L1297.4 296.1L1298.4 296.6L1299.5 297.1L1300.5 297.7L1301.6 298.2L1302.6 298.6L1303.7 299.1L1304.7 299.6L1305.8 300.1L1306.8 300.5L1307.9 301L1308.9 301.4L1309.9 301.8L1311 302.3L1312 302.7L1313.1 303.1L1314.1 303.5L1315.2 303.9L1316.2 304.3L1317.3 304.7L1318.3 305.1L1319.4 305.5L1320.4 305.8L1321.5 306.2L1322.5 306.6L1323.6 307L1324.6 307.4L1325.7 307.8L1326.7 308.2L1327.8 308.6L1328.8 309L1329.9 309.4L1330.9 309.7L1332 310.1L1333 310.4L1334.1 310.8L1335.1 311.1L1336.2 311.4L1337.2 311.7L1338.3 312L1339.3 312.2L1340.4 312.4L1341.4 312.7L1342.5 312.8L1343.5 313L1344.6 313.2L1345.6 313.3L1346.7 313.5L1347.7 313.7L1348.8 313.8L1349.8 314" fill="none" stroke="#f03434" stroke-width="2.0" stroke-dasharray="3.8 2.8" stroke-linejoin="round" />
<path d="M1036.2 315.6L1037.2 315.6L1038.3 315.6L1039.3 315.6L1040.4 315.6L1041.4 315.6L1042.5 315.6L1043.5 315.6L1044.6 315.6L1045.6 315.6L1046.7 315.6L1047.7 315.6L1048.8 315.6L1049.8 315.6L1050.9 315.6L1051.9 315.6L1053 315.6L1054 315.6L1055.1 315.6L1056.1 315.6L1057.2 315.6L1058.2 315.6L1059.3 315.6L1060.3 315.6L1061.4 315.6L1062.4 315.5L1063.5 315.5L1064.5 315.4L1065.6 315.4L1066.6 315.3L1067.7 315.2L1068.7 315.2L1069.8 315.1L1070.8 315L1071.9 314.9L1072.9 314.8L1074 314.7L1075 314.5L1076.1 314.4L1077.1 314.3L1078.2 314.1L1079.2 314L1080.3 313.8L1081.3 313.7L1082.3 313.5L1083.4 313.3L1084.4 313.1L1085.5 312.9L1086.5 312.5L1087.6 312.1L1088.6 311.5L1089.7 310.8L1090.7 310L1091.8 309.1L1092.8 308.1L1093.9 307L1094.9 305.9L1096 304.7L1097 303.4L1098.1 302.1L1099.1 300.7L1100.2 299.3L1101.2 297.9L1102.3 296.4L1103.3 294.8L1104.4 293L1105.4 291L1106.5 288.8L1107.5 286.3L1108.6 283.7L1109.6 280.9L1110.7 277.9L1111.7 274.8L1112.8 271.6L1113.8 268.3L1114.9 264.9L1115.9 261.4L1117 257.8L1118 254L1119.1 249.8L1120.1 245.2L1121.2 240.3L1122.2 235.2L1123.3 230L1124.3 224.8L1125.4 219.6L1126.4 214.5L1127.4 209.6L1128.5 204.7L1129.5 199.8L1130.6 194.8L1131.6 189.9L1132.7 185L1133.7 180L1134.8 175.1L1135.8 170.2L1136.9 165.1L1137.9 160L1139 154.9L1140 149.8L1141.1 144.8L1142.1 139.8L1143.2 134.9L1144.2 130.3L1145.3 125.8L1146.3 121.5L1147.4 117.2L1148.4 113L1149.5 108.8L1150.5 104.7L1151.6 100.8L1152.6 97L1153.7 93.5L1154.7 90.2L1155.8 87.2L1156.8 84.5L1157.9 82L1158.9 79.6L1160 77.3L1161 75.2L1162.1 73.3L1163.1 71.7L1164.2 70.3L1165.2 69.2L1166.3 68.1L1167.3 67.1L1168.4 66.4L1169.4 66L1170.5 66.1L1171.5 66.6L1172.6 67.3L1173.6 68.2L1174.6 69.3L1175.7 70.3L1176.7 71.5L1177.8 73L1178.8 74.6L1179.9 76.3L1180.9 78.2L1182 80.1L1183 82.1L1184.1 84L1185.1 86L1186.2 88L1187.2 90.2L1188.3 92.4L1189.3 94.7L1190.4 97.1L1191.4 99.5L1192.5 101.9L1193.5 104.3L1194.6 106.8L1195.6 109.2L1196.7 111.7L1197.7 114.1L1198.8 116.6L1199.8 119.1L1200.9 121.6L1201.9 124.2L1203 126.7L1204 129.3L1205.1 131.9L1206.1 134.5L1207.2 137.2L1208.2 139.8L1209.3 142.5L1210.3 145.2L1211.4 147.8L1212.4 150.5L1213.5 153.2L1214.5 155.9L1215.6 158.5L1216.6 161.2L1217.7 163.9L1218.7 166.6L1219.7 169.3L1220.8 172L1221.8 174.8L1222.9 177.6L1223.9 180.4L1225 183.2L1226 186L1227.1 188.8L1228.1 191.6L1229.2 194.4L1230.2 197.2L1231.3 199.9L1232.3 202.6L1233.4 205.2L1234.4 207.7L1235.5 210.2L1236.5 212.6L1237.6 215L1238.6 217.4L1239.7 219.7L1240.7 222L1241.8 224.3L1242.8 226.6L1243.9 228.8L1244.9 231L1246 233.2L1247 235.3L1248.1 237.4L1249.1 239.4L1250.2 241.4L1251.2 243.3L1252.3 245.1L1253.3 246.9L1254.4 248.6L1255.4 250.3L1256.5 252L1257.5 253.6L1258.6 255.2L1259.6 256.8L1260.7 258.4L1261.7 259.9L1262.8 261.4L1263.8 262.9L1264.8 264.3L1265.9 265.7L1266.9 267.1L1268 268.4L1269 269.7L1270.1 271L1271.1 272.2L1272.2 273.3L1273.2 274.5L1274.3 275.5L1275.3 276.5L1276.4 277.5L1277.4 278.5L1278.5 279.4L1279.5 280.3L1280.6 281.2L1281.6 282L1282.7 282.9L1283.7 283.7L1284.8 284.5L1285.8 285.3L1286.9 286.1L1287.9 286.8L1289 287.5L1290 288.2L1291.1 288.9L1292.1 289.6L1293.2 290.3L1294.2 290.9L1295.3 291.6L1296.3 292.2L1297.4 292.8L1298.4 293.4L1299.5 294L1300.5 294.5L1301.6 295.1L1302.6 295.7L1303.7 296.2L1304.7 296.7L1305.8 297.2L1306.8 297.7L1307.9 298.2L1308.9 298.7L1309.9 299.2L1311 299.6L1312 300.1L1313.1 300.5L1314.1 301L1315.2 301.4L1316.2 301.8L1317.3 302.3L1318.3 302.7L1319.4 303.1L1320.4 303.5L1321.5 303.9L1322.5 304.3L1323.6 304.7L1324.6 305L1325.7 305.4L1326.7 305.8L1327.8 306.2L1328.8 306.6L1329.9 307L1330.9 307.3L1332 307.7L1333 308.1L1334.1 308.5L1335.1 308.9L1336.2 309.3L1337.2 309.6L1338.3 310L1339.3 310.3L1340.4 310.7L1341.4 311L1342.5 311.3L1343.5 311.6L1344.6 311.9L1345.6 312.1L1346.7 312.4L1347.7 312.6L1348.8 312.8L1349.8 312.9" fill="none" stroke="#a00832" stroke-width="2.0" stroke-dasharray="3.8 2.8" stroke-linejoin="round" />
<rect x="1036.2" y="33.8" width="358.6" height="288.1" fill="none" stroke="#000" stroke-width="2"/>
<line x1="1030.3" y1="315.6" x2="1036.2" y2="315.6" stroke="#000" stroke-width="1.8" />
<line x1="1032.4" y1="290.6" x2="1036.2" y2="290.6" stroke="#000" stroke-width="1.8" />
<line x1="1030.3" y1="265.7" x2="1036.2" y2="265.7" stroke="#000" stroke-width="1.8" />
<line x1="1032.4" y1="240.7" x2="1036.2" y2="240.7" stroke="#000" stroke-width="1.8" />
<line x1="1030.3" y1="215.8" x2="1036.2" y2="215.8" stroke="#000" stroke-width="1.8" />
<line x1="1032.4" y1="190.8" x2="1036.2" y2="190.8" stroke="#000" stroke-width="1.8" />
<line x1="1030.3" y1="165.8" x2="1036.2" y2="165.8" stroke="#000" stroke-width="1.8" />
<line x1="1032.4" y1="140.9" x2="1036.2" y2="140.9" stroke="#000" stroke-width="1.8" />
<line x1="1030.3" y1="115.9" x2="1036.2" y2="115.9" stroke="#000" stroke-width="1.8" />
<line x1="1032.4" y1="91" x2="1036.2" y2="91" stroke="#000" stroke-width="1.8" />
<line x1="1030.3" y1="66" x2="1036.2" y2="66" stroke="#000" stroke-width="1.8" />
<line x1="1032.4" y1="41" x2="1036.2" y2="41" stroke="#000" stroke-width="1.8" />
<text transform="translate(1026.5 321.5) scale(0.945 1)" font-size="21" text-anchor="end" fill="#000" >0.0</text>
<text transform="translate(1026.5 271.58) scale(0.945 1)" font-size="21" text-anchor="end" fill="#000" >0.2</text>
<text transform="translate(1026.5 221.66) scale(0.945 1)" font-size="21" text-anchor="end" fill="#000" >0.4</text>
<text transform="translate(1026.5 171.74) scale(0.945 1)" font-size="21" text-anchor="end" fill="#000" >0.6</text>
<text transform="translate(1026.5 121.82) scale(0.945 1)" font-size="21" text-anchor="end" fill="#000" >0.8</text>
<text transform="translate(1026.5 71.9) scale(0.945 1)" font-size="21" text-anchor="end" fill="#000" >1.0</text>
<line x1="1047" y1="321.9" x2="1047" y2="327.1" stroke="#000" stroke-width="1.8" />
<line x1="1084.9" y1="321.9" x2="1084.9" y2="324.6" stroke="#000" stroke-width="1.8" />
<line x1="1122.7" y1="321.9" x2="1122.7" y2="327.1" stroke="#000" stroke-width="1.8" />
<line x1="1160.6" y1="321.9" x2="1160.6" y2="324.6" stroke="#000" stroke-width="1.8" />
<line x1="1198.4" y1="321.9" x2="1198.4" y2="327.1" stroke="#000" stroke-width="1.8" />
<line x1="1236.3" y1="321.9" x2="1236.3" y2="324.6" stroke="#000" stroke-width="1.8" />
<line x1="1274.1" y1="321.9" x2="1274.1" y2="327.1" stroke="#000" stroke-width="1.8" />
<line x1="1312" y1="321.9" x2="1312" y2="324.6" stroke="#000" stroke-width="1.8" />
<line x1="1349.8" y1="321.9" x2="1349.8" y2="327.1" stroke="#000" stroke-width="1.8" />
<line x1="1387.7" y1="321.9" x2="1387.7" y2="324.6" stroke="#000" stroke-width="1.8" />
<text transform="translate(1047.01 346.8) scale(1.03 1)" font-size="21" text-anchor="middle" fill="#000" >560</text>
<text transform="translate(1122.71 346.8) scale(1.03 1)" font-size="21" text-anchor="middle" fill="#000" >630</text>
<text transform="translate(1198.41 346.8) scale(1.03 1)" font-size="21" text-anchor="middle" fill="#000" >700</text>
<text transform="translate(1274.11 346.8) scale(1.03 1)" font-size="21" text-anchor="middle" fill="#000" >770</text>
<text transform="translate(1349.81 346.8) scale(1.03 1)" font-size="21" text-anchor="middle" fill="#000" >840</text>
<text transform="translate(1215 379.7) scale(1.025 1)" font-size="20" text-anchor="middle" fill="#000" >Wavelength (nm)</text>
<text transform="translate(987.4 176.6) rotate(-90) scale(1.15 1)" font-size="19" text-anchor="middle" fill="#000" >Normalized emission (a.u.)</text>
<text transform="translate(954.6 28.8) scale(1.07 1)" font-size="30" text-anchor="start" fill="#000" >(c)</text>
<text transform="translate(1044.9 55.2) scale(1.12 1)" font-size="17" text-anchor="start" fill="#000" >M<tspan font-size="12" dy="4.5">2</tspan><tspan dy="-4.5">TTM-TBA</tspan></text>
<line x1="1254.9" y1="50.8" x2="1279" y2="50.8" stroke="#111111" stroke-width="2.1" stroke-dasharray="5.8 3.3"/>
<text transform="translate(1287.2 56.1) scale(0.995 1)" font-size="15" text-anchor="start" fill="#000" >cyclohexane</text>
<line x1="1254.9" y1="69.3" x2="1279" y2="69.3" stroke="#5a12b8" stroke-width="2.1" stroke-dasharray="5.8 3.3"/>
<text transform="translate(1287.2 74.57) scale(0.995 1)" font-size="15" text-anchor="start" fill="#000" >toluene</text>
<line x1="1254.9" y1="87.7" x2="1279" y2="87.7" stroke="#1a6af0" stroke-width="2.1" stroke-dasharray="5.8 3.3"/>
<text transform="translate(1287.2 93.04) scale(0.995 1)" font-size="15" text-anchor="start" fill="#000" >n-butyl ether</text>
<line x1="1254.9" y1="106.2" x2="1279" y2="106.2" stroke="#16a6c8" stroke-width="2.1" stroke-dasharray="5.8 3.3"/>
<text transform="translate(1287.2 111.51) scale(0.995 1)" font-size="15" text-anchor="start" fill="#000" >isopropyl ether</text>
<line x1="1254.9" y1="124.7" x2="1279" y2="124.7" stroke="#10b010" stroke-width="2.1" stroke-dasharray="5.8 3.3"/>
<text transform="translate(1287.2 129.98) scale(0.995 1)" font-size="15" text-anchor="start" fill="#000" >chloroform</text>
<line x1="1254.9" y1="143.1" x2="1279" y2="143.1" stroke="#a4e02c" stroke-width="2.1" stroke-dasharray="5.8 3.3"/>
<text transform="translate(1287.2 148.45) scale(0.995 1)" font-size="15" text-anchor="start" fill="#000" >diethyl ether</text>
<line x1="1254.9" y1="161.6" x2="1279" y2="161.6" stroke="#f5a800" stroke-width="2.1" stroke-dasharray="5.8 3.3"/>
<text transform="translate(1287.2 166.92) scale(0.995 1)" font-size="15" text-anchor="start" fill="#000" >dcm</text>
<line x1="1254.9" y1="180.1" x2="1279" y2="180.1" stroke="#f5701c" stroke-width="2.1" stroke-dasharray="5.8 3.3"/>
<text transform="translate(1287.2 185.39) scale(0.995 1)" font-size="15" text-anchor="start" fill="#000" >acetonitrile</text>
<line x1="1254.9" y1="198.6" x2="1279" y2="198.6" stroke="#f03434" stroke-width="2.1" stroke-dasharray="5.8 3.3"/>
<text transform="translate(1287.2 203.86) scale(0.995 1)" font-size="15" text-anchor="start" fill="#000" >dmf</text>
<line x1="1254.9" y1="217" x2="1279" y2="217" stroke="#a00832" stroke-width="2.1" stroke-dasharray="5.8 3.3"/>
<text transform="translate(1287.2 222.33) scale(0.995 1)" font-size="15" text-anchor="start" fill="#000" >dmso</text>
</g>
<g id="panel_d">
<rect x="89.6" y="463.7" width="376" height="300.2" fill="none" stroke="#000" stroke-width="2"/>
<rect x="112.7" y="720.5" width="10.8" height="10.8" fill="#000"/>
<rect x="128.3" y="656.8" width="10.8" height="10.8" fill="#000"/>
<rect x="224.1" y="643.5" width="10.8" height="10.8" fill="#000"/>
<rect x="276.9" y="596.5" width="10.8" height="10.8" fill="#000"/>
<rect x="279.9" y="615.2" width="10.8" height="10.8" fill="#000"/>
<rect x="306.2" y="599.9" width="10.8" height="10.8" fill="#000"/>
<rect x="362.3" y="544.2" width="10.8" height="10.8" fill="#000"/>
<rect x="429.4" y="488.4" width="10.8" height="10.8" fill="#000"/>
<rect x="415.6" y="482.5" width="12.3" height="16.3" fill="#000"/>
<line x1="119.3" y1="714.2" x2="436.5" y2="496" stroke="#ff0a0a" stroke-width="2.0" />
<line x1="83.7" y1="743.2" x2="89.6" y2="743.2" stroke="#000" stroke-width="1.8" />
<line x1="85.8" y1="700.1" x2="89.6" y2="700.1" stroke="#000" stroke-width="1.8" />
<line x1="83.7" y1="657" x2="89.6" y2="657" stroke="#000" stroke-width="1.8" />
<line x1="85.8" y1="614" x2="89.6" y2="614" stroke="#000" stroke-width="1.8" />
<line x1="83.7" y1="570.9" x2="89.6" y2="570.9" stroke="#000" stroke-width="1.8" />
<line x1="85.8" y1="527.8" x2="89.6" y2="527.8" stroke="#000" stroke-width="1.8" />
<line x1="83.7" y1="484.7" x2="89.6" y2="484.7" stroke="#000" stroke-width="1.8" />
<text transform="translate(79 750.2) scale(1.07 1)" font-size="20" text-anchor="end" fill="#000" >0.8</text>
<text transform="translate(79 664.04) scale(1.07 1)" font-size="20" text-anchor="end" fill="#000" >1.2</text>
<text transform="translate(79 577.88) scale(1.07 1)" font-size="20" text-anchor="end" fill="#000" >1.6</text>
<text transform="translate(79 491.72) scale(1.07 1)" font-size="20" text-anchor="end" fill="#000" >2.0</text>
<line x1="118.1" y1="763.9" x2="118.1" y2="769.1" stroke="#000" stroke-width="1.8" />
<line x1="176" y1="763.9" x2="176" y2="766.6" stroke="#000" stroke-width="1.8" />
<line x1="234" y1="763.9" x2="234" y2="769.1" stroke="#000" stroke-width="1.8" />
<line x1="291.9" y1="763.9" x2="291.9" y2="766.6" stroke="#000" stroke-width="1.8" />
<line x1="349.8" y1="763.9" x2="349.8" y2="769.1" stroke="#000" stroke-width="1.8" />
<line x1="407.8" y1="763.9" x2="407.8" y2="766.6" stroke="#000" stroke-width="1.8" />
<line x1="465.7" y1="763.9" x2="465.7" y2="769.1" stroke="#000" stroke-width="1.8" />
<text transform="translate(118.1 790.8) scale(1.04 1)" font-size="20" text-anchor="middle" fill="#000" >0.0</text>
<text transform="translate(233.97 790.8) scale(1.04 1)" font-size="20" text-anchor="middle" fill="#000" >0.1</text>
<text transform="translate(349.84 790.8) scale(1.04 1)" font-size="20" text-anchor="middle" fill="#000" >0.2</text>
<text transform="translate(464.71 790.8) scale(1.04 1)" font-size="20" text-anchor="middle" fill="#000" >0.3</text>
<text transform="translate(278.8 827.6)" font-size="24.5" text-anchor="middle" fill="#000" style="font-style:italic" >f</text>
<text transform="translate(38.5 613.3) rotate(-90) scale(1.09 1)" font-size="19.5" text-anchor="middle" fill="#000" ><tspan font-style="italic">v</tspan><tspan font-size="13" dy="4">a</tspan><tspan dy="-4">-</tspan><tspan font-style="italic">v</tspan><tspan font-size="13" dy="4">f</tspan><tspan dy="-4"> (× 10</tspan><tspan font-size="13" dy="-7.5">3</tspan><tspan dy="7.5"> cm</tspan><tspan font-size="13" dy="-7.5">-1</tspan><tspan dy="7.5">)</tspan></text>
<text transform="translate(18.5 453.4) scale(1.09 1)" font-size="29.5" text-anchor="start" fill="#000" >(d)</text>
<text transform="translate(106.6 496.6) scale(1.09 1)" font-size="20" text-anchor="start" fill="#000" >M<tspan font-size="14" dy="5">2</tspan><tspan dy="-5">TTM-TBA</tspan></text>
<text transform="translate(202.6 580.6) scale(1.04 1)" font-size="20" text-anchor="start" fill="#ff1414" >16.15 D</text>
</g>
<g id="panel_e">
<defs>
<radialGradient id="gC" cx="0.36" cy="0.32" r="0.75"><stop offset="0" stop-color="#f8f8f8"/><stop offset="0.22" stop-color="#a0a0a0"/><stop offset="0.65" stop-color="#5a5a5a"/><stop offset="1" stop-color="#262626"/></radialGradient>
<radialGradient id="gH" cx="0.38" cy="0.34" r="0.75"><stop offset="0" stop-color="#ffffff"/><stop offset="0.5" stop-color="#e6e6e6"/><stop offset="0.85" stop-color="#a8a8a8"/><stop offset="1" stop-color="#7c7c7c"/></radialGradient>
<radialGradient id="gCl" cx="0.36" cy="0.32" r="0.75"><stop offset="0" stop-color="#9cff9c"/><stop offset="0.25" stop-color="#22d822"/><stop offset="0.7" stop-color="#0cae10"/><stop offset="1" stop-color="#065c08"/></radialGradient>
<radialGradient id="gBl" cx="0.42" cy="0.4" r="0.7"><stop offset="0" stop-color="#58c4ec"/><stop offset="0.6" stop-color="#2aa6dc"/><stop offset="1" stop-color="#1c96d0"/></radialGradient>
<radialGradient id="gGr" cx="0.42" cy="0.4" r="0.7"><stop offset="0" stop-color="#b8e494"/><stop offset="0.55" stop-color="#96d66a"/><stop offset="1" stop-color="#7cc44e"/></radialGradient>
<filter id="bl" x="-20%" y="-20%" width="140%" height="140%"><feGaussianBlur stdDeviation="0.7"/></filter>
<filter id="bl2" x="-20%" y="-20%" width="140%" height="140%"><feGaussianBlur stdDeviation="0.45"/></filter>
</defs>
<rect x="544.3" y="453.4" width="399.8" height="324.3" fill="#fff" stroke="#d6d6d6" stroke-width="3"/>
<g filter="url(#bl2)">
<line x1="684.8" y1="486.7" x2="700" y2="499.9" stroke="#8c8c8c" stroke-width="3.0" stroke-linecap="round"/>
<line x1="700" y1="499.9" x2="730.6" y2="507" stroke="#8c8c8c" stroke-width="3.0" stroke-linecap="round"/>
<line x1="685.8" y1="507" x2="718.4" y2="515.2" stroke="#8c8c8c" stroke-width="3.0" stroke-linecap="round"/>
<line x1="718.4" y1="515.2" x2="730.6" y2="507" stroke="#8c8c8c" stroke-width="3.0" stroke-linecap="round"/>
<line x1="684.8" y1="486.7" x2="685.8" y2="507" stroke="#8c8c8c" stroke-width="3.0" stroke-linecap="round"/>
<line x1="753" y1="505" x2="758.1" y2="517.2" stroke="#8c8c8c" stroke-width="3.0" stroke-linecap="round"/>
<line x1="758.1" y1="517.2" x2="781.5" y2="516.2" stroke="#8c8c8c" stroke-width="3.0" stroke-linecap="round"/>
<line x1="781.5" y1="516.2" x2="799.9" y2="501.9" stroke="#8c8c8c" stroke-width="3.0" stroke-linecap="round"/>
<line x1="799.9" y1="501.9" x2="794.8" y2="488.7" stroke="#8c8c8c" stroke-width="3.0" stroke-linecap="round"/>
<line x1="794.8" y1="488.7" x2="772.4" y2="489.7" stroke="#8c8c8c" stroke-width="3.0" stroke-linecap="round"/>
<line x1="772.4" y1="489.7" x2="753" y2="505" stroke="#8c8c8c" stroke-width="3.0" stroke-linecap="round"/>
<line x1="730.6" y1="507" x2="753" y2="505" stroke="#8c8c8c" stroke-width="3.0" stroke-linecap="round"/>
<line x1="702.7" y1="645.2" x2="715.8" y2="651" stroke="#8c8c8c" stroke-width="3.0" stroke-linecap="round"/>
<line x1="702.7" y1="645.2" x2="680.4" y2="658" stroke="#8c8c8c" stroke-width="3.0" stroke-linecap="round"/>
<line x1="680.4" y1="658" x2="671.3" y2="677.6" stroke="#8c8c8c" stroke-width="3.0" stroke-linecap="round"/>
<line x1="671.3" y1="677.6" x2="685.2" y2="683.4" stroke="#8c8c8c" stroke-width="3.0" stroke-linecap="round"/>
<line x1="685.2" y1="683.4" x2="705.6" y2="670" stroke="#8c8c8c" stroke-width="3.0" stroke-linecap="round"/>
<line x1="705.6" y1="670" x2="715.8" y2="651" stroke="#8c8c8c" stroke-width="3.0" stroke-linecap="round"/>
<line x1="757.9" y1="652.3" x2="774.8" y2="646.6" stroke="#8c8c8c" stroke-width="3.0" stroke-linecap="round"/>
<line x1="774.8" y1="646.6" x2="794.9" y2="659" stroke="#8c8c8c" stroke-width="3.0" stroke-linecap="round"/>
<line x1="794.9" y1="659" x2="804.4" y2="678.2" stroke="#8c8c8c" stroke-width="3.0" stroke-linecap="round"/>
<line x1="804.4" y1="678.2" x2="788.2" y2="685.2" stroke="#8c8c8c" stroke-width="3.0" stroke-linecap="round"/>
<line x1="788.2" y1="685.2" x2="769.1" y2="670.6" stroke="#8c8c8c" stroke-width="3.0" stroke-linecap="round"/>
<line x1="769.1" y1="670.6" x2="757.9" y2="652.3" stroke="#8c8c8c" stroke-width="3.0" stroke-linecap="round"/>
<line x1="623.7" y1="655.9" x2="625.5" y2="682" stroke="#8c8c8c" stroke-width="3.0" stroke-linecap="round"/>
<line x1="625.5" y1="682" x2="648.5" y2="691" stroke="#8c8c8c" stroke-width="3.0" stroke-linecap="round"/>
<line x1="648.5" y1="691" x2="650.3" y2="714.3" stroke="#8c8c8c" stroke-width="3.0" stroke-linecap="round"/>
<line x1="650.3" y1="714.3" x2="628.2" y2="726" stroke="#8c8c8c" stroke-width="3.0" stroke-linecap="round"/>
<line x1="628.2" y1="726" x2="604.8" y2="717.9" stroke="#8c8c8c" stroke-width="3.0" stroke-linecap="round"/>
<line x1="604.8" y1="717.9" x2="603.9" y2="694.6" stroke="#8c8c8c" stroke-width="3.0" stroke-linecap="round"/>
<line x1="603.9" y1="694.6" x2="625.5" y2="682" stroke="#8c8c8c" stroke-width="3.0" stroke-linecap="round"/>
<line x1="604.8" y1="717.9" x2="582.3" y2="730.5" stroke="#8c8c8c" stroke-width="3.0" stroke-linecap="round"/>
<line x1="650.3" y1="714.3" x2="674.9" y2="725.1" stroke="#8c8c8c" stroke-width="3.0" stroke-linecap="round"/>
<line x1="648.5" y1="691" x2="671.3" y2="677.6" stroke="#8c8c8c" stroke-width="3.0" stroke-linecap="round"/>
<line x1="850.9" y1="663.1" x2="848.2" y2="686.5" stroke="#8c8c8c" stroke-width="3.0" stroke-linecap="round"/>
<line x1="848.2" y1="686.5" x2="825.5" y2="693.4" stroke="#8c8c8c" stroke-width="3.0" stroke-linecap="round"/>
<line x1="825.5" y1="693.4" x2="823" y2="714.3" stroke="#8c8c8c" stroke-width="3.0" stroke-linecap="round"/>
<line x1="823" y1="714.3" x2="844.6" y2="727.8" stroke="#8c8c8c" stroke-width="3.0" stroke-linecap="round"/>
<line x1="844.6" y1="727.8" x2="867.9" y2="720.6" stroke="#8c8c8c" stroke-width="3.0" stroke-linecap="round"/>
<line x1="867.9" y1="720.6" x2="869.2" y2="699.1" stroke="#8c8c8c" stroke-width="3.0" stroke-linecap="round"/>
<line x1="869.2" y1="699.1" x2="848.2" y2="686.5" stroke="#8c8c8c" stroke-width="3.0" stroke-linecap="round"/>
<line x1="823" y1="714.3" x2="799.9" y2="723" stroke="#8c8c8c" stroke-width="3.0" stroke-linecap="round"/>
<line x1="867.9" y1="720.6" x2="891.3" y2="735" stroke="#8c8c8c" stroke-width="3.0" stroke-linecap="round"/>
<line x1="825.5" y1="693.4" x2="804.4" y2="678.2" stroke="#8c8c8c" stroke-width="3.0" stroke-linecap="round"/>
<line x1="717.2" y1="594.3" x2="719.5" y2="578" stroke="#9a9a9a" stroke-width="2.8" stroke-linecap="round"/>
<line x1="755.9" y1="596.3" x2="757" y2="578" stroke="#9a9a9a" stroke-width="2.8" stroke-linecap="round"/>
<line x1="740.3" y1="543" x2="740.3" y2="558" stroke="#9a9a9a" stroke-width="2.8" stroke-linecap="round"/>
<line x1="715.8" y1="651" x2="737.6" y2="640" stroke="#9a9a9a" stroke-width="2.8" stroke-linecap="round"/>
<line x1="757.9" y1="652.3" x2="737.6" y2="640" stroke="#9a9a9a" stroke-width="2.8" stroke-linecap="round"/>
<line x1="737.6" y1="640" x2="738" y2="612" stroke="#9a9a9a" stroke-width="2.8" stroke-linecap="round"/>
<line x1="717.2" y1="594.3" x2="738" y2="606" stroke="#9a9a9a" stroke-width="2.8" stroke-linecap="round"/>
<line x1="755.9" y1="596.3" x2="738" y2="606" stroke="#9a9a9a" stroke-width="2.8" stroke-linecap="round"/>
<line x1="705.2" y1="561" x2="713" y2="568" stroke="#9a9a9a" stroke-width="2.8" stroke-linecap="round"/>
<line x1="772.4" y1="561.6" x2="765" y2="568" stroke="#9a9a9a" stroke-width="2.8" stroke-linecap="round"/>
<line x1="730.6" y1="507" x2="740" y2="528" stroke="#9a9a9a" stroke-width="2.8" stroke-linecap="round"/>
<line x1="753" y1="505" x2="741" y2="528" stroke="#9a9a9a" stroke-width="2.8" stroke-linecap="round"/>
<line x1="717.2" y1="594.3" x2="706.5" y2="601.9" stroke="#8c8c8c" stroke-width="3.0" />
<line x1="706.5" y1="601.9" x2="695.8" y2="609.5" stroke="#18c018" stroke-width="3.0" />
<line x1="755.9" y1="596.3" x2="768.1" y2="603.4" stroke="#8c8c8c" stroke-width="3.0" />
<line x1="768.1" y1="603.4" x2="780.3" y2="610.5" stroke="#18c018" stroke-width="3.0" />
<line x1="702.7" y1="645.2" x2="706.6" y2="634" stroke="#8c8c8c" stroke-width="3.0" />
<line x1="706.6" y1="634" x2="710.5" y2="622.8" stroke="#18c018" stroke-width="3.0" />
<line x1="774.8" y1="646.6" x2="770" y2="635.2" stroke="#8c8c8c" stroke-width="3.0" />
<line x1="770" y1="635.2" x2="765.1" y2="623.8" stroke="#18c018" stroke-width="3.0" />
<line x1="705.6" y1="670" x2="713" y2="674.4" stroke="#8c8c8c" stroke-width="3.0" />
<line x1="713" y1="674.4" x2="720.3" y2="678.8" stroke="#18c018" stroke-width="3.0" />
<line x1="769.1" y1="670.6" x2="762" y2="675.2" stroke="#8c8c8c" stroke-width="3.0" />
<line x1="762" y1="675.2" x2="754.9" y2="679.8" stroke="#18c018" stroke-width="3.0" />
<line x1="684.8" y1="486.7" x2="677.6" y2="481.1" stroke="#8c8c8c" stroke-width="2.6" />
<line x1="677.6" y1="481.1" x2="670.5" y2="475.5" stroke="#d8d8d8" stroke-width="2.6" />
<line x1="685.8" y1="507" x2="677.1" y2="508.6" stroke="#8c8c8c" stroke-width="2.6" />
<line x1="677.1" y1="508.6" x2="668.5" y2="510.1" stroke="#d8d8d8" stroke-width="2.6" />
<line x1="772.4" y1="489.7" x2="770.3" y2="485.1" stroke="#8c8c8c" stroke-width="2.6" />
<line x1="770.3" y1="485.1" x2="768.3" y2="480.5" stroke="#d8d8d8" stroke-width="2.6" />
<line x1="794.8" y1="488.7" x2="801.9" y2="483.1" stroke="#8c8c8c" stroke-width="2.6" />
<line x1="801.9" y1="483.1" x2="809" y2="477.5" stroke="#d8d8d8" stroke-width="2.6" />
<line x1="799.9" y1="501.9" x2="808.5" y2="501.4" stroke="#8c8c8c" stroke-width="2.6" />
<line x1="808.5" y1="501.4" x2="817.2" y2="500.9" stroke="#d8d8d8" stroke-width="2.6" />
<line x1="781.5" y1="516.2" x2="783" y2="521.3" stroke="#8c8c8c" stroke-width="2.6" />
<line x1="783" y1="521.3" x2="784.6" y2="526.4" stroke="#d8d8d8" stroke-width="2.6" />
<line x1="718.4" y1="515.2" x2="724.5" y2="520.3" stroke="#8c8c8c" stroke-width="2.6" />
<line x1="724.5" y1="520.3" x2="730.6" y2="525.4" stroke="#d8d8d8" stroke-width="2.6" />
<line x1="623.7" y1="655.9" x2="626.9" y2="649.2" stroke="#8c8c8c" stroke-width="2.6" />
<line x1="626.9" y1="649.2" x2="630" y2="642.5" stroke="#d8d8d8" stroke-width="2.6" />
<line x1="623.7" y1="655.9" x2="613.8" y2="655" stroke="#8c8c8c" stroke-width="2.6" />
<line x1="613.8" y1="655" x2="603.9" y2="654.1" stroke="#d8d8d8" stroke-width="2.6" />
<line x1="623.7" y1="655.9" x2="629.1" y2="657.2" stroke="#8c8c8c" stroke-width="2.6" />
<line x1="629.1" y1="657.2" x2="634.5" y2="658.6" stroke="#d8d8d8" stroke-width="2.6" />
<line x1="603.9" y1="694.6" x2="594.9" y2="691" stroke="#8c8c8c" stroke-width="2.6" />
<line x1="594.9" y1="691" x2="585.9" y2="687.4" stroke="#d8d8d8" stroke-width="2.6" />
<line x1="582.3" y1="730.5" x2="574.7" y2="728.7" stroke="#8c8c8c" stroke-width="2.6" />
<line x1="574.7" y1="728.7" x2="567.1" y2="726.9" stroke="#d8d8d8" stroke-width="2.6" />
<line x1="582.3" y1="730.5" x2="579.2" y2="726.9" stroke="#8c8c8c" stroke-width="2.6" />
<line x1="579.2" y1="726.9" x2="576.1" y2="723.3" stroke="#d8d8d8" stroke-width="2.6" />
<line x1="582.3" y1="730.5" x2="583.6" y2="740.4" stroke="#8c8c8c" stroke-width="2.6" />
<line x1="583.6" y1="740.4" x2="585" y2="750.3" stroke="#d8d8d8" stroke-width="2.6" />
<line x1="628.2" y1="726" x2="629.1" y2="735" stroke="#8c8c8c" stroke-width="2.6" />
<line x1="629.1" y1="735" x2="630" y2="744" stroke="#d8d8d8" stroke-width="2.6" />
<line x1="674.9" y1="725.1" x2="680.3" y2="718.4" stroke="#8c8c8c" stroke-width="2.6" />
<line x1="680.3" y1="718.4" x2="685.7" y2="711.6" stroke="#d8d8d8" stroke-width="2.6" />
<line x1="674.9" y1="725.1" x2="680.8" y2="726.9" stroke="#8c8c8c" stroke-width="2.6" />
<line x1="680.8" y1="726.9" x2="686.6" y2="728.7" stroke="#d8d8d8" stroke-width="2.6" />
<line x1="674.9" y1="725.1" x2="673.5" y2="733.7" stroke="#8c8c8c" stroke-width="2.6" />
<line x1="673.5" y1="733.7" x2="672.2" y2="742.2" stroke="#d8d8d8" stroke-width="2.6" />
<line x1="680.4" y1="658" x2="675.4" y2="655.1" stroke="#8c8c8c" stroke-width="2.6" />
<line x1="675.4" y1="655.1" x2="670.4" y2="652.3" stroke="#d8d8d8" stroke-width="2.6" />
<line x1="685.2" y1="683.4" x2="681.6" y2="690.8" stroke="#8c8c8c" stroke-width="2.6" />
<line x1="681.6" y1="690.8" x2="678" y2="698.2" stroke="#d8d8d8" stroke-width="2.6" />
<line x1="850.9" y1="663.1" x2="847.8" y2="655" stroke="#8c8c8c" stroke-width="2.6" />
<line x1="847.8" y1="655" x2="844.6" y2="647" stroke="#d8d8d8" stroke-width="2.6" />
<line x1="850.9" y1="663.1" x2="845" y2="664.5" stroke="#8c8c8c" stroke-width="2.6" />
<line x1="845" y1="664.5" x2="839.2" y2="665.8" stroke="#d8d8d8" stroke-width="2.6" />
<line x1="850.9" y1="663.1" x2="860.8" y2="662.2" stroke="#8c8c8c" stroke-width="2.6" />
<line x1="860.8" y1="662.2" x2="870.6" y2="661.3" stroke="#d8d8d8" stroke-width="2.6" />
<line x1="869.2" y1="699.1" x2="878" y2="696.9" stroke="#8c8c8c" stroke-width="2.6" />
<line x1="878" y1="696.9" x2="886.8" y2="694.6" stroke="#d8d8d8" stroke-width="2.6" />
<line x1="891.3" y1="735" x2="895.8" y2="730" stroke="#8c8c8c" stroke-width="2.6" />
<line x1="895.8" y1="730" x2="900.3" y2="725.1" stroke="#d8d8d8" stroke-width="2.6" />
<line x1="891.3" y1="735" x2="897.6" y2="736.4" stroke="#8c8c8c" stroke-width="2.6" />
<line x1="897.6" y1="736.4" x2="903.9" y2="737.7" stroke="#d8d8d8" stroke-width="2.6" />
<line x1="891.3" y1="735" x2="889" y2="744" stroke="#8c8c8c" stroke-width="2.6" />
<line x1="889" y1="744" x2="886.8" y2="753" stroke="#d8d8d8" stroke-width="2.6" />
<line x1="844.6" y1="727.8" x2="844.2" y2="735.9" stroke="#8c8c8c" stroke-width="2.6" />
<line x1="844.2" y1="735.9" x2="843.7" y2="744" stroke="#d8d8d8" stroke-width="2.6" />
<line x1="799.9" y1="723" x2="795.2" y2="715.8" stroke="#8c8c8c" stroke-width="2.6" />
<line x1="795.2" y1="715.8" x2="790.6" y2="708.6" stroke="#d8d8d8" stroke-width="2.6" />
<line x1="799.9" y1="723" x2="793" y2="725" stroke="#8c8c8c" stroke-width="2.6" />
<line x1="793" y1="725" x2="786.2" y2="726.9" stroke="#d8d8d8" stroke-width="2.6" />
<line x1="799.9" y1="723" x2="800.6" y2="731.7" stroke="#8c8c8c" stroke-width="2.6" />
<line x1="800.6" y1="731.7" x2="801.4" y2="740.4" stroke="#d8d8d8" stroke-width="2.6" />
<line x1="794.9" y1="659" x2="800" y2="657.1" stroke="#8c8c8c" stroke-width="2.6" />
<line x1="800" y1="657.1" x2="805" y2="655.2" stroke="#d8d8d8" stroke-width="2.6" />
<line x1="788.2" y1="685.2" x2="791.6" y2="692.7" stroke="#8c8c8c" stroke-width="2.6" />
<line x1="791.6" y1="692.7" x2="795" y2="700.1" stroke="#d8d8d8" stroke-width="2.6" />
<circle cx="670.5" cy="475.5" r="3.8" fill="url(#gH)"/>
<circle cx="668.5" cy="510.1" r="3.8" fill="url(#gH)"/>
<circle cx="768.3" cy="480.5" r="3.8" fill="url(#gH)"/>
<circle cx="809" cy="477.5" r="3.8" fill="url(#gH)"/>
<circle cx="817.2" cy="500.9" r="3.8" fill="url(#gH)"/>
<circle cx="784.6" cy="526.4" r="3.8" fill="url(#gH)"/>
<circle cx="730.6" cy="525.4" r="3.8" fill="url(#gH)"/>
<circle cx="705.2" cy="561" r="3.8" fill="url(#gH)"/>
<circle cx="772.4" cy="561.6" r="3.8" fill="url(#gH)"/>
<circle cx="630" cy="642.5" r="3.8" fill="url(#gH)"/>
<circle cx="603.9" cy="654.1" r="3.8" fill="url(#gH)"/>
<circle cx="634.5" cy="658.6" r="3.8" fill="url(#gH)"/>
<circle cx="585.9" cy="687.4" r="3.8" fill="url(#gH)"/>
<circle cx="567.1" cy="726.9" r="3.8" fill="url(#gH)"/>
<circle cx="576.1" cy="723.3" r="3.8" fill="url(#gH)"/>
<circle cx="585" cy="750.3" r="3.8" fill="url(#gH)"/>
<circle cx="630" cy="744" r="3.8" fill="url(#gH)"/>
<circle cx="685.7" cy="711.6" r="3.8" fill="url(#gH)"/>
<circle cx="686.6" cy="728.7" r="3.8" fill="url(#gH)"/>
<circle cx="672.2" cy="742.2" r="3.8" fill="url(#gH)"/>
<circle cx="670.4" cy="652.3" r="3.8" fill="url(#gH)"/>
<circle cx="678" cy="698.2" r="3.8" fill="url(#gH)"/>
<circle cx="844.6" cy="647" r="3.8" fill="url(#gH)"/>
<circle cx="839.2" cy="665.8" r="3.8" fill="url(#gH)"/>
<circle cx="870.6" cy="661.3" r="3.8" fill="url(#gH)"/>
<circle cx="886.8" cy="694.6" r="3.8" fill="url(#gH)"/>
<circle cx="900.3" cy="725.1" r="3.8" fill="url(#gH)"/>
<circle cx="903.9" cy="737.7" r="3.8" fill="url(#gH)"/>
<circle cx="886.8" cy="753" r="3.8" fill="url(#gH)"/>
<circle cx="843.7" cy="744" r="3.8" fill="url(#gH)"/>
<circle cx="790.6" cy="708.6" r="3.8" fill="url(#gH)"/>
<circle cx="786.2" cy="726.9" r="3.8" fill="url(#gH)"/>
<circle cx="801.4" cy="740.4" r="3.8" fill="url(#gH)"/>
<circle cx="805" cy="655.2" r="3.8" fill="url(#gH)"/>
<circle cx="795" cy="700.1" r="3.8" fill="url(#gH)"/>
<circle cx="684.8" cy="486.7" r="5.9" fill="url(#gC)"/>
<circle cx="685.8" cy="507" r="5.9" fill="url(#gC)"/>
<circle cx="700" cy="499.9" r="5.9" fill="url(#gC)"/>
<circle cx="718.4" cy="515.2" r="5.9" fill="url(#gC)"/>
<circle cx="730.6" cy="507" r="5.9" fill="url(#gC)"/>
<circle cx="753" cy="505" r="5.9" fill="url(#gC)"/>
<circle cx="758.1" cy="517.2" r="5.9" fill="url(#gC)"/>
<circle cx="772.4" cy="489.7" r="5.9" fill="url(#gC)"/>
<circle cx="794.8" cy="488.7" r="5.9" fill="url(#gC)"/>
<circle cx="799.9" cy="501.9" r="5.9" fill="url(#gC)"/>
<circle cx="781.5" cy="516.2" r="5.9" fill="url(#gC)"/>
<circle cx="717.2" cy="594.3" r="5.9" fill="url(#gC)"/>
<circle cx="755.9" cy="596.3" r="5.9" fill="url(#gC)"/>
<circle cx="702.7" cy="645.2" r="5.9" fill="url(#gC)"/>
<circle cx="715.8" cy="651" r="5.9" fill="url(#gC)"/>
<circle cx="680.4" cy="658" r="5.9" fill="url(#gC)"/>
<circle cx="705.6" cy="670" r="5.9" fill="url(#gC)"/>
<circle cx="671.3" cy="677.6" r="5.9" fill="url(#gC)"/>
<circle cx="685.2" cy="683.4" r="5.9" fill="url(#gC)"/>
<circle cx="757.9" cy="652.3" r="5.9" fill="url(#gC)"/>
<circle cx="774.8" cy="646.6" r="5.9" fill="url(#gC)"/>
<circle cx="769.1" cy="670.6" r="5.9" fill="url(#gC)"/>
<circle cx="794.9" cy="659" r="5.9" fill="url(#gC)"/>
<circle cx="788.2" cy="685.2" r="5.9" fill="url(#gC)"/>
<circle cx="804.4" cy="678.2" r="5.9" fill="url(#gC)"/>
<circle cx="623.7" cy="655.9" r="5.9" fill="url(#gC)"/>
<circle cx="625.5" cy="682" r="5.9" fill="url(#gC)"/>
<circle cx="648.5" cy="691" r="5.9" fill="url(#gC)"/>
<circle cx="650.3" cy="714.3" r="5.9" fill="url(#gC)"/>
<circle cx="628.2" cy="726" r="5.9" fill="url(#gC)"/>
<circle cx="604.8" cy="717.9" r="5.9" fill="url(#gC)"/>
<circle cx="603.9" cy="694.6" r="5.9" fill="url(#gC)"/>
<circle cx="582.3" cy="730.5" r="5.9" fill="url(#gC)"/>
<circle cx="674.9" cy="725.1" r="5.9" fill="url(#gC)"/>
<circle cx="850.9" cy="663.1" r="5.9" fill="url(#gC)"/>
<circle cx="848.2" cy="686.5" r="5.9" fill="url(#gC)"/>
<circle cx="825.5" cy="693.4" r="5.9" fill="url(#gC)"/>
<circle cx="823" cy="714.3" r="5.9" fill="url(#gC)"/>
<circle cx="844.6" cy="727.8" r="5.9" fill="url(#gC)"/>
<circle cx="867.9" cy="720.6" r="5.9" fill="url(#gC)"/>
<circle cx="869.2" cy="699.1" r="5.9" fill="url(#gC)"/>
<circle cx="799.9" cy="723" r="5.9" fill="url(#gC)"/>
<circle cx="891.3" cy="735" r="5.9" fill="url(#gC)"/>
</g>
<g filter="url(#bl)">
<ellipse cx="739.8" cy="556.9" rx="11.5" ry="6.5" fill="url(#gGr)" fill-opacity="0.88" transform="rotate(0 739.8 556.9)"/>
<ellipse cx="725.4" cy="598.3" rx="11.5" ry="10.5" fill="url(#gGr)" fill-opacity="0.88" transform="rotate(0 725.4 598.3)"/>
<ellipse cx="714.5" cy="593.5" rx="5" ry="5" fill="url(#gGr)" fill-opacity="0.88" transform="rotate(0 714.5 593.5)"/>
<ellipse cx="751.8" cy="596.3" rx="10.5" ry="8" fill="url(#gGr)" fill-opacity="0.88" transform="rotate(0 751.8 596.3)"/>
<ellipse cx="762.5" cy="594.3" rx="6" ry="6" fill="url(#gGr)" fill-opacity="0.88" transform="rotate(0 762.5 594.3)"/>
<ellipse cx="737.6" cy="639.3" rx="20.5" ry="18.5" fill="url(#gGr)" fill-opacity="0.88" transform="rotate(0 737.6 639.3)"/>
<ellipse cx="752" cy="632" rx="7" ry="12" fill="url(#gGr)" fill-opacity="0.88" transform="rotate(0 752 632)"/>
<ellipse cx="694.8" cy="641.1" rx="6.5" ry="5.5" fill="url(#gGr)" fill-opacity="0.88" transform="rotate(0 694.8 641.1)"/>
<ellipse cx="702.2" cy="663" rx="10" ry="11" fill="url(#gGr)" fill-opacity="0.88" transform="rotate(0 702.2 663)"/>
<ellipse cx="708" cy="648.2" rx="5.5" ry="6.5" fill="url(#gGr)" fill-opacity="0.88" transform="rotate(0 708 648.2)"/>
<ellipse cx="666.3" cy="670.6" rx="9.5" ry="8.5" fill="url(#gGr)" fill-opacity="0.88" transform="rotate(0 666.3 670.6)"/>
<ellipse cx="674.4" cy="685.9" rx="7.5" ry="5.5" fill="url(#gGr)" fill-opacity="0.88" transform="rotate(0 674.4 685.9)"/>
<ellipse cx="705" cy="679.8" rx="5.5" ry="4.5" fill="url(#gGr)" fill-opacity="0.88" transform="rotate(0 705 679.8)"/>
<ellipse cx="769.3" cy="652" rx="9.5" ry="11.5" fill="url(#gGr)" fill-opacity="0.88" transform="rotate(0 769.3 652)"/>
<ellipse cx="780.6" cy="642.1" rx="6.5" ry="5.5" fill="url(#gGr)" fill-opacity="0.88" transform="rotate(0 780.6 642.1)"/>
<ellipse cx="774.4" cy="665.5" rx="9.5" ry="8.5" fill="url(#gGr)" fill-opacity="0.88" transform="rotate(0 774.4 665.5)"/>
<ellipse cx="767.1" cy="679.8" rx="6.5" ry="5.5" fill="url(#gGr)" fill-opacity="0.88" transform="rotate(0 767.1 679.8)"/>
<ellipse cx="808.9" cy="673.7" rx="8.5" ry="7.5" fill="url(#gGr)" fill-opacity="0.88" transform="rotate(0 808.9 673.7)"/>
<ellipse cx="799.7" cy="684.9" rx="9.5" ry="9.5" fill="url(#gGr)" fill-opacity="0.88" transform="rotate(0 799.7 684.9)"/>
<ellipse cx="708.2" cy="511.5" rx="10" ry="6.5" fill="url(#gBl)" fill-opacity="0.9" transform="rotate(25 708.2 511.5)"/>
<ellipse cx="722" cy="506.5" rx="6" ry="5" fill="url(#gBl)" fill-opacity="0.9" transform="rotate(0 722 506.5)"/>
<ellipse cx="765.5" cy="511" rx="15" ry="6.5" fill="url(#gBl)" fill-opacity="0.9" transform="rotate(-12 765.5 511)"/>
<ellipse cx="740.8" cy="531.5" rx="17.5" ry="16.5" fill="url(#gBl)" fill-opacity="0.9" transform="rotate(0 740.8 531.5)"/>
<ellipse cx="721.5" cy="571.5" rx="17.5" ry="10.5" fill="url(#gBl)" fill-opacity="0.9" transform="rotate(0 721.5 571.5)"/>
<ellipse cx="757.5" cy="571.5" rx="18" ry="10.5" fill="url(#gBl)" fill-opacity="0.9" transform="rotate(0 757.5 571.5)"/>
<ellipse cx="739.5" cy="574" rx="10" ry="8" fill="url(#gBl)" fill-opacity="0.9" transform="rotate(0 739.5 574)"/>
<ellipse cx="738.6" cy="611" rx="18.5" ry="14.5" fill="url(#gBl)" fill-opacity="0.9" transform="rotate(0 738.6 611)"/>
</g>
<g filter="url(#bl2)">
<circle cx="718.4" cy="515.2" r="5.9" fill="url(#gC)" opacity="0.85"/>
<circle cx="730.6" cy="507" r="5.9" fill="url(#gC)" opacity="0.85"/>
<circle cx="753" cy="505" r="5.9" fill="url(#gC)" opacity="0.85"/>
<circle cx="758.1" cy="517.2" r="5.9" fill="url(#gC)" opacity="0.85"/>
<circle cx="730.6" cy="525.4" r="3.8" fill="url(#gH)"/>
<circle cx="695.8" cy="609.5" r="7.6" fill="url(#gCl)"/>
<circle cx="780.3" cy="610.5" r="7.6" fill="url(#gCl)"/>
<circle cx="710.5" cy="622.8" r="7.6" fill="url(#gCl)"/>
<circle cx="765.1" cy="623.8" r="7.6" fill="url(#gCl)"/>
<circle cx="720.3" cy="678.8" r="7.6" fill="url(#gCl)"/>
<circle cx="754.9" cy="679.8" r="7.6" fill="url(#gCl)"/>
</g>
<text transform="translate(494 452.1)" font-size="30" text-anchor="start" fill="#000" >(e)</text>
<text transform="translate(817 586.4) scale(1.06 1)" font-size="20" text-anchor="start" fill="#000" >S<tspan font-size="13" dy="4">r</tspan><tspan dy="-4"> = 0.514</tspan></text>
<text transform="translate(801 611.7) scale(1.06 1)" font-size="20" text-anchor="start" fill="#000" >D<tspan font-size="13" dy="4">CT</tspan><tspan dy="-4"> = 3.707</tspan><tspan dx="2">Å</tspan></text>
</g>
<g id="panel_f">
<rect x="1059.2" y="659.9" width="41.3" height="90.8" fill="#c8c8c8" stroke="#444" stroke-width="1.1"/>
<text transform="translate(1079.5 773.8) scale(0.985 1)" font-size="22" text-anchor="middle" fill="#000" >CYH</text>
<rect x="1149.3" y="548.5" width="39.7" height="202.2" fill="#62b8dc" stroke="#444" stroke-width="1.1"/>
<text transform="translate(1168.5 773.8) scale(0.985 1)" font-size="22" text-anchor="middle" fill="#000" >TOL</text>
<rect x="1238.7" y="536.1" width="40.9" height="214.6" fill="#f5b27a" stroke="#444" stroke-width="1.1"/>
<text transform="translate(1258.5 773.8) scale(0.985 1)" font-size="22" text-anchor="middle" fill="#000" >TCM</text>
<rect x="1328.5" y="519.6" width="41.4" height="231.1" fill="#e57470" stroke="#444" stroke-width="1.1"/>
<text transform="translate(1355.5 773.8) scale(0.985 1)" font-size="22" text-anchor="middle" fill="#000" >MeCN</text>
<rect x="1035" y="461.8" width="359.8" height="288.9" fill="none" stroke="#000" stroke-width="2"/>
<line x1="1029.1" y1="750.7" x2="1035" y2="750.7" stroke="#000" stroke-width="1.8" />
<line x1="1031.2" y1="730.1" x2="1035" y2="730.1" stroke="#000" stroke-width="1.8" />
<line x1="1029.1" y1="709.4" x2="1035" y2="709.4" stroke="#000" stroke-width="1.8" />
<line x1="1031.2" y1="688.8" x2="1035" y2="688.8" stroke="#000" stroke-width="1.8" />
<line x1="1029.1" y1="668.2" x2="1035" y2="668.2" stroke="#000" stroke-width="1.8" />
<line x1="1031.2" y1="647.5" x2="1035" y2="647.5" stroke="#000" stroke-width="1.8" />
<line x1="1029.1" y1="626.9" x2="1035" y2="626.9" stroke="#000" stroke-width="1.8" />
<line x1="1031.2" y1="606.3" x2="1035" y2="606.3" stroke="#000" stroke-width="1.8" />
<line x1="1029.1" y1="585.6" x2="1035" y2="585.6" stroke="#000" stroke-width="1.8" />
<line x1="1031.2" y1="565" x2="1035" y2="565" stroke="#000" stroke-width="1.8" />
<line x1="1029.1" y1="544.4" x2="1035" y2="544.4" stroke="#000" stroke-width="1.8" />
<line x1="1031.2" y1="523.7" x2="1035" y2="523.7" stroke="#000" stroke-width="1.8" />
<line x1="1029.1" y1="503.1" x2="1035" y2="503.1" stroke="#000" stroke-width="1.8" />
<line x1="1031.2" y1="482.4" x2="1035" y2="482.4" stroke="#000" stroke-width="1.8" />
<line x1="1029.1" y1="461.8" x2="1035" y2="461.8" stroke="#000" stroke-width="1.8" />
<text transform="translate(1025.5 756.1) scale(1.07 1)" font-size="20.5" text-anchor="end" fill="#000" >0</text>
<text transform="translate(1025.5 714.83) scale(1.07 1)" font-size="20.5" text-anchor="end" fill="#000" >10</text>
<text transform="translate(1025.5 673.56) scale(1.07 1)" font-size="20.5" text-anchor="end" fill="#000" >20</text>
<text transform="translate(1025.5 632.29) scale(1.07 1)" font-size="20.5" text-anchor="end" fill="#000" >30</text>
<text transform="translate(1025.5 591.02) scale(1.07 1)" font-size="20.5" text-anchor="end" fill="#000" >40</text>
<text transform="translate(1025.5 549.75) scale(1.07 1)" font-size="20.5" text-anchor="end" fill="#000" >50</text>
<text transform="translate(1025.5 508.48) scale(1.07 1)" font-size="20.5" text-anchor="end" fill="#000" >60</text>
<text transform="translate(1025.5 467.21) scale(1.07 1)" font-size="20.5" text-anchor="end" fill="#000" >70</text>
<text transform="translate(1213.8 808.3) scale(1.09 1)" font-size="22.5" text-anchor="middle" fill="#000" >Solvent</text>
<text transform="translate(990.8 604) rotate(-90) scale(1.13 1)" font-size="22" text-anchor="middle" fill="#000" >PLQY (%)</text>
<text transform="translate(952.6 452.2) scale(1.17 1)" font-size="30" text-anchor="start" fill="#000" >(f)</text>
<text transform="translate(1049.5 487.9) scale(1.05 1)" font-size="19.5" text-anchor="start" fill="#000" >M<tspan font-size="14" dy="5">2</tspan><tspan dy="-5">TTM-TBA</tspan></text>
</g>
</svg>
</body></html>
